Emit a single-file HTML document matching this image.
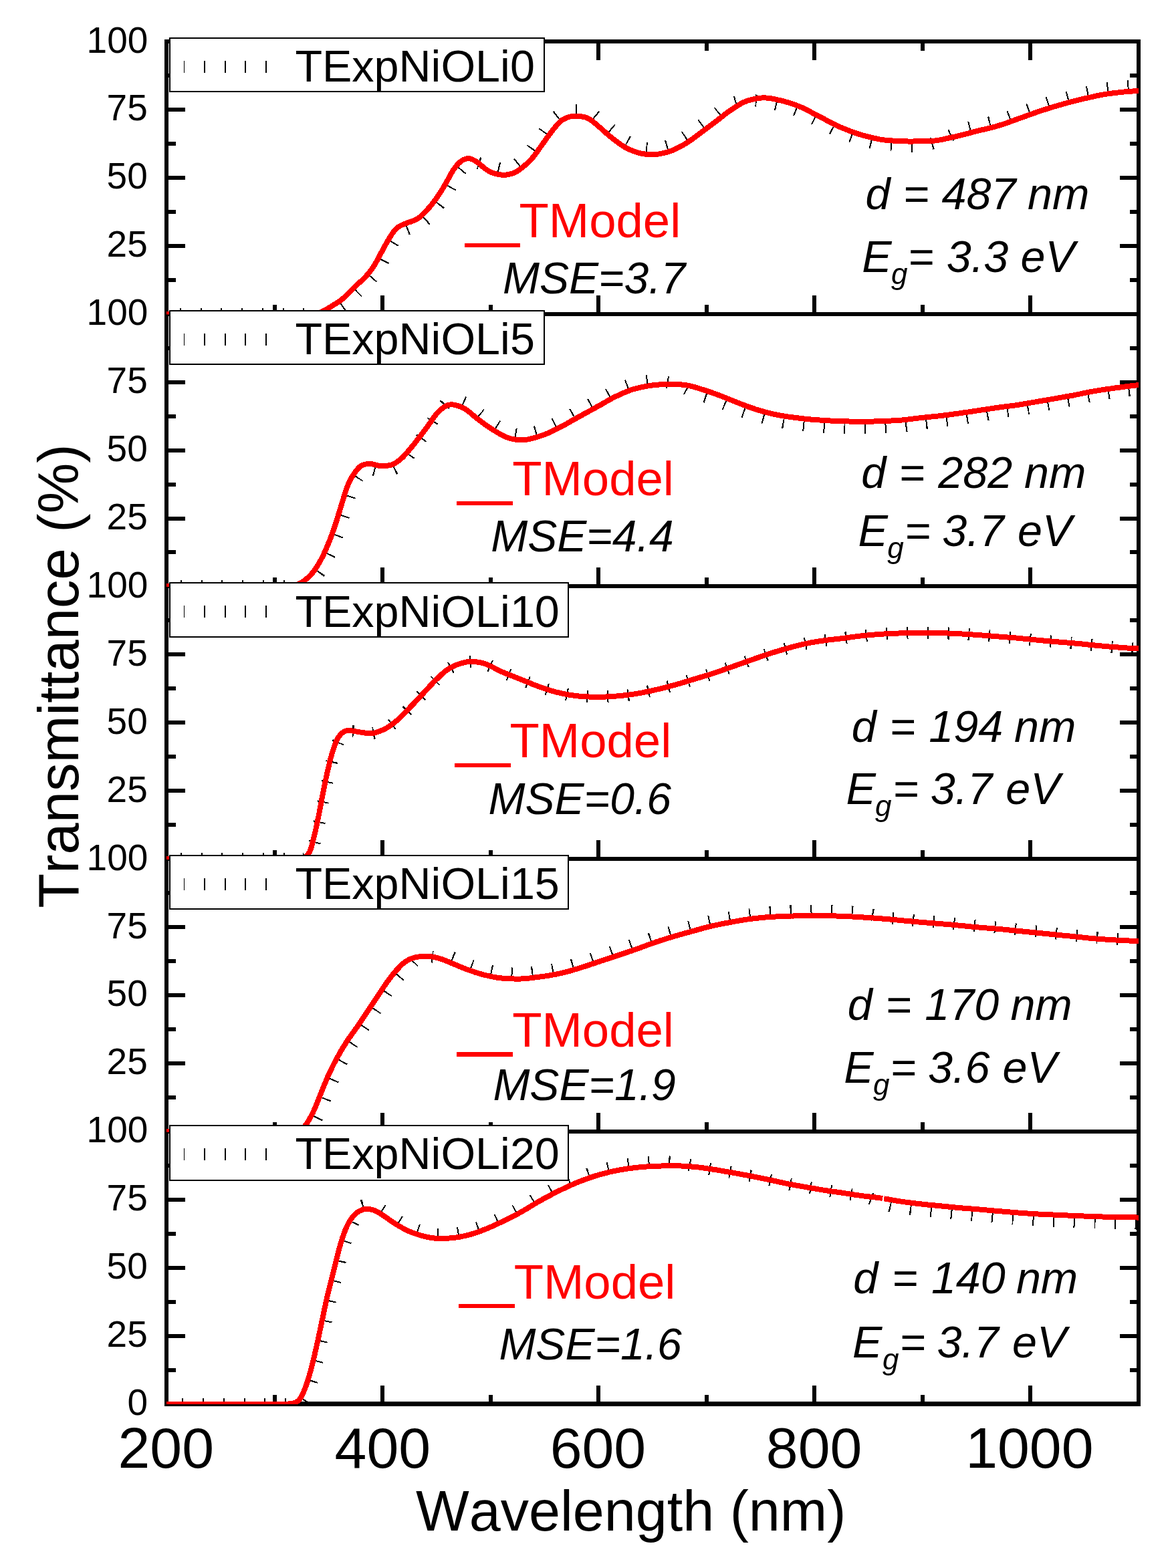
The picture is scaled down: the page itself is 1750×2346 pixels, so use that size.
<!DOCTYPE html><html><head><meta charset="utf-8"><title>Transmittance</title><style>html,body{margin:0;padding:0;background:#fff;}svg{display:block;}text{font-family:'Liberation Sans', Arial, sans-serif;font-kerning:none;}</style></head><body>
<svg width="1750" height="2346" viewBox="0 0 1750 2346" shape-rendering="crispEdges">
<rect width="1750" height="2346" fill="#fff"/>
<defs>
<clipPath id="c0"><rect x="249.0" y="62.0" width="1454.0" height="408.3"/></clipPath>
<clipPath id="c1"><rect x="249.0" y="469.7" width="1454.0" height="408.3"/></clipPath>
<clipPath id="c2"><rect x="249.0" y="877.4" width="1454.0" height="408.3"/></clipPath>
<clipPath id="c3"><rect x="249.0" y="1285.1" width="1454.0" height="408.3"/></clipPath>
<clipPath id="c4"><rect x="249.0" y="1692.8" width="1454.0" height="408.3"/></clipPath>
</defs>
<line x1="246.0" y1="62.0" x2="1706.0" y2="62.0" stroke="#000" stroke-width="6"/>
<line x1="246.0" y1="469.7" x2="1706.0" y2="469.7" stroke="#000" stroke-width="6"/>
<line x1="246.0" y1="877.4" x2="1706.0" y2="877.4" stroke="#000" stroke-width="6"/>
<line x1="246.0" y1="1285.1" x2="1706.0" y2="1285.1" stroke="#000" stroke-width="6"/>
<line x1="246.0" y1="1692.8" x2="1706.0" y2="1692.8" stroke="#000" stroke-width="6"/>
<line x1="246.0" y1="2100.5" x2="1706.0" y2="2100.5" stroke="#000" stroke-width="7"/>
<line x1="249.0" y1="59.0" x2="249.0" y2="2103.5" stroke="#000" stroke-width="6"/>
<line x1="1703.0" y1="59.0" x2="1703.0" y2="2103.5" stroke="#000" stroke-width="6"/>
<line x1="249.0" y1="469.7" x2="277.0" y2="469.7" stroke="#000" stroke-width="6"/>
<line x1="1703.0" y1="469.7" x2="1675.0" y2="469.7" stroke="#000" stroke-width="6"/>
<line x1="249.0" y1="418.7" x2="262.5" y2="418.7" stroke="#000" stroke-width="6"/>
<line x1="1703.0" y1="418.7" x2="1689.5" y2="418.7" stroke="#000" stroke-width="6"/>
<line x1="249.0" y1="367.8" x2="277.0" y2="367.8" stroke="#000" stroke-width="6"/>
<line x1="1703.0" y1="367.8" x2="1675.0" y2="367.8" stroke="#000" stroke-width="6"/>
<line x1="249.0" y1="316.8" x2="262.5" y2="316.8" stroke="#000" stroke-width="6"/>
<line x1="1703.0" y1="316.8" x2="1689.5" y2="316.8" stroke="#000" stroke-width="6"/>
<line x1="249.0" y1="265.9" x2="277.0" y2="265.9" stroke="#000" stroke-width="6"/>
<line x1="1703.0" y1="265.9" x2="1675.0" y2="265.9" stroke="#000" stroke-width="6"/>
<line x1="249.0" y1="214.9" x2="262.5" y2="214.9" stroke="#000" stroke-width="6"/>
<line x1="1703.0" y1="214.9" x2="1689.5" y2="214.9" stroke="#000" stroke-width="6"/>
<line x1="249.0" y1="163.9" x2="277.0" y2="163.9" stroke="#000" stroke-width="6"/>
<line x1="1703.0" y1="163.9" x2="1675.0" y2="163.9" stroke="#000" stroke-width="6"/>
<line x1="249.0" y1="113.0" x2="262.5" y2="113.0" stroke="#000" stroke-width="6"/>
<line x1="1703.0" y1="113.0" x2="1689.5" y2="113.0" stroke="#000" stroke-width="6"/>
<line x1="249.0" y1="62.0" x2="277.0" y2="62.0" stroke="#000" stroke-width="6"/>
<line x1="1703.0" y1="62.0" x2="1675.0" y2="62.0" stroke="#000" stroke-width="6"/>
<line x1="249.0" y1="877.4" x2="277.0" y2="877.4" stroke="#000" stroke-width="6"/>
<line x1="1703.0" y1="877.4" x2="1675.0" y2="877.4" stroke="#000" stroke-width="6"/>
<line x1="249.0" y1="826.4" x2="262.5" y2="826.4" stroke="#000" stroke-width="6"/>
<line x1="1703.0" y1="826.4" x2="1689.5" y2="826.4" stroke="#000" stroke-width="6"/>
<line x1="249.0" y1="775.5" x2="277.0" y2="775.5" stroke="#000" stroke-width="6"/>
<line x1="1703.0" y1="775.5" x2="1675.0" y2="775.5" stroke="#000" stroke-width="6"/>
<line x1="249.0" y1="724.5" x2="262.5" y2="724.5" stroke="#000" stroke-width="6"/>
<line x1="1703.0" y1="724.5" x2="1689.5" y2="724.5" stroke="#000" stroke-width="6"/>
<line x1="249.0" y1="673.5" x2="277.0" y2="673.5" stroke="#000" stroke-width="6"/>
<line x1="1703.0" y1="673.5" x2="1675.0" y2="673.5" stroke="#000" stroke-width="6"/>
<line x1="249.0" y1="622.6" x2="262.5" y2="622.6" stroke="#000" stroke-width="6"/>
<line x1="1703.0" y1="622.6" x2="1689.5" y2="622.6" stroke="#000" stroke-width="6"/>
<line x1="249.0" y1="571.6" x2="277.0" y2="571.6" stroke="#000" stroke-width="6"/>
<line x1="1703.0" y1="571.6" x2="1675.0" y2="571.6" stroke="#000" stroke-width="6"/>
<line x1="249.0" y1="520.7" x2="262.5" y2="520.7" stroke="#000" stroke-width="6"/>
<line x1="1703.0" y1="520.7" x2="1689.5" y2="520.7" stroke="#000" stroke-width="6"/>
<line x1="249.0" y1="469.7" x2="277.0" y2="469.7" stroke="#000" stroke-width="6"/>
<line x1="1703.0" y1="469.7" x2="1675.0" y2="469.7" stroke="#000" stroke-width="6"/>
<line x1="249.0" y1="1285.1" x2="277.0" y2="1285.1" stroke="#000" stroke-width="6"/>
<line x1="1703.0" y1="1285.1" x2="1675.0" y2="1285.1" stroke="#000" stroke-width="6"/>
<line x1="249.0" y1="1234.1" x2="262.5" y2="1234.1" stroke="#000" stroke-width="6"/>
<line x1="1703.0" y1="1234.1" x2="1689.5" y2="1234.1" stroke="#000" stroke-width="6"/>
<line x1="249.0" y1="1183.2" x2="277.0" y2="1183.2" stroke="#000" stroke-width="6"/>
<line x1="1703.0" y1="1183.2" x2="1675.0" y2="1183.2" stroke="#000" stroke-width="6"/>
<line x1="249.0" y1="1132.2" x2="262.5" y2="1132.2" stroke="#000" stroke-width="6"/>
<line x1="1703.0" y1="1132.2" x2="1689.5" y2="1132.2" stroke="#000" stroke-width="6"/>
<line x1="249.0" y1="1081.2" x2="277.0" y2="1081.2" stroke="#000" stroke-width="6"/>
<line x1="1703.0" y1="1081.2" x2="1675.0" y2="1081.2" stroke="#000" stroke-width="6"/>
<line x1="249.0" y1="1030.3" x2="262.5" y2="1030.3" stroke="#000" stroke-width="6"/>
<line x1="1703.0" y1="1030.3" x2="1689.5" y2="1030.3" stroke="#000" stroke-width="6"/>
<line x1="249.0" y1="979.3" x2="277.0" y2="979.3" stroke="#000" stroke-width="6"/>
<line x1="1703.0" y1="979.3" x2="1675.0" y2="979.3" stroke="#000" stroke-width="6"/>
<line x1="249.0" y1="928.4" x2="262.5" y2="928.4" stroke="#000" stroke-width="6"/>
<line x1="1703.0" y1="928.4" x2="1689.5" y2="928.4" stroke="#000" stroke-width="6"/>
<line x1="249.0" y1="877.4" x2="277.0" y2="877.4" stroke="#000" stroke-width="6"/>
<line x1="1703.0" y1="877.4" x2="1675.0" y2="877.4" stroke="#000" stroke-width="6"/>
<line x1="249.0" y1="1692.8" x2="277.0" y2="1692.8" stroke="#000" stroke-width="6"/>
<line x1="1703.0" y1="1692.8" x2="1675.0" y2="1692.8" stroke="#000" stroke-width="6"/>
<line x1="249.0" y1="1641.8" x2="262.5" y2="1641.8" stroke="#000" stroke-width="6"/>
<line x1="1703.0" y1="1641.8" x2="1689.5" y2="1641.8" stroke="#000" stroke-width="6"/>
<line x1="249.0" y1="1590.9" x2="277.0" y2="1590.9" stroke="#000" stroke-width="6"/>
<line x1="1703.0" y1="1590.9" x2="1675.0" y2="1590.9" stroke="#000" stroke-width="6"/>
<line x1="249.0" y1="1539.9" x2="262.5" y2="1539.9" stroke="#000" stroke-width="6"/>
<line x1="1703.0" y1="1539.9" x2="1689.5" y2="1539.9" stroke="#000" stroke-width="6"/>
<line x1="249.0" y1="1488.9" x2="277.0" y2="1488.9" stroke="#000" stroke-width="6"/>
<line x1="1703.0" y1="1488.9" x2="1675.0" y2="1488.9" stroke="#000" stroke-width="6"/>
<line x1="249.0" y1="1438.0" x2="262.5" y2="1438.0" stroke="#000" stroke-width="6"/>
<line x1="1703.0" y1="1438.0" x2="1689.5" y2="1438.0" stroke="#000" stroke-width="6"/>
<line x1="249.0" y1="1387.0" x2="277.0" y2="1387.0" stroke="#000" stroke-width="6"/>
<line x1="1703.0" y1="1387.0" x2="1675.0" y2="1387.0" stroke="#000" stroke-width="6"/>
<line x1="249.0" y1="1336.1" x2="262.5" y2="1336.1" stroke="#000" stroke-width="6"/>
<line x1="1703.0" y1="1336.1" x2="1689.5" y2="1336.1" stroke="#000" stroke-width="6"/>
<line x1="249.0" y1="1285.1" x2="277.0" y2="1285.1" stroke="#000" stroke-width="6"/>
<line x1="1703.0" y1="1285.1" x2="1675.0" y2="1285.1" stroke="#000" stroke-width="6"/>
<line x1="249.0" y1="2100.5" x2="277.0" y2="2100.5" stroke="#000" stroke-width="6"/>
<line x1="1703.0" y1="2100.5" x2="1675.0" y2="2100.5" stroke="#000" stroke-width="6"/>
<line x1="249.0" y1="2049.5" x2="262.5" y2="2049.5" stroke="#000" stroke-width="6"/>
<line x1="1703.0" y1="2049.5" x2="1689.5" y2="2049.5" stroke="#000" stroke-width="6"/>
<line x1="249.0" y1="1998.6" x2="277.0" y2="1998.6" stroke="#000" stroke-width="6"/>
<line x1="1703.0" y1="1998.6" x2="1675.0" y2="1998.6" stroke="#000" stroke-width="6"/>
<line x1="249.0" y1="1947.6" x2="262.5" y2="1947.6" stroke="#000" stroke-width="6"/>
<line x1="1703.0" y1="1947.6" x2="1689.5" y2="1947.6" stroke="#000" stroke-width="6"/>
<line x1="249.0" y1="1896.6" x2="277.0" y2="1896.6" stroke="#000" stroke-width="6"/>
<line x1="1703.0" y1="1896.6" x2="1675.0" y2="1896.6" stroke="#000" stroke-width="6"/>
<line x1="249.0" y1="1845.7" x2="262.5" y2="1845.7" stroke="#000" stroke-width="6"/>
<line x1="1703.0" y1="1845.7" x2="1689.5" y2="1845.7" stroke="#000" stroke-width="6"/>
<line x1="249.0" y1="1794.7" x2="277.0" y2="1794.7" stroke="#000" stroke-width="6"/>
<line x1="1703.0" y1="1794.7" x2="1675.0" y2="1794.7" stroke="#000" stroke-width="6"/>
<line x1="249.0" y1="1743.8" x2="262.5" y2="1743.8" stroke="#000" stroke-width="6"/>
<line x1="1703.0" y1="1743.8" x2="1689.5" y2="1743.8" stroke="#000" stroke-width="6"/>
<line x1="249.0" y1="1692.8" x2="277.0" y2="1692.8" stroke="#000" stroke-width="6"/>
<line x1="1703.0" y1="1692.8" x2="1675.0" y2="1692.8" stroke="#000" stroke-width="6"/>
<line x1="410.6" y1="469.7" x2="410.6" y2="456.2" stroke="#000" stroke-width="6"/>
<line x1="572.1" y1="469.7" x2="572.1" y2="441.7" stroke="#000" stroke-width="6"/>
<line x1="733.7" y1="469.7" x2="733.7" y2="456.2" stroke="#000" stroke-width="6"/>
<line x1="895.2" y1="469.7" x2="895.2" y2="441.7" stroke="#000" stroke-width="6"/>
<line x1="1056.8" y1="469.7" x2="1056.8" y2="456.2" stroke="#000" stroke-width="6"/>
<line x1="1218.3" y1="469.7" x2="1218.3" y2="441.7" stroke="#000" stroke-width="6"/>
<line x1="1379.9" y1="469.7" x2="1379.9" y2="456.2" stroke="#000" stroke-width="6"/>
<line x1="1541.4" y1="469.7" x2="1541.4" y2="441.7" stroke="#000" stroke-width="6"/>
<line x1="410.6" y1="877.4" x2="410.6" y2="863.9" stroke="#000" stroke-width="6"/>
<line x1="572.1" y1="877.4" x2="572.1" y2="849.4" stroke="#000" stroke-width="6"/>
<line x1="733.7" y1="877.4" x2="733.7" y2="863.9" stroke="#000" stroke-width="6"/>
<line x1="895.2" y1="877.4" x2="895.2" y2="849.4" stroke="#000" stroke-width="6"/>
<line x1="1056.8" y1="877.4" x2="1056.8" y2="863.9" stroke="#000" stroke-width="6"/>
<line x1="1218.3" y1="877.4" x2="1218.3" y2="849.4" stroke="#000" stroke-width="6"/>
<line x1="1379.9" y1="877.4" x2="1379.9" y2="863.9" stroke="#000" stroke-width="6"/>
<line x1="1541.4" y1="877.4" x2="1541.4" y2="849.4" stroke="#000" stroke-width="6"/>
<line x1="410.6" y1="1285.1" x2="410.6" y2="1271.6" stroke="#000" stroke-width="6"/>
<line x1="572.1" y1="1285.1" x2="572.1" y2="1257.1" stroke="#000" stroke-width="6"/>
<line x1="733.7" y1="1285.1" x2="733.7" y2="1271.6" stroke="#000" stroke-width="6"/>
<line x1="895.2" y1="1285.1" x2="895.2" y2="1257.1" stroke="#000" stroke-width="6"/>
<line x1="1056.8" y1="1285.1" x2="1056.8" y2="1271.6" stroke="#000" stroke-width="6"/>
<line x1="1218.3" y1="1285.1" x2="1218.3" y2="1257.1" stroke="#000" stroke-width="6"/>
<line x1="1379.9" y1="1285.1" x2="1379.9" y2="1271.6" stroke="#000" stroke-width="6"/>
<line x1="1541.4" y1="1285.1" x2="1541.4" y2="1257.1" stroke="#000" stroke-width="6"/>
<line x1="410.6" y1="1692.8" x2="410.6" y2="1679.3" stroke="#000" stroke-width="6"/>
<line x1="572.1" y1="1692.8" x2="572.1" y2="1664.8" stroke="#000" stroke-width="6"/>
<line x1="733.7" y1="1692.8" x2="733.7" y2="1679.3" stroke="#000" stroke-width="6"/>
<line x1="895.2" y1="1692.8" x2="895.2" y2="1664.8" stroke="#000" stroke-width="6"/>
<line x1="1056.8" y1="1692.8" x2="1056.8" y2="1679.3" stroke="#000" stroke-width="6"/>
<line x1="1218.3" y1="1692.8" x2="1218.3" y2="1664.8" stroke="#000" stroke-width="6"/>
<line x1="1379.9" y1="1692.8" x2="1379.9" y2="1679.3" stroke="#000" stroke-width="6"/>
<line x1="1541.4" y1="1692.8" x2="1541.4" y2="1664.8" stroke="#000" stroke-width="6"/>
<line x1="410.6" y1="2100.5" x2="410.6" y2="2087.0" stroke="#000" stroke-width="6"/>
<line x1="572.1" y1="2100.5" x2="572.1" y2="2072.5" stroke="#000" stroke-width="6"/>
<line x1="733.7" y1="2100.5" x2="733.7" y2="2087.0" stroke="#000" stroke-width="6"/>
<line x1="895.2" y1="2100.5" x2="895.2" y2="2072.5" stroke="#000" stroke-width="6"/>
<line x1="1056.8" y1="2100.5" x2="1056.8" y2="2087.0" stroke="#000" stroke-width="6"/>
<line x1="1218.3" y1="2100.5" x2="1218.3" y2="2072.5" stroke="#000" stroke-width="6"/>
<line x1="1379.9" y1="2100.5" x2="1379.9" y2="2087.0" stroke="#000" stroke-width="6"/>
<line x1="1541.4" y1="2100.5" x2="1541.4" y2="2072.5" stroke="#000" stroke-width="6"/>
<line x1="410.6" y1="62.0" x2="410.6" y2="75.5" stroke="#000" stroke-width="6"/>
<line x1="572.1" y1="62.0" x2="572.1" y2="90.0" stroke="#000" stroke-width="6"/>
<line x1="733.7" y1="62.0" x2="733.7" y2="75.5" stroke="#000" stroke-width="6"/>
<line x1="895.2" y1="62.0" x2="895.2" y2="90.0" stroke="#000" stroke-width="6"/>
<line x1="1056.8" y1="62.0" x2="1056.8" y2="75.5" stroke="#000" stroke-width="6"/>
<line x1="1218.3" y1="62.0" x2="1218.3" y2="90.0" stroke="#000" stroke-width="6"/>
<line x1="1379.9" y1="62.0" x2="1379.9" y2="75.5" stroke="#000" stroke-width="6"/>
<line x1="1541.4" y1="62.0" x2="1541.4" y2="90.0" stroke="#000" stroke-width="6"/>
<defs>
<path id="m0" d="M249.0,469.7 L251.8,469.7 L253.3,469.7 L255.1,469.7 L257.0,469.7 L259.0,469.7 L261.0,469.7 L263.0,469.7 L265.0,469.7 L267.0,469.7 L269.0,469.7 L271.0,469.7 L273.0,469.7 L275.0,469.7 L277.0,469.7 L279.0,469.7 L281.0,469.7 L283.0,469.7 L285.0,469.7 L287.0,469.7 L289.0,469.7 L291.0,469.7 L293.0,469.7 L295.0,469.7 L297.0,469.7 L299.0,469.7 L301.0,469.7 L303.0,469.7 L305.0,469.7 L307.0,469.7 L309.0,469.7 L311.0,469.7 L313.0,469.7 L315.0,469.7 L317.0,469.7 L319.0,469.7 L321.0,469.7 L323.0,469.7 L325.0,469.7 L327.0,469.7 L329.0,469.7 L331.0,469.7 L333.0,469.7 L335.0,469.7 L337.0,469.7 L339.0,469.7 L341.0,469.7 L343.0,469.7 L345.0,469.7 L347.0,469.7 L349.0,469.7 L351.0,469.7 L353.0,469.7 L355.0,469.7 L357.0,469.7 L359.0,469.7 L361.0,469.7 L363.0,469.7 L365.0,469.7 L367.0,469.7 L369.0,469.7 L371.0,469.7 L373.0,469.7 L375.0,469.7 L377.0,469.7 L379.0,469.7 L381.0,469.7 L383.0,469.7 L385.0,469.7 L387.0,469.7 L389.0,469.7 L391.0,469.7 L393.0,469.7 L395.0,469.7 L397.0,469.7 L399.0,469.7 L401.0,469.7 L403.0,469.7 L405.0,469.7 L407.0,469.7 L409.0,469.7 L411.0,469.7 L413.0,469.7 L415.0,469.7 L417.0,469.7 L419.0,469.7 L421.0,469.7 L423.0,469.7 L425.0,469.7 L427.0,469.7 L429.0,469.7 L431.0,469.7 L433.0,469.7 L435.0,469.7 L437.0,469.7 L439.0,469.7 L441.0,469.7 L443.0,469.7 L445.0,469.7 L447.0,469.7 L449.0,469.7 L451.0,469.7 L453.0,469.7 L455.0,469.7 L457.0,469.7 L459.0,469.7 L461.0,469.7 L463.0,469.6 L465.0,469.6 L467.0,469.5 L469.0,469.4 L471.0,469.2 L472.9,468.9 L474.9,468.6 L476.8,468.1 L478.7,467.5 L480.5,466.8 L482.4,465.9 L484.1,465.0 L485.9,464.1 L487.6,463.1 L489.4,462.1 L491.1,461.1 L492.8,460.1 L494.5,459.1 L496.2,458.0 L498.0,457.0 L499.6,455.9 L501.3,454.9 L503.0,453.8 L504.7,452.7 L506.3,451.6 L508.0,450.4 L509.6,449.2 L511.2,448.0 L512.8,446.8 L514.3,445.5 L515.8,444.2 L517.2,442.8 L518.6,441.4 L520.0,440.0 L521.4,438.5 L522.8,437.1 L524.2,435.7 L525.6,434.2 L527.0,432.8 L528.4,431.4 L529.9,430.0 L531.3,428.6 L532.8,427.2 L534.2,425.9 L535.7,424.5 L537.2,423.2 L538.7,421.9 L540.2,420.5 L541.6,419.2 L543.1,417.8 L544.5,416.4 L545.9,415.0 L547.3,413.5 L548.6,412.0 L549.9,410.5 L551.2,409.0 L552.5,407.4 L553.7,405.9 L554.9,404.3 L556.1,402.7 L557.3,401.0 L558.4,399.4 L559.4,397.7 L560.5,396.0 L561.5,394.2 L562.5,392.5 L563.4,390.7 L564.4,389.0 L565.3,387.2 L566.2,385.5 L567.2,383.7 L568.1,381.9 L569.1,380.2 L570.0,378.4 L571.0,376.7 L571.9,374.9 L572.9,373.1 L573.8,371.4 L574.8,369.6 L575.7,367.9 L576.7,366.1 L577.7,364.3 L578.7,362.6 L579.7,360.9 L580.7,359.2 L581.7,357.4 L582.8,355.7 L583.8,354.0 L584.9,352.3 L585.9,350.7 L587.0,349.0 L588.2,347.3 L589.3,345.7 L590.6,344.2 L592.0,342.8 L593.4,341.4 L595.0,340.2 L596.6,339.1 L598.3,338.1 L600.1,337.2 L601.9,336.3 L603.7,335.5 L605.6,334.8 L607.4,334.1 L609.3,333.4 L611.2,332.7 L613.1,332.1 L615.0,331.5 L616.9,330.8 L618.7,330.1 L620.6,329.3 L622.4,328.4 L624.1,327.5 L625.8,326.4 L627.4,325.2 L628.9,324.0 L630.4,322.7 L631.9,321.3 L633.3,319.9 L634.7,318.5 L636.1,317.0 L637.4,315.6 L638.8,314.1 L640.1,312.6 L641.4,311.1 L642.8,309.6 L644.0,308.1 L645.3,306.5 L646.6,305.0 L647.8,303.4 L649.0,301.8 L650.2,300.2 L651.4,298.6 L652.5,296.9 L653.7,295.3 L654.8,293.6 L655.9,292.0 L657.0,290.3 L658.1,288.6 L659.2,287.0 L660.3,285.3 L661.3,283.6 L662.4,281.9 L663.4,280.1 L664.4,278.4 L665.4,276.7 L666.4,275.0 L667.4,273.2 L668.4,271.5 L669.3,269.7 L670.3,268.0 L671.2,266.2 L672.1,264.4 L673.1,262.7 L674.0,260.9 L675.0,259.2 L676.1,257.5 L677.1,255.8 L678.2,254.1 L679.4,252.5 L680.5,250.8 L681.7,249.3 L683.0,247.7 L684.3,246.2 L685.6,244.7 L687.1,243.3 L688.6,242.0 L690.1,240.9 L691.8,239.8 L693.6,238.9 L695.4,238.1 L697.2,237.6 L699.1,237.2 L701.0,237.2 L702.9,237.4 L704.8,237.9 L706.6,238.6 L708.4,239.4 L710.2,240.4 L711.9,241.4 L713.6,242.5 L715.2,243.6 L716.7,244.9 L718.3,246.2 L719.8,247.5 L721.3,248.8 L722.8,250.1 L724.3,251.4 L725.9,252.6 L727.5,253.7 L729.2,254.8 L730.9,255.8 L732.7,256.7 L734.5,257.6 L736.3,258.4 L738.2,259.0 L740.1,259.6 L742.0,260.2 L744.0,260.6 L745.9,261.0 L747.9,261.3 L749.9,261.6 L751.8,261.7 L753.8,261.8 L755.8,261.7 L757.8,261.5 L759.8,261.2 L761.7,260.8 L763.7,260.3 L765.6,259.8 L767.5,259.2 L769.3,258.5 L771.1,257.7 L772.9,256.7 L774.5,255.7 L776.2,254.5 L777.8,253.3 L779.3,252.1 L780.9,250.8 L782.4,249.5 L784.0,248.3 L785.5,247.0 L787.0,245.7 L788.5,244.4 L790.0,243.0 L791.4,241.6 L792.8,240.2 L794.2,238.8 L795.5,237.3 L796.8,235.8 L798.1,234.2 L799.3,232.6 L800.5,231.0 L801.7,229.4 L802.9,227.8 L804.1,226.2 L805.2,224.5 L806.3,222.9 L807.5,221.3 L808.6,219.6 L809.8,218.0 L811.0,216.4 L812.1,214.7 L813.3,213.1 L814.4,211.5 L815.6,209.8 L816.8,208.2 L817.9,206.6 L819.1,204.9 L820.2,203.3 L821.4,201.7 L822.6,200.1 L823.8,198.5 L825.0,196.9 L826.2,195.3 L827.5,193.8 L828.7,192.2 L830.0,190.7 L831.3,189.2 L832.6,187.6 L833.9,186.1 L835.3,184.7 L836.7,183.2 L838.1,181.9 L839.6,180.6 L841.2,179.4 L842.9,178.4 L844.7,177.5 L846.5,176.7 L848.3,175.9 L850.2,175.3 L852.1,174.7 L854.1,174.3 L856.0,173.9 L858.0,173.7 L860.0,173.5 L861.9,173.5 L863.9,173.6 L865.9,173.8 L867.9,174.0 L869.9,174.3 L871.8,174.7 L873.8,175.1 L875.7,175.6 L877.6,176.3 L879.4,177.0 L881.2,177.9 L882.8,179.0 L884.5,180.1 L886.1,181.3 L887.6,182.6 L889.1,183.9 L890.7,185.1 L892.2,186.4 L893.7,187.7 L895.2,189.0 L896.8,190.3 L898.3,191.6 L899.8,192.9 L901.3,194.3 L902.8,195.6 L904.3,196.9 L905.7,198.3 L907.2,199.6 L908.7,200.9 L910.3,202.2 L911.8,203.5 L913.3,204.8 L914.9,206.0 L916.5,207.3 L918.0,208.5 L919.6,209.7 L921.2,211.0 L922.8,212.2 L924.4,213.4 L926.0,214.6 L927.6,215.7 L929.3,216.9 L930.9,217.9 L932.6,219.0 L934.4,220.0 L936.1,220.9 L937.9,221.8 L939.7,222.7 L941.5,223.6 L943.3,224.4 L945.2,225.2 L947.0,225.9 L948.9,226.7 L950.8,227.3 L952.7,228.0 L954.6,228.5 L956.5,229.1 L958.4,229.5 L960.4,229.9 L962.4,230.2 L964.3,230.5 L966.3,230.7 L968.3,230.9 L970.3,231.1 L972.3,231.2 L974.3,231.3 L976.3,231.3 L978.3,231.2 L980.3,231.1 L982.3,230.9 L984.2,230.6 L986.2,230.3 L988.2,229.9 L990.1,229.5 L992.1,229.1 L994.0,228.6 L996.0,228.1 L997.9,227.6 L999.8,227.1 L1001.7,226.5 L1003.6,225.8 L1005.5,225.1 L1007.3,224.3 L1009.2,223.5 L1011.0,222.7 L1012.8,221.8 L1014.5,220.9 L1016.3,220.0 L1018.1,219.0 L1019.8,218.1 L1021.6,217.1 L1023.3,216.1 L1025.0,215.1 L1026.7,214.0 L1028.4,212.9 L1030.1,211.8 L1031.7,210.7 L1033.3,209.5 L1035.0,208.4 L1036.6,207.2 L1038.2,206.0 L1039.8,204.8 L1041.4,203.6 L1043.0,202.4 L1044.6,201.2 L1046.2,200.0 L1047.8,198.8 L1049.4,197.6 L1051.0,196.4 L1052.6,195.2 L1054.2,194.0 L1055.8,192.8 L1057.4,191.6 L1059.0,190.4 L1060.6,189.2 L1062.2,188.0 L1063.8,186.8 L1065.4,185.6 L1067.0,184.4 L1068.6,183.2 L1070.2,182.0 L1071.8,180.8 L1073.4,179.6 L1075.0,178.4 L1076.5,177.1 L1078.1,175.9 L1079.7,174.7 L1081.3,173.4 L1082.8,172.2 L1084.4,171.0 L1086.0,169.8 L1087.6,168.6 L1089.3,167.4 L1090.9,166.3 L1092.5,165.1 L1094.2,164.0 L1095.9,162.9 L1097.5,161.8 L1099.2,160.7 L1100.9,159.6 L1102.6,158.6 L1104.3,157.5 L1106.0,156.5 L1107.7,155.4 L1109.4,154.5 L1111.2,153.6 L1113.0,152.7 L1114.8,151.9 L1116.7,151.2 L1118.6,150.6 L1120.5,150.0 L1122.4,149.5 L1124.4,149.0 L1126.3,148.5 L1128.3,148.1 L1130.2,147.7 L1132.2,147.4 L1134.2,147.0 L1136.1,146.8 L1138.1,146.6 L1140.1,146.4 L1142.1,146.4 L1144.1,146.4 L1146.1,146.5 L1148.1,146.6 L1150.1,146.8 L1152.1,147.1 L1154.0,147.4 L1156.0,147.8 L1157.9,148.2 L1159.9,148.6 L1161.9,149.0 L1163.8,149.5 L1165.8,149.9 L1167.7,150.4 L1169.6,150.9 L1171.6,151.3 L1173.5,151.8 L1175.5,152.4 L1177.4,152.9 L1179.3,153.5 L1181.2,154.1 L1183.1,154.7 L1185.0,155.3 L1186.9,156.0 L1188.8,156.7 L1190.6,157.4 L1192.5,158.1 L1194.4,158.8 L1196.2,159.5 L1198.1,160.3 L1199.9,161.1 L1201.7,162.0 L1203.5,162.8 L1205.3,163.7 L1207.1,164.6 L1208.9,165.6 L1210.6,166.5 L1212.4,167.4 L1214.2,168.4 L1215.9,169.3 L1217.7,170.2 L1219.5,171.2 L1221.2,172.1 L1223.0,173.0 L1224.8,174.0 L1226.6,174.9 L1228.3,175.8 L1230.1,176.7 L1231.9,177.6 L1233.7,178.5 L1235.4,179.5 L1237.2,180.4 L1239.0,181.3 L1240.8,182.2 L1242.5,183.2 L1244.3,184.1 L1246.1,185.0 L1247.9,185.9 L1249.7,186.8 L1251.5,187.7 L1253.3,188.5 L1255.1,189.4 L1256.9,190.2 L1258.7,191.0 L1260.6,191.8 L1262.4,192.5 L1264.3,193.3 L1266.1,194.0 L1268.0,194.7 L1269.9,195.5 L1271.7,196.2 L1273.6,196.9 L1275.5,197.6 L1277.4,198.3 L1279.3,198.9 L1281.1,199.6 L1283.0,200.2 L1285.0,200.8 L1286.9,201.4 L1288.8,201.9 L1290.7,202.5 L1292.6,203.0 L1294.6,203.5 L1296.5,204.0 L1298.4,204.5 L1300.4,205.0 L1302.3,205.5 L1304.3,206.0 L1306.2,206.4 L1308.2,206.9 L1310.1,207.3 L1312.1,207.7 L1314.0,208.1 L1316.0,208.5 L1318.0,208.8 L1319.9,209.1 L1321.9,209.4 L1323.9,209.6 L1325.9,209.8 L1327.9,210.0 L1329.9,210.1 L1331.9,210.3 L1333.9,210.4 L1335.9,210.6 L1337.9,210.7 L1339.9,210.8 L1341.9,210.9 L1343.9,211.0 L1345.9,211.1 L1347.8,211.2 L1349.8,211.3 L1351.8,211.4 L1353.8,211.4 L1355.8,211.4 L1357.8,211.5 L1359.8,211.5 L1361.8,211.5 L1363.8,211.5 L1365.8,211.5 L1367.8,211.4 L1369.8,211.4 L1371.8,211.4 L1373.8,211.4 L1375.8,211.3 L1377.8,211.3 L1379.8,211.3 L1381.8,211.2 L1383.8,211.2 L1385.8,211.1 L1387.8,211.0 L1389.8,211.0 L1391.8,210.9 L1393.8,210.8 L1395.8,210.7 L1397.8,210.5 L1399.8,210.3 L1401.8,210.0 L1403.8,209.7 L1405.7,209.4 L1407.7,209.0 L1409.7,208.6 L1411.6,208.2 L1413.6,207.8 L1415.5,207.3 L1417.5,206.9 L1419.4,206.4 L1421.4,206.0 L1423.3,205.6 L1425.3,205.1 L1427.2,204.7 L1429.2,204.3 L1431.1,203.8 L1433.1,203.3 L1435.0,202.9 L1437.0,202.4 L1438.9,201.9 L1440.8,201.4 L1442.8,200.9 L1444.7,200.4 L1446.6,199.9 L1448.6,199.4 L1450.5,198.9 L1452.4,198.4 L1454.4,197.9 L1456.3,197.4 L1458.2,196.9 L1460.2,196.4 L1462.1,195.9 L1464.1,195.4 L1466.0,194.9 L1468.0,194.5 L1469.9,194.0 L1471.9,193.6 L1473.8,193.1 L1475.7,192.6 L1477.7,192.2 L1479.6,191.7 L1481.6,191.2 L1483.5,190.7 L1485.4,190.2 L1487.4,189.7 L1489.3,189.2 L1491.2,188.6 L1493.2,188.1 L1495.1,187.5 L1497.0,186.9 L1498.9,186.3 L1500.8,185.7 L1502.7,185.0 L1504.6,184.4 L1506.5,183.7 L1508.3,183.1 L1510.2,182.4 L1512.1,181.7 L1514.0,181.0 L1515.9,180.3 L1517.7,179.7 L1519.6,179.0 L1521.5,178.3 L1523.4,177.6 L1525.3,176.9 L1527.2,176.3 L1529.0,175.6 L1530.9,174.9 L1532.8,174.3 L1534.7,173.6 L1536.6,172.9 L1538.5,172.2 L1540.3,171.5 L1542.2,170.9 L1544.1,170.2 L1546.0,169.5 L1547.9,168.9 L1549.8,168.2 L1551.6,167.5 L1553.5,166.9 L1555.4,166.3 L1557.3,165.6 L1559.2,165.0 L1561.1,164.4 L1563.0,163.8 L1564.9,163.2 L1566.9,162.6 L1568.8,162.0 L1570.7,161.4 L1572.6,160.8 L1574.5,160.2 L1576.4,159.6 L1578.3,159.0 L1580.2,158.5 L1582.2,157.9 L1584.1,157.4 L1586.0,156.8 L1587.9,156.3 L1589.9,155.7 L1591.8,155.2 L1593.7,154.7 L1595.6,154.1 L1597.6,153.6 L1599.5,153.1 L1601.4,152.6 L1603.4,152.1 L1605.3,151.6 L1607.2,151.1 L1609.2,150.6 L1611.1,150.1 L1613.1,149.6 L1615.0,149.2 L1617.0,148.7 L1618.9,148.2 L1620.8,147.8 L1622.8,147.3 L1624.7,146.9 L1626.7,146.4 L1628.7,146.0 L1630.6,145.6 L1632.6,145.1 L1634.5,144.7 L1636.5,144.3 L1638.4,143.8 L1640.4,143.4 L1642.3,143.0 L1644.3,142.6 L1646.2,142.2 L1648.2,141.8 L1650.2,141.5 L1652.1,141.1 L1654.1,140.8 L1656.1,140.5 L1658.1,140.2 L1660.1,139.9 L1662.0,139.7 L1664.0,139.4 L1666.0,139.2 L1668.0,138.9 L1670.0,138.7 L1672.0,138.5 L1673.9,138.2 L1675.9,138.0 L1677.9,137.8 L1679.9,137.6 L1681.9,137.4 L1683.9,137.2 L1685.9,137.1 L1687.9,136.9 L1689.9,136.7 L1691.9,136.6 L1693.9,136.5 L1695.8,136.3 L1697.7,136.2 L1699.3,136.2 L1700.7,136.1 L1703.0,136.1"/>
<path id="m1" d="M249.0,877.4 L251.8,877.4 L253.3,877.4 L255.1,877.4 L257.0,877.4 L259.0,877.4 L261.0,877.4 L263.0,877.4 L265.0,877.4 L267.0,877.4 L269.0,877.4 L271.0,877.4 L273.0,877.4 L275.0,877.4 L277.0,877.4 L279.0,877.4 L281.0,877.4 L283.0,877.4 L285.0,877.4 L287.0,877.4 L289.0,877.4 L291.0,877.4 L293.0,877.4 L295.0,877.4 L297.0,877.4 L299.0,877.4 L301.0,877.4 L303.0,877.4 L305.0,877.4 L307.0,877.4 L309.0,877.4 L311.0,877.4 L313.0,877.4 L315.0,877.4 L317.0,877.4 L319.0,877.4 L321.0,877.4 L323.0,877.4 L325.0,877.4 L327.0,877.4 L329.0,877.4 L331.0,877.4 L333.0,877.4 L335.0,877.4 L337.0,877.4 L339.0,877.4 L341.0,877.4 L343.0,877.4 L345.0,877.4 L347.0,877.4 L349.0,877.4 L351.0,877.4 L353.0,877.4 L355.0,877.4 L357.0,877.4 L359.0,877.4 L361.0,877.4 L363.0,877.4 L365.0,877.4 L367.0,877.4 L369.0,877.4 L371.0,877.4 L373.0,877.4 L375.0,877.4 L377.0,877.4 L379.0,877.4 L381.0,877.4 L383.0,877.4 L385.0,877.4 L387.0,877.4 L389.0,877.4 L391.0,877.4 L393.0,877.4 L395.0,877.4 L397.0,877.4 L399.0,877.4 L401.0,877.4 L403.0,877.4 L405.0,877.4 L407.0,877.4 L409.0,877.4 L411.0,877.4 L413.0,877.4 L415.0,877.4 L417.0,877.4 L419.0,877.4 L421.0,877.4 L423.0,877.4 L425.0,877.4 L427.0,877.4 L429.0,877.3 L431.0,877.3 L433.0,877.2 L435.0,877.0 L437.0,876.8 L438.9,876.4 L440.9,876.0 L442.8,875.5 L444.6,874.8 L446.4,874.0 L448.2,873.1 L449.9,872.1 L451.7,871.1 L453.3,870.0 L455.0,868.9 L456.6,867.7 L458.1,866.4 L459.6,865.1 L461.1,863.8 L462.6,862.4 L464.0,861.0 L465.3,859.5 L466.6,858.0 L467.9,856.5 L469.1,854.9 L470.3,853.3 L471.5,851.6 L472.6,850.0 L473.7,848.3 L474.7,846.6 L475.8,844.9 L476.8,843.2 L477.8,841.5 L478.8,839.7 L479.7,838.0 L480.7,836.2 L481.6,834.4 L482.5,832.7 L483.4,830.9 L484.3,829.1 L485.1,827.2 L485.9,825.4 L486.8,823.6 L487.6,821.8 L488.4,819.9 L489.1,818.1 L489.9,816.2 L490.7,814.4 L491.4,812.5 L492.2,810.7 L492.9,808.8 L493.7,807.0 L494.4,805.1 L495.1,803.2 L495.8,801.4 L496.5,799.5 L497.2,797.6 L497.8,795.7 L498.5,793.8 L499.2,792.0 L499.8,790.1 L500.5,788.2 L501.1,786.3 L501.7,784.4 L502.4,782.5 L503.0,780.6 L503.6,778.7 L504.2,776.8 L504.8,774.9 L505.4,772.9 L505.9,771.0 L506.5,769.1 L507.1,767.2 L507.7,765.3 L508.2,763.4 L508.8,761.5 L509.4,759.5 L510.0,757.6 L510.6,755.7 L511.2,753.8 L511.8,751.9 L512.4,750.0 L513.0,748.1 L513.6,746.2 L514.1,744.3 L514.7,742.3 L515.3,740.4 L515.9,738.5 L516.5,736.6 L517.2,734.7 L517.8,732.8 L518.5,730.9 L519.1,729.1 L519.9,727.2 L520.6,725.4 L521.4,723.5 L522.2,721.7 L523.1,719.9 L524.0,718.1 L524.9,716.4 L525.9,714.6 L526.9,712.9 L528.0,711.2 L529.1,709.5 L530.2,707.9 L531.4,706.3 L532.6,704.7 L533.9,703.1 L535.1,701.6 L536.5,700.1 L537.9,698.7 L539.4,697.5 L541.0,696.5 L542.8,695.7 L544.6,695.1 L546.5,694.6 L548.5,694.3 L550.5,694.1 L552.4,694.1 L554.4,694.1 L556.4,694.3 L558.3,694.6 L560.3,695.1 L562.2,695.6 L564.1,696.1 L566.0,696.6 L568.0,696.9 L569.9,697.1 L571.9,697.2 L573.9,697.1 L575.9,697.0 L577.9,696.9 L579.9,696.6 L581.8,696.3 L583.8,695.9 L585.7,695.4 L587.5,694.7 L589.3,693.9 L591.1,692.9 L592.7,691.9 L594.4,690.7 L596.0,689.6 L597.6,688.3 L599.1,687.1 L600.6,685.7 L602.1,684.4 L603.5,683.0 L604.8,681.5 L606.2,680.0 L607.5,678.5 L608.8,677.0 L610.1,675.5 L611.4,674.0 L612.7,672.5 L614.0,670.9 L615.3,669.4 L616.5,667.9 L617.8,666.3 L619.1,664.7 L620.3,663.2 L621.5,661.6 L622.8,660.0 L624.0,658.5 L625.2,656.9 L626.4,655.3 L627.7,653.7 L628.9,652.1 L630.1,650.5 L631.3,648.9 L632.5,647.3 L633.7,645.7 L634.9,644.1 L636.1,642.5 L637.3,640.9 L638.5,639.3 L639.6,637.7 L640.8,636.1 L642.0,634.5 L643.2,632.8 L644.3,631.2 L645.5,629.6 L646.6,627.9 L647.8,626.3 L648.9,624.6 L650.1,623.0 L651.3,621.4 L652.5,619.8 L653.8,618.3 L655.1,616.9 L656.6,615.5 L658.0,614.1 L659.5,612.8 L661.1,611.5 L662.6,610.3 L664.2,609.1 L665.9,608.1 L667.6,607.1 L669.4,606.3 L671.3,605.8 L673.2,605.5 L675.1,605.4 L677.1,605.4 L679.1,605.7 L681.0,606.1 L682.9,606.6 L684.8,607.1 L686.7,607.7 L688.6,608.4 L690.5,609.2 L692.3,610.0 L694.1,610.9 L695.8,611.9 L697.4,613.0 L699.1,614.1 L700.6,615.4 L702.2,616.6 L703.7,617.9 L705.2,619.2 L706.7,620.5 L708.3,621.8 L709.8,623.1 L711.3,624.4 L712.9,625.6 L714.5,626.9 L716.1,628.1 L717.7,629.3 L719.3,630.5 L720.9,631.7 L722.5,632.8 L724.1,634.0 L725.7,635.2 L727.3,636.4 L729.0,637.5 L730.6,638.7 L732.3,639.8 L733.9,640.9 L735.6,642.0 L737.3,643.0 L739.0,644.1 L740.7,645.1 L742.4,646.2 L744.1,647.2 L745.9,648.2 L747.6,649.2 L749.3,650.2 L751.1,651.2 L752.8,652.1 L754.6,653.0 L756.5,653.8 L758.3,654.5 L760.2,655.2 L762.1,655.8 L764.0,656.3 L766.0,656.7 L767.9,657.1 L769.9,657.4 L771.9,657.7 L773.9,658.0 L775.8,658.2 L777.8,658.3 L779.8,658.3 L781.8,658.3 L783.8,658.2 L785.8,658.0 L787.8,657.7 L789.7,657.4 L791.7,657.0 L793.6,656.5 L795.6,656.1 L797.5,655.6 L799.5,655.0 L801.4,654.5 L803.3,653.9 L805.2,653.3 L807.1,652.7 L809.0,652.1 L810.9,651.5 L812.8,650.8 L814.7,650.1 L816.5,649.4 L818.4,648.6 L820.2,647.8 L822.0,647.0 L823.8,646.1 L825.6,645.3 L827.4,644.4 L829.2,643.5 L831.0,642.6 L832.8,641.7 L834.6,640.8 L836.3,639.9 L838.1,639.0 L839.9,638.0 L841.7,637.1 L843.4,636.2 L845.2,635.2 L847.0,634.3 L848.7,633.3 L850.4,632.3 L852.2,631.3 L853.9,630.3 L855.7,629.3 L857.4,628.4 L859.1,627.4 L860.9,626.4 L862.6,625.4 L864.4,624.4 L866.1,623.5 L867.9,622.5 L869.6,621.5 L871.4,620.6 L873.1,619.6 L874.9,618.6 L876.6,617.7 L878.4,616.7 L880.2,615.8 L881.9,614.8 L883.7,613.9 L885.4,612.9 L887.2,611.9 L888.9,611.0 L890.7,610.0 L892.4,609.0 L894.2,608.1 L895.9,607.1 L897.7,606.1 L899.4,605.1 L901.1,604.1 L902.9,603.1 L904.6,602.1 L906.3,601.1 L908.1,600.1 L909.8,599.1 L911.5,598.2 L913.3,597.2 L915.1,596.2 L916.8,595.3 L918.6,594.4 L920.4,593.5 L922.2,592.6 L924.0,591.8 L925.8,590.9 L927.6,590.1 L929.5,589.3 L931.3,588.5 L933.1,587.7 L935.0,586.9 L936.8,586.1 L938.7,585.4 L940.5,584.6 L942.4,583.9 L944.3,583.3 L946.2,582.7 L948.1,582.1 L950.0,581.6 L952.0,581.0 L953.9,580.6 L955.8,580.1 L957.8,579.7 L959.7,579.2 L961.7,578.8 L963.7,578.4 L965.6,578.1 L967.6,577.7 L969.6,577.4 L971.5,577.1 L973.5,576.8 L975.5,576.5 L977.5,576.3 L979.5,576.1 L981.5,575.9 L983.5,575.7 L985.4,575.5 L987.4,575.3 L989.4,575.2 L991.4,575.0 L993.4,574.9 L995.4,574.8 L997.4,574.8 L999.4,574.8 L1001.4,574.8 L1003.4,574.8 L1005.4,574.8 L1007.4,574.9 L1009.4,574.9 L1011.4,575.0 L1013.4,575.1 L1015.4,575.2 L1017.4,575.3 L1019.4,575.5 L1021.4,575.6 L1023.4,575.9 L1025.4,576.1 L1027.3,576.4 L1029.3,576.8 L1031.2,577.2 L1033.2,577.7 L1035.1,578.2 L1037.1,578.7 L1039.0,579.2 L1040.9,579.8 L1042.8,580.4 L1044.7,581.0 L1046.6,581.6 L1048.5,582.2 L1050.4,582.7 L1052.4,583.3 L1054.3,583.9 L1056.2,584.5 L1058.1,585.2 L1060.0,585.8 L1061.9,586.5 L1063.7,587.1 L1065.6,587.8 L1067.5,588.5 L1069.4,589.1 L1071.3,589.8 L1073.1,590.5 L1075.0,591.2 L1076.9,591.9 L1078.8,592.6 L1080.6,593.4 L1082.5,594.1 L1084.4,594.8 L1086.2,595.5 L1088.1,596.3 L1089.9,597.1 L1091.8,597.8 L1093.6,598.6 L1095.5,599.3 L1097.3,600.1 L1099.2,600.8 L1101.0,601.6 L1102.9,602.3 L1104.8,603.0 L1106.6,603.8 L1108.5,604.5 L1110.4,605.2 L1112.2,605.9 L1114.1,606.6 L1116.0,607.3 L1117.9,608.0 L1119.7,608.7 L1121.6,609.4 L1123.5,610.0 L1125.4,610.7 L1127.3,611.3 L1129.2,612.0 L1131.1,612.6 L1133.0,613.2 L1134.9,613.8 L1136.8,614.3 L1138.7,614.9 L1140.7,615.4 L1142.6,616.0 L1144.5,616.5 L1146.4,617.0 L1148.4,617.5 L1150.3,618.0 L1152.3,618.5 L1154.2,619.0 L1156.2,619.4 L1158.1,619.8 L1160.1,620.3 L1162.0,620.7 L1164.0,621.0 L1166.0,621.4 L1167.9,621.8 L1169.9,622.1 L1171.9,622.4 L1173.8,622.7 L1175.8,623.0 L1177.8,623.3 L1179.8,623.6 L1181.8,623.9 L1183.7,624.2 L1185.7,624.4 L1187.7,624.7 L1189.7,624.9 L1191.7,625.2 L1193.7,625.4 L1195.6,625.7 L1197.6,625.9 L1199.6,626.1 L1201.6,626.4 L1203.6,626.6 L1205.6,626.8 L1207.6,627.0 L1209.6,627.2 L1211.5,627.4 L1213.5,627.6 L1215.5,627.8 L1217.5,627.9 L1219.5,628.1 L1221.5,628.2 L1223.5,628.4 L1225.5,628.5 L1227.5,628.6 L1229.5,628.8 L1231.5,628.9 L1233.5,629.0 L1235.5,629.1 L1237.5,629.2 L1239.5,629.4 L1241.5,629.5 L1243.5,629.6 L1245.5,629.7 L1247.5,629.8 L1249.5,629.8 L1251.5,629.9 L1253.5,630.0 L1255.5,630.1 L1257.5,630.1 L1259.5,630.2 L1261.5,630.3 L1263.5,630.3 L1265.5,630.4 L1267.5,630.4 L1269.5,630.5 L1271.5,630.5 L1273.5,630.6 L1275.5,630.6 L1277.5,630.7 L1279.5,630.7 L1281.5,630.7 L1283.5,630.8 L1285.5,630.8 L1287.5,630.8 L1289.5,630.8 L1291.4,630.8 L1293.4,630.8 L1295.4,630.7 L1297.4,630.7 L1299.4,630.7 L1301.4,630.6 L1303.4,630.6 L1305.4,630.5 L1307.4,630.5 L1309.4,630.4 L1311.4,630.4 L1313.4,630.3 L1315.4,630.2 L1317.4,630.2 L1319.4,630.1 L1321.4,630.1 L1323.4,630.0 L1325.4,629.9 L1327.4,629.8 L1329.4,629.7 L1331.4,629.6 L1333.4,629.5 L1335.4,629.4 L1337.4,629.3 L1339.4,629.2 L1341.4,629.1 L1343.4,629.0 L1345.4,628.8 L1347.4,628.7 L1349.4,628.5 L1351.4,628.3 L1353.4,628.1 L1355.4,627.9 L1357.3,627.6 L1359.3,627.4 L1361.3,627.1 L1363.3,626.8 L1365.3,626.6 L1367.3,626.3 L1369.2,626.1 L1371.2,625.8 L1373.2,625.6 L1375.2,625.3 L1377.2,625.1 L1379.2,624.9 L1381.2,624.7 L1383.2,624.5 L1385.1,624.3 L1387.1,624.1 L1389.1,623.9 L1391.1,623.7 L1393.1,623.5 L1395.1,623.4 L1397.1,623.2 L1399.1,622.9 L1401.1,622.7 L1403.1,622.5 L1405.0,622.3 L1407.0,622.1 L1409.0,621.8 L1411.0,621.6 L1413.0,621.3 L1415.0,621.1 L1417.0,620.8 L1418.9,620.6 L1420.9,620.3 L1422.9,620.0 L1424.9,619.8 L1426.9,619.5 L1428.8,619.2 L1430.8,619.0 L1432.8,618.7 L1434.8,618.4 L1436.8,618.1 L1438.7,617.8 L1440.7,617.5 L1442.7,617.3 L1444.7,617.0 L1446.7,616.7 L1448.6,616.4 L1450.6,616.1 L1452.6,615.8 L1454.6,615.5 L1456.5,615.2 L1458.5,614.9 L1460.5,614.6 L1462.5,614.3 L1464.5,614.0 L1466.4,613.7 L1468.4,613.4 L1470.4,613.1 L1472.4,612.8 L1474.3,612.5 L1476.3,612.2 L1478.3,611.9 L1480.3,611.6 L1482.3,611.3 L1484.2,611.0 L1486.2,610.7 L1488.2,610.4 L1490.2,610.1 L1492.1,609.8 L1494.1,609.6 L1496.1,609.3 L1498.1,609.0 L1500.1,608.8 L1502.1,608.5 L1504.0,608.3 L1506.0,608.0 L1508.0,607.8 L1510.0,607.5 L1512.0,607.3 L1514.0,607.0 L1515.9,606.7 L1517.9,606.5 L1519.9,606.2 L1521.9,605.9 L1523.9,605.6 L1525.8,605.3 L1527.8,604.9 L1529.8,604.6 L1531.8,604.3 L1533.7,604.0 L1535.7,603.6 L1537.7,603.3 L1539.6,602.9 L1541.6,602.6 L1543.6,602.2 L1545.6,601.9 L1547.5,601.6 L1549.5,601.2 L1551.5,600.9 L1553.4,600.5 L1555.4,600.2 L1557.4,599.9 L1559.4,599.5 L1561.3,599.2 L1563.3,598.9 L1565.3,598.5 L1567.2,598.2 L1569.2,597.8 L1571.2,597.5 L1573.1,597.2 L1575.1,596.8 L1577.1,596.5 L1579.1,596.1 L1581.0,595.8 L1583.0,595.4 L1585.0,595.1 L1586.9,594.7 L1588.9,594.4 L1590.9,594.0 L1592.8,593.7 L1594.8,593.3 L1596.8,593.0 L1598.8,592.6 L1600.7,592.3 L1602.7,591.9 L1604.7,591.6 L1606.6,591.2 L1608.6,590.8 L1610.5,590.4 L1612.5,590.0 L1614.5,589.6 L1616.4,589.2 L1618.4,588.8 L1620.3,588.4 L1622.3,588.0 L1624.3,587.6 L1626.2,587.2 L1628.2,586.8 L1630.1,586.4 L1632.1,586.1 L1634.1,585.7 L1636.0,585.3 L1638.0,585.0 L1640.0,584.7 L1642.0,584.3 L1643.9,584.0 L1645.9,583.7 L1647.9,583.4 L1649.9,583.1 L1651.8,582.8 L1653.8,582.5 L1655.8,582.2 L1657.8,581.9 L1659.8,581.7 L1661.7,581.4 L1663.7,581.1 L1665.7,580.8 L1667.7,580.5 L1669.7,580.3 L1671.6,580.0 L1673.6,579.7 L1675.6,579.5 L1677.6,579.2 L1679.6,578.9 L1681.6,578.7 L1683.5,578.4 L1685.5,578.2 L1687.5,577.9 L1689.5,577.6 L1691.5,577.4 L1693.4,577.2 L1695.4,576.9 L1697.2,576.7 L1698.9,576.5 L1700.3,576.3 L1703.0,576.3"/>
<path id="m2" d="M249.0,1285.1 L251.8,1285.1 L253.3,1285.1 L255.1,1285.1 L257.0,1285.1 L259.0,1285.1 L261.0,1285.1 L263.0,1285.1 L265.0,1285.1 L267.0,1285.1 L269.0,1285.1 L271.0,1285.1 L273.0,1285.1 L275.0,1285.1 L277.0,1285.1 L279.0,1285.1 L281.0,1285.1 L283.0,1285.1 L285.0,1285.1 L287.0,1285.1 L289.0,1285.1 L291.0,1285.1 L293.0,1285.1 L295.0,1285.1 L297.0,1285.1 L299.0,1285.1 L301.0,1285.1 L303.0,1285.1 L305.0,1285.1 L307.0,1285.1 L309.0,1285.1 L311.0,1285.1 L313.0,1285.1 L315.0,1285.1 L317.0,1285.1 L319.0,1285.1 L321.0,1285.1 L323.0,1285.1 L325.0,1285.1 L327.0,1285.1 L329.0,1285.1 L331.0,1285.1 L333.0,1285.1 L335.0,1285.1 L337.0,1285.1 L339.0,1285.1 L341.0,1285.1 L343.0,1285.1 L345.0,1285.1 L347.0,1285.1 L349.0,1285.1 L351.0,1285.1 L353.0,1285.1 L355.0,1285.1 L357.0,1285.1 L359.0,1285.1 L361.0,1285.1 L363.0,1285.1 L365.0,1285.1 L367.0,1285.1 L369.0,1285.1 L371.0,1285.1 L373.0,1285.1 L375.0,1285.1 L377.0,1285.1 L379.0,1285.1 L381.0,1285.1 L383.0,1285.1 L385.0,1285.1 L387.0,1285.1 L389.0,1285.1 L391.0,1285.1 L393.0,1285.1 L395.0,1285.1 L397.0,1285.1 L399.0,1285.1 L401.0,1285.1 L403.0,1285.1 L405.0,1285.1 L407.0,1285.1 L409.0,1285.1 L411.0,1285.1 L413.0,1285.1 L415.0,1285.1 L417.0,1285.1 L419.0,1285.1 L421.0,1285.1 L423.0,1285.1 L425.0,1285.1 L427.0,1285.1 L429.0,1285.1 L431.0,1285.1 L433.0,1285.1 L435.0,1285.1 L437.0,1285.1 L439.0,1285.1 L441.0,1285.1 L443.0,1285.1 L445.0,1285.0 L447.0,1284.9 L448.9,1284.7 L450.9,1284.4 L452.8,1283.9 L454.6,1283.2 L456.3,1282.3 L457.9,1281.2 L459.4,1279.9 L460.7,1278.4 L461.8,1276.8 L462.8,1275.1 L463.6,1273.3 L464.3,1271.5 L465.0,1269.6 L465.6,1267.7 L466.1,1265.8 L466.6,1263.8 L467.2,1261.9 L467.7,1260.0 L468.1,1258.0 L468.6,1256.1 L469.1,1254.2 L469.6,1252.2 L470.1,1250.3 L470.6,1248.3 L471.0,1246.4 L471.5,1244.4 L472.0,1242.5 L472.4,1240.5 L472.8,1238.6 L473.3,1236.6 L473.7,1234.7 L474.1,1232.7 L474.5,1230.8 L474.9,1228.8 L475.3,1226.9 L475.7,1224.9 L476.1,1222.9 L476.5,1221.0 L476.9,1219.0 L477.3,1217.0 L477.7,1215.1 L478.1,1213.1 L478.4,1211.2 L478.8,1209.2 L479.2,1207.2 L479.6,1205.3 L479.9,1203.3 L480.3,1201.3 L480.7,1199.4 L481.0,1197.4 L481.4,1195.4 L481.8,1193.5 L482.2,1191.5 L482.5,1189.5 L482.9,1187.6 L483.3,1185.6 L483.7,1183.7 L484.1,1181.7 L484.5,1179.7 L484.9,1177.8 L485.3,1175.8 L485.7,1173.9 L486.1,1171.9 L486.5,1169.9 L486.9,1168.0 L487.3,1166.0 L487.7,1164.1 L488.1,1162.1 L488.6,1160.2 L489.0,1158.2 L489.4,1156.3 L489.9,1154.3 L490.3,1152.4 L490.8,1150.4 L491.2,1148.5 L491.7,1146.5 L492.1,1144.6 L492.6,1142.6 L493.1,1140.7 L493.5,1138.7 L494.0,1136.8 L494.5,1134.9 L495.0,1132.9 L495.6,1131.0 L496.1,1129.1 L496.7,1127.2 L497.3,1125.2 L497.9,1123.3 L498.5,1121.4 L499.1,1119.5 L499.8,1117.6 L500.4,1115.8 L501.1,1113.9 L501.8,1112.0 L502.5,1110.1 L503.3,1108.3 L504.2,1106.5 L505.2,1104.8 L506.2,1103.1 L507.3,1101.5 L508.6,1099.9 L509.9,1098.4 L511.3,1097.0 L512.8,1095.8 L514.4,1094.7 L516.1,1093.9 L517.9,1093.3 L519.8,1093.0 L521.8,1093.0 L523.7,1093.1 L525.7,1093.3 L527.7,1093.6 L529.6,1094.0 L531.6,1094.3 L533.6,1094.6 L535.5,1095.0 L537.5,1095.3 L539.5,1095.6 L541.5,1095.9 L543.4,1096.2 L545.4,1096.5 L547.4,1096.7 L549.4,1097.0 L551.4,1097.1 L553.4,1097.2 L555.4,1097.1 L557.3,1097.0 L559.3,1096.7 L561.2,1096.2 L563.1,1095.7 L565.0,1095.1 L566.9,1094.4 L568.8,1093.7 L570.6,1092.9 L572.4,1092.1 L574.2,1091.2 L576.0,1090.3 L577.8,1089.4 L579.5,1088.4 L581.2,1087.3 L582.9,1086.2 L584.5,1085.1 L586.1,1083.9 L587.7,1082.7 L589.3,1081.5 L590.9,1080.3 L592.4,1079.0 L594.0,1077.7 L595.5,1076.4 L597.0,1075.1 L598.4,1073.7 L599.9,1072.3 L601.3,1070.9 L602.7,1069.5 L604.1,1068.1 L605.5,1066.6 L606.9,1065.2 L608.2,1063.7 L609.6,1062.3 L611.0,1060.8 L612.4,1059.4 L613.7,1057.9 L615.1,1056.5 L616.5,1055.0 L617.9,1053.6 L619.3,1052.1 L620.6,1050.7 L622.0,1049.2 L623.4,1047.8 L624.7,1046.3 L626.1,1044.8 L627.5,1043.4 L628.8,1041.9 L630.2,1040.5 L631.6,1039.0 L632.9,1037.5 L634.3,1036.1 L635.6,1034.6 L637.0,1033.1 L638.3,1031.7 L639.7,1030.2 L641.1,1028.7 L642.4,1027.2 L643.8,1025.8 L645.1,1024.3 L646.5,1022.9 L647.9,1021.4 L649.3,1020.0 L650.7,1018.6 L652.1,1017.2 L653.6,1015.8 L655.0,1014.4 L656.4,1013.0 L657.9,1011.6 L659.3,1010.2 L660.8,1008.8 L662.2,1007.5 L663.7,1006.2 L665.3,1004.9 L666.8,1003.7 L668.5,1002.5 L670.1,1001.4 L671.8,1000.3 L673.5,999.3 L675.3,998.3 L677.0,997.4 L678.8,996.5 L680.7,995.7 L682.5,994.9 L684.4,994.2 L686.2,993.5 L688.1,992.9 L690.0,992.3 L692.0,991.8 L693.9,991.4 L695.9,990.9 L697.8,990.5 L699.8,990.2 L701.8,990.0 L703.8,989.9 L705.7,989.8 L707.7,989.9 L709.7,990.0 L711.7,990.2 L713.7,990.5 L715.7,990.9 L717.6,991.2 L719.6,991.6 L721.5,992.1 L723.4,992.6 L725.4,993.2 L727.2,993.8 L729.1,994.6 L730.9,995.3 L732.8,996.2 L734.6,997.0 L736.3,997.9 L738.1,998.8 L739.9,999.8 L741.7,1000.7 L743.4,1001.6 L745.2,1002.5 L747.0,1003.4 L748.8,1004.3 L750.6,1005.1 L752.5,1005.9 L754.3,1006.7 L756.1,1007.5 L758.0,1008.2 L759.9,1009.0 L761.7,1009.7 L763.6,1010.4 L765.4,1011.1 L767.3,1011.9 L769.2,1012.6 L771.0,1013.3 L772.9,1014.0 L774.8,1014.8 L776.6,1015.5 L778.5,1016.2 L780.3,1017.0 L782.2,1017.7 L784.1,1018.5 L785.9,1019.2 L787.7,1020.0 L789.6,1020.8 L791.4,1021.5 L793.3,1022.3 L795.1,1023.1 L797.0,1023.8 L798.8,1024.6 L800.7,1025.3 L802.6,1026.0 L804.4,1026.7 L806.3,1027.4 L808.2,1028.1 L810.1,1028.8 L812.0,1029.4 L813.9,1030.0 L815.8,1030.7 L817.7,1031.3 L819.6,1031.9 L821.5,1032.5 L823.4,1033.1 L825.3,1033.7 L827.2,1034.2 L829.2,1034.8 L831.1,1035.3 L833.0,1035.8 L835.0,1036.2 L836.9,1036.7 L838.9,1037.1 L840.8,1037.5 L842.8,1037.9 L844.7,1038.3 L846.7,1038.7 L848.7,1039.1 L850.6,1039.5 L852.6,1039.8 L854.6,1040.1 L856.6,1040.4 L858.5,1040.7 L860.5,1041.0 L862.5,1041.2 L864.5,1041.4 L866.5,1041.6 L868.5,1041.7 L870.5,1041.9 L872.5,1042.0 L874.5,1042.1 L876.5,1042.3 L878.5,1042.4 L880.5,1042.5 L882.5,1042.6 L884.5,1042.7 L886.4,1042.7 L888.4,1042.8 L890.4,1042.8 L892.4,1042.9 L894.4,1042.9 L896.4,1042.8 L898.4,1042.8 L900.4,1042.8 L902.4,1042.7 L904.4,1042.6 L906.4,1042.5 L908.4,1042.4 L910.4,1042.3 L912.4,1042.2 L914.4,1042.0 L916.4,1041.9 L918.4,1041.8 L920.4,1041.6 L922.4,1041.5 L924.4,1041.3 L926.4,1041.1 L928.4,1041.0 L930.4,1040.8 L932.4,1040.5 L934.3,1040.3 L936.3,1040.1 L938.3,1039.8 L940.3,1039.6 L942.3,1039.3 L944.3,1039.0 L946.2,1038.7 L948.2,1038.5 L950.2,1038.2 L952.2,1037.8 L954.1,1037.5 L956.1,1037.2 L958.1,1036.8 L960.1,1036.5 L962.0,1036.1 L964.0,1035.7 L965.9,1035.3 L967.9,1034.9 L969.8,1034.4 L971.8,1034.0 L973.8,1033.6 L975.7,1033.2 L977.7,1032.7 L979.6,1032.3 L981.6,1031.8 L983.5,1031.4 L985.5,1030.9 L987.4,1030.5 L989.3,1030.0 L991.3,1029.5 L993.2,1029.0 L995.2,1028.6 L997.1,1028.1 L999.0,1027.6 L1001.0,1027.1 L1002.9,1026.5 L1004.8,1026.0 L1006.8,1025.5 L1008.7,1025.0 L1010.6,1024.4 L1012.6,1023.9 L1014.5,1023.3 L1016.4,1022.8 L1018.3,1022.2 L1020.2,1021.6 L1022.1,1021.0 L1024.1,1020.5 L1026.0,1019.9 L1027.9,1019.3 L1029.8,1018.7 L1031.7,1018.1 L1033.6,1017.5 L1035.5,1017.0 L1037.4,1016.4 L1039.4,1015.8 L1041.3,1015.2 L1043.2,1014.7 L1045.1,1014.1 L1047.0,1013.5 L1048.9,1013.0 L1050.9,1012.4 L1052.8,1011.8 L1054.7,1011.2 L1056.6,1010.7 L1058.5,1010.1 L1060.4,1009.5 L1062.3,1008.9 L1064.2,1008.3 L1066.1,1007.6 L1068.0,1007.0 L1069.9,1006.4 L1071.8,1005.7 L1073.7,1005.1 L1075.6,1004.4 L1077.5,1003.8 L1079.4,1003.1 L1081.3,1002.4 L1083.2,1001.8 L1085.0,1001.1 L1086.9,1000.4 L1088.8,999.7 L1090.7,999.1 L1092.6,998.4 L1094.5,997.8 L1096.4,997.1 L1098.2,996.4 L1100.1,995.8 L1102.0,995.1 L1103.9,994.4 L1105.8,993.8 L1107.7,993.1 L1109.6,992.5 L1111.4,991.8 L1113.3,991.1 L1115.2,990.5 L1117.1,989.8 L1119.0,989.1 L1120.9,988.5 L1122.8,987.8 L1124.7,987.1 L1126.5,986.5 L1128.4,985.8 L1130.3,985.1 L1132.2,984.5 L1134.1,983.8 L1136.0,983.1 L1137.9,982.5 L1139.7,981.8 L1141.6,981.2 L1143.5,980.5 L1145.4,979.9 L1147.3,979.2 L1149.2,978.6 L1151.1,978.0 L1153.0,977.4 L1154.9,976.8 L1156.8,976.2 L1158.7,975.6 L1160.6,975.0 L1162.6,974.4 L1164.5,973.8 L1166.4,973.2 L1168.3,972.7 L1170.2,972.1 L1172.1,971.5 L1174.1,971.0 L1176.0,970.5 L1177.9,969.9 L1179.8,969.4 L1181.8,968.9 L1183.7,968.3 L1185.6,967.8 L1187.6,967.3 L1189.5,966.8 L1191.4,966.3 L1193.4,965.8 L1195.3,965.3 L1197.3,964.8 L1199.2,964.4 L1201.2,963.9 L1203.1,963.5 L1205.1,963.1 L1207.0,962.7 L1209.0,962.3 L1210.9,961.9 L1212.9,961.5 L1214.9,961.1 L1216.8,960.8 L1218.8,960.4 L1220.8,960.1 L1222.8,959.8 L1224.7,959.5 L1226.7,959.1 L1228.7,958.8 L1230.7,958.6 L1232.6,958.3 L1234.6,958.0 L1236.6,957.7 L1238.6,957.5 L1240.6,957.2 L1242.6,957.0 L1244.6,956.8 L1246.5,956.6 L1248.5,956.4 L1250.5,956.1 L1252.5,955.9 L1254.5,955.7 L1256.5,955.5 L1258.5,955.2 L1260.5,955.0 L1262.4,954.8 L1264.4,954.5 L1266.4,954.2 L1268.4,954.0 L1270.4,953.7 L1272.3,953.4 L1274.3,953.1 L1276.3,952.9 L1278.3,952.6 L1280.3,952.4 L1282.3,952.1 L1284.2,951.9 L1286.2,951.6 L1288.2,951.4 L1290.2,951.2 L1292.2,951.0 L1294.2,950.8 L1296.2,950.6 L1298.2,950.4 L1300.2,950.2 L1302.1,950.0 L1304.1,949.8 L1306.1,949.6 L1308.1,949.5 L1310.1,949.3 L1312.1,949.2 L1314.1,949.0 L1316.1,948.9 L1318.1,948.8 L1320.1,948.6 L1322.1,948.5 L1324.1,948.4 L1326.1,948.3 L1328.1,948.1 L1330.1,948.0 L1332.1,947.9 L1334.1,947.8 L1336.1,947.7 L1338.1,947.7 L1340.1,947.6 L1342.1,947.5 L1344.1,947.5 L1346.1,947.4 L1348.1,947.4 L1350.1,947.3 L1352.1,947.3 L1354.1,947.3 L1356.1,947.3 L1358.1,947.2 L1360.1,947.2 L1362.1,947.2 L1364.1,947.2 L1366.1,947.1 L1368.1,947.1 L1370.1,947.1 L1372.1,947.1 L1374.1,947.1 L1376.1,947.1 L1378.1,947.1 L1380.1,947.1 L1382.1,947.1 L1384.1,947.1 L1386.1,947.1 L1388.1,947.1 L1390.1,947.1 L1392.1,947.1 L1394.1,947.1 L1396.1,947.1 L1398.1,947.1 L1400.1,947.1 L1402.1,947.1 L1404.1,947.1 L1406.1,947.1 L1408.1,947.2 L1410.1,947.2 L1412.1,947.2 L1414.1,947.3 L1416.1,947.4 L1418.1,947.5 L1420.1,947.5 L1422.0,947.6 L1424.0,947.7 L1426.0,947.8 L1428.0,947.9 L1430.0,948.0 L1432.0,948.1 L1434.0,948.2 L1436.0,948.3 L1438.0,948.4 L1440.0,948.6 L1442.0,948.7 L1444.0,948.8 L1446.0,948.9 L1448.0,949.0 L1450.0,949.2 L1452.0,949.3 L1454.0,949.4 L1456.0,949.6 L1458.0,949.7 L1460.0,949.8 L1462.0,950.0 L1464.0,950.1 L1466.0,950.3 L1468.0,950.4 L1470.0,950.6 L1472.0,950.7 L1473.9,950.9 L1475.9,951.0 L1477.9,951.2 L1479.9,951.4 L1481.9,951.5 L1483.9,951.7 L1485.9,951.8 L1487.9,952.0 L1489.9,952.2 L1491.9,952.3 L1493.9,952.5 L1495.9,952.6 L1497.9,952.8 L1499.9,952.9 L1501.9,953.1 L1503.9,953.3 L1505.8,953.4 L1507.8,953.6 L1509.8,953.7 L1511.8,953.9 L1513.8,954.0 L1515.8,954.2 L1517.8,954.4 L1519.8,954.5 L1521.8,954.7 L1523.8,954.9 L1525.8,955.1 L1527.8,955.3 L1529.8,955.5 L1531.7,955.7 L1533.7,955.9 L1535.7,956.1 L1537.7,956.3 L1539.7,956.5 L1541.7,956.7 L1543.7,956.9 L1545.7,957.1 L1547.7,957.3 L1549.7,957.5 L1551.6,957.7 L1553.6,957.9 L1555.6,958.1 L1557.6,958.2 L1559.6,958.4 L1561.6,958.6 L1563.6,958.8 L1565.6,959.0 L1567.6,959.1 L1569.6,959.3 L1571.6,959.5 L1573.6,959.7 L1575.5,959.8 L1577.5,960.0 L1579.5,960.2 L1581.5,960.3 L1583.5,960.5 L1585.5,960.7 L1587.5,960.8 L1589.5,961.0 L1591.5,961.2 L1593.5,961.3 L1595.5,961.5 L1597.5,961.6 L1599.5,961.8 L1601.5,962.0 L1603.5,962.1 L1605.4,962.3 L1607.4,962.5 L1609.4,962.7 L1611.4,962.9 L1613.4,963.0 L1615.4,963.2 L1617.4,963.4 L1619.4,963.6 L1621.4,963.9 L1623.4,964.1 L1625.3,964.3 L1627.3,964.5 L1629.3,964.7 L1631.3,964.9 L1633.3,965.1 L1635.3,965.3 L1637.3,965.5 L1639.3,965.6 L1641.3,965.8 L1643.3,966.0 L1645.3,966.2 L1647.2,966.4 L1649.2,966.6 L1651.2,966.8 L1653.2,966.9 L1655.2,967.1 L1657.2,967.3 L1659.2,967.5 L1661.2,967.6 L1663.2,967.8 L1665.2,967.9 L1667.2,968.1 L1669.2,968.3 L1671.2,968.4 L1673.2,968.6 L1675.1,968.7 L1677.1,968.9 L1679.1,969.0 L1681.1,969.2 L1683.1,969.3 L1685.1,969.4 L1687.1,969.6 L1689.1,969.7 L1691.1,969.8 L1693.1,970.0 L1695.0,970.1 L1696.9,970.2 L1698.6,970.3 L1700.0,970.4 L1703.0,970.4"/>
<path id="m3" d="M249.0,1692.8 L251.8,1692.8 L253.3,1692.8 L255.1,1692.8 L257.0,1692.8 L259.0,1692.8 L261.0,1692.8 L263.0,1692.8 L265.0,1692.8 L267.0,1692.8 L269.0,1692.8 L271.0,1692.8 L273.0,1692.8 L275.0,1692.8 L277.0,1692.8 L279.0,1692.8 L281.0,1692.8 L283.0,1692.8 L285.0,1692.8 L287.0,1692.8 L289.0,1692.8 L291.0,1692.8 L293.0,1692.8 L295.0,1692.8 L297.0,1692.8 L299.0,1692.8 L301.0,1692.8 L303.0,1692.8 L305.0,1692.8 L307.0,1692.8 L309.0,1692.8 L311.0,1692.8 L313.0,1692.8 L315.0,1692.8 L317.0,1692.8 L319.0,1692.8 L321.0,1692.8 L323.0,1692.8 L325.0,1692.8 L327.0,1692.8 L329.0,1692.8 L331.0,1692.8 L333.0,1692.8 L335.0,1692.8 L337.0,1692.8 L339.0,1692.8 L341.0,1692.8 L343.0,1692.8 L345.0,1692.8 L347.0,1692.8 L349.0,1692.8 L351.0,1692.8 L353.0,1692.8 L355.0,1692.8 L357.0,1692.8 L359.0,1692.8 L361.0,1692.8 L363.0,1692.8 L365.0,1692.8 L367.0,1692.8 L369.0,1692.8 L371.0,1692.8 L373.0,1692.8 L375.0,1692.8 L377.0,1692.8 L379.0,1692.8 L381.0,1692.8 L383.0,1692.8 L385.0,1692.8 L387.0,1692.8 L389.0,1692.8 L391.0,1692.8 L393.0,1692.8 L395.0,1692.8 L397.0,1692.8 L399.0,1692.8 L401.0,1692.8 L403.0,1692.8 L405.0,1692.8 L407.0,1692.8 L409.0,1692.8 L411.0,1692.8 L413.0,1692.8 L415.0,1692.8 L417.0,1692.8 L419.0,1692.8 L421.0,1692.8 L423.0,1692.8 L425.0,1692.8 L427.0,1692.8 L429.0,1692.8 L431.0,1692.8 L433.0,1692.8 L435.0,1692.8 L437.0,1692.8 L439.0,1692.7 L441.0,1692.6 L443.0,1692.4 L444.9,1692.0 L446.8,1691.6 L448.6,1690.9 L450.4,1690.1 L452.0,1689.0 L453.4,1687.7 L454.8,1686.3 L456.0,1684.7 L457.2,1683.2 L458.4,1681.5 L459.5,1679.9 L460.6,1678.2 L461.6,1676.5 L462.6,1674.8 L463.6,1673.0 L464.6,1671.3 L465.5,1669.5 L466.4,1667.7 L467.3,1665.9 L468.2,1664.2 L469.1,1662.3 L469.9,1660.5 L470.7,1658.7 L471.5,1656.9 L472.3,1655.0 L473.0,1653.2 L473.8,1651.3 L474.5,1649.5 L475.3,1647.6 L476.0,1645.7 L476.7,1643.9 L477.5,1642.0 L478.2,1640.2 L479.0,1638.3 L479.7,1636.5 L480.5,1634.6 L481.2,1632.8 L482.0,1630.9 L482.7,1629.1 L483.5,1627.2 L484.3,1625.3 L485.0,1623.5 L485.8,1621.6 L486.5,1619.8 L487.3,1617.9 L488.1,1616.1 L488.8,1614.3 L489.6,1612.4 L490.4,1610.6 L491.2,1608.8 L492.1,1606.9 L492.9,1605.1 L493.7,1603.3 L494.6,1601.5 L495.5,1599.7 L496.3,1597.9 L497.2,1596.1 L498.1,1594.3 L499.0,1592.5 L499.9,1590.7 L500.8,1589.0 L501.8,1587.2 L502.7,1585.4 L503.7,1583.7 L504.6,1581.9 L505.6,1580.2 L506.6,1578.4 L507.5,1576.7 L508.5,1574.9 L509.5,1573.2 L510.6,1571.5 L511.6,1569.8 L512.6,1568.1 L513.7,1566.4 L514.7,1564.7 L515.8,1563.0 L516.8,1561.3 L517.9,1559.6 L519.0,1557.9 L520.1,1556.3 L521.2,1554.6 L522.4,1552.9 L523.5,1551.3 L524.7,1549.7 L525.8,1548.0 L527.0,1546.4 L528.2,1544.8 L529.3,1543.2 L530.5,1541.5 L531.6,1539.9 L532.8,1538.3 L534.0,1536.6 L535.1,1535.0 L536.2,1533.3 L537.4,1531.7 L538.5,1530.0 L539.6,1528.4 L540.7,1526.7 L541.8,1525.0 L542.9,1523.4 L544.0,1521.7 L545.1,1520.0 L546.2,1518.4 L547.3,1516.7 L548.4,1515.0 L549.5,1513.4 L550.6,1511.7 L551.7,1510.0 L552.9,1508.4 L554.0,1506.7 L555.1,1505.1 L556.2,1503.4 L557.3,1501.7 L558.4,1500.1 L559.5,1498.4 L560.6,1496.7 L561.7,1495.1 L562.9,1493.4 L564.0,1491.7 L565.1,1490.1 L566.2,1488.4 L567.3,1486.7 L568.4,1485.1 L569.5,1483.4 L570.6,1481.7 L571.7,1480.1 L572.8,1478.4 L573.9,1476.7 L575.0,1475.1 L576.1,1473.4 L577.3,1471.8 L578.4,1470.1 L579.6,1468.5 L580.8,1466.9 L582.0,1465.3 L583.2,1463.7 L584.4,1462.1 L585.6,1460.5 L586.8,1458.9 L588.1,1457.4 L589.3,1455.8 L590.6,1454.3 L591.9,1452.8 L593.3,1451.3 L594.6,1449.8 L596.0,1448.4 L597.4,1446.9 L598.8,1445.5 L600.2,1444.1 L601.6,1442.7 L603.1,1441.4 L604.7,1440.1 L606.3,1439.0 L607.9,1437.9 L609.7,1436.9 L611.4,1436.0 L613.2,1435.1 L615.1,1434.3 L616.9,1433.6 L618.8,1433.0 L620.7,1432.4 L622.7,1432.0 L624.6,1431.7 L626.6,1431.4 L628.6,1431.2 L630.6,1431.1 L632.6,1430.9 L634.6,1430.9 L636.6,1430.8 L638.6,1430.8 L640.6,1430.9 L642.5,1431.0 L644.5,1431.2 L646.5,1431.5 L648.5,1431.9 L650.4,1432.3 L652.4,1432.8 L654.3,1433.2 L656.2,1433.7 L658.2,1434.3 L660.1,1434.9 L662.0,1435.5 L663.8,1436.2 L665.7,1436.9 L667.6,1437.7 L669.4,1438.4 L671.2,1439.2 L673.1,1440.0 L674.9,1440.8 L676.8,1441.6 L678.6,1442.3 L680.5,1443.1 L682.3,1443.9 L684.2,1444.6 L686.0,1445.4 L687.9,1446.2 L689.7,1446.9 L691.6,1447.7 L693.4,1448.4 L695.3,1449.2 L697.1,1449.9 L699.0,1450.6 L700.9,1451.3 L702.8,1452.0 L704.6,1452.6 L706.5,1453.3 L708.4,1453.9 L710.3,1454.6 L712.2,1455.2 L714.1,1455.8 L716.0,1456.4 L718.0,1456.9 L719.9,1457.5 L721.8,1458.0 L723.8,1458.5 L725.7,1459.0 L727.6,1459.4 L729.6,1459.9 L731.5,1460.3 L733.5,1460.8 L735.4,1461.2 L737.4,1461.6 L739.4,1461.9 L741.3,1462.3 L743.3,1462.6 L745.3,1462.9 L747.3,1463.2 L749.3,1463.4 L751.3,1463.6 L753.2,1463.7 L755.2,1463.8 L757.2,1464.0 L759.2,1464.1 L761.2,1464.2 L763.2,1464.3 L765.2,1464.4 L767.2,1464.4 L769.2,1464.5 L771.2,1464.5 L773.2,1464.5 L775.2,1464.5 L777.2,1464.5 L779.2,1464.5 L781.2,1464.4 L783.2,1464.3 L785.2,1464.1 L787.2,1464.0 L789.2,1463.8 L791.2,1463.6 L793.2,1463.3 L795.2,1463.1 L797.1,1462.9 L799.1,1462.6 L801.1,1462.3 L803.1,1462.1 L805.1,1461.8 L807.1,1461.6 L809.0,1461.3 L811.0,1461.0 L813.0,1460.8 L815.0,1460.5 L817.0,1460.2 L818.9,1459.9 L820.9,1459.6 L822.9,1459.2 L824.9,1458.9 L826.8,1458.5 L828.8,1458.2 L830.8,1457.8 L832.7,1457.4 L834.7,1457.0 L836.6,1456.6 L838.6,1456.2 L840.5,1455.8 L842.5,1455.3 L844.4,1454.8 L846.4,1454.3 L848.3,1453.8 L850.2,1453.3 L852.2,1452.8 L854.1,1452.2 L856.0,1451.7 L857.9,1451.1 L859.8,1450.5 L861.8,1450.0 L863.7,1449.4 L865.6,1448.8 L867.5,1448.2 L869.4,1447.6 L871.3,1447.0 L873.2,1446.4 L875.1,1445.8 L877.0,1445.2 L878.9,1444.5 L880.8,1443.9 L882.7,1443.2 L884.6,1442.6 L886.5,1442.0 L888.4,1441.3 L890.3,1440.7 L892.2,1440.0 L894.1,1439.4 L896.0,1438.8 L897.9,1438.2 L899.8,1437.5 L901.7,1436.9 L903.6,1436.3 L905.5,1435.6 L907.4,1435.0 L909.3,1434.4 L911.2,1433.8 L913.1,1433.1 L915.0,1432.5 L916.9,1431.9 L918.8,1431.2 L920.7,1430.6 L922.6,1430.0 L924.4,1429.4 L926.3,1428.7 L928.2,1428.1 L930.1,1427.5 L932.0,1426.8 L933.9,1426.2 L935.8,1425.6 L937.7,1424.9 L939.6,1424.3 L941.5,1423.6 L943.4,1423.0 L945.3,1422.4 L947.2,1421.7 L949.1,1421.0 L951.0,1420.4 L952.9,1419.7 L954.7,1419.0 L956.6,1418.4 L958.5,1417.7 L960.4,1417.0 L962.3,1416.3 L964.1,1415.6 L966.0,1414.9 L967.9,1414.2 L969.8,1413.5 L971.6,1412.8 L973.5,1412.2 L975.4,1411.5 L977.3,1410.8 L979.2,1410.2 L981.1,1409.5 L983.0,1408.9 L984.9,1408.3 L986.8,1407.6 L988.7,1407.0 L990.6,1406.4 L992.5,1405.8 L994.4,1405.2 L996.3,1404.6 L998.2,1404.0 L1000.1,1403.4 L1002.0,1402.8 L1003.9,1402.2 L1005.8,1401.6 L1007.8,1401.1 L1009.7,1400.5 L1011.6,1399.9 L1013.5,1399.4 L1015.4,1398.8 L1017.4,1398.3 L1019.3,1397.8 L1021.2,1397.2 L1023.2,1396.7 L1025.1,1396.2 L1027.0,1395.6 L1028.9,1395.1 L1030.9,1394.6 L1032.8,1394.1 L1034.7,1393.5 L1036.7,1393.0 L1038.6,1392.5 L1040.5,1391.9 L1042.4,1391.4 L1044.4,1390.9 L1046.3,1390.3 L1048.2,1389.8 L1050.1,1389.2 L1052.1,1388.7 L1054.0,1388.2 L1055.9,1387.7 L1057.9,1387.2 L1059.8,1386.7 L1061.7,1386.2 L1063.7,1385.7 L1065.6,1385.3 L1067.6,1384.8 L1069.5,1384.4 L1071.5,1384.0 L1073.5,1383.6 L1075.4,1383.2 L1077.4,1382.8 L1079.3,1382.4 L1081.3,1382.0 L1083.3,1381.6 L1085.2,1381.2 L1087.2,1380.9 L1089.2,1380.5 L1091.1,1380.1 L1093.1,1379.8 L1095.1,1379.4 L1097.0,1379.0 L1099.0,1378.7 L1101.0,1378.3 L1102.9,1378.0 L1104.9,1377.6 L1106.9,1377.3 L1108.8,1376.9 L1110.8,1376.6 L1112.8,1376.3 L1114.8,1376.0 L1116.7,1375.7 L1118.7,1375.4 L1120.7,1375.1 L1122.7,1374.9 L1124.7,1374.6 L1126.6,1374.4 L1128.6,1374.1 L1130.6,1373.9 L1132.6,1373.7 L1134.6,1373.5 L1136.6,1373.2 L1138.6,1373.1 L1140.6,1372.9 L1142.6,1372.7 L1144.6,1372.5 L1146.5,1372.4 L1148.5,1372.2 L1150.5,1372.1 L1152.5,1371.9 L1154.5,1371.8 L1156.5,1371.7 L1158.5,1371.6 L1160.5,1371.5 L1162.5,1371.4 L1164.5,1371.3 L1166.5,1371.2 L1168.5,1371.1 L1170.5,1371.0 L1172.5,1370.9 L1174.5,1370.8 L1176.5,1370.8 L1178.5,1370.7 L1180.5,1370.6 L1182.5,1370.6 L1184.5,1370.5 L1186.5,1370.5 L1188.5,1370.4 L1190.5,1370.4 L1192.5,1370.3 L1194.5,1370.3 L1196.5,1370.2 L1198.5,1370.2 L1200.5,1370.2 L1202.5,1370.2 L1204.5,1370.1 L1206.5,1370.1 L1208.5,1370.1 L1210.5,1370.1 L1212.5,1370.1 L1214.5,1370.1 L1216.5,1370.0 L1218.5,1370.0 L1220.5,1370.0 L1222.5,1370.0 L1224.5,1370.0 L1226.5,1370.0 L1228.5,1370.0 L1230.5,1370.0 L1232.5,1370.0 L1234.5,1370.1 L1236.5,1370.1 L1238.5,1370.1 L1240.5,1370.2 L1242.5,1370.2 L1244.5,1370.3 L1246.5,1370.3 L1248.5,1370.4 L1250.5,1370.5 L1252.5,1370.6 L1254.5,1370.6 L1256.5,1370.7 L1258.5,1370.8 L1260.5,1370.9 L1262.5,1370.9 L1264.5,1371.0 L1266.5,1371.1 L1268.5,1371.2 L1270.5,1371.3 L1272.5,1371.4 L1274.5,1371.5 L1276.5,1371.6 L1278.5,1371.7 L1280.5,1371.9 L1282.5,1372.0 L1284.4,1372.1 L1286.4,1372.2 L1288.4,1372.3 L1290.4,1372.4 L1292.4,1372.6 L1294.4,1372.7 L1296.4,1372.8 L1298.4,1373.0 L1300.4,1373.1 L1302.4,1373.2 L1304.4,1373.4 L1306.4,1373.5 L1308.4,1373.6 L1310.4,1373.8 L1312.4,1373.9 L1314.4,1374.1 L1316.4,1374.2 L1318.4,1374.4 L1320.4,1374.6 L1322.4,1374.7 L1324.3,1374.9 L1326.3,1375.1 L1328.3,1375.2 L1330.3,1375.4 L1332.3,1375.6 L1334.3,1375.8 L1336.3,1376.0 L1338.3,1376.2 L1340.3,1376.4 L1342.3,1376.5 L1344.3,1376.7 L1346.3,1376.9 L1348.2,1377.1 L1350.2,1377.3 L1352.2,1377.5 L1354.2,1377.7 L1356.2,1377.8 L1358.2,1378.0 L1360.2,1378.2 L1362.2,1378.4 L1364.2,1378.6 L1366.2,1378.8 L1368.2,1379.0 L1370.2,1379.1 L1372.1,1379.3 L1374.1,1379.5 L1376.1,1379.7 L1378.1,1379.8 L1380.1,1380.0 L1382.1,1380.2 L1384.1,1380.3 L1386.1,1380.5 L1388.1,1380.6 L1390.1,1380.8 L1392.1,1380.9 L1394.1,1381.1 L1396.1,1381.2 L1398.1,1381.4 L1400.1,1381.6 L1402.0,1381.7 L1404.0,1381.9 L1406.0,1382.1 L1408.0,1382.2 L1410.0,1382.4 L1412.0,1382.6 L1414.0,1382.7 L1416.0,1382.9 L1418.0,1383.1 L1420.0,1383.3 L1422.0,1383.4 L1424.0,1383.6 L1426.0,1383.8 L1427.9,1384.0 L1429.9,1384.2 L1431.9,1384.4 L1433.9,1384.6 L1435.9,1384.7 L1437.9,1384.9 L1439.9,1385.1 L1441.9,1385.3 L1443.9,1385.6 L1445.9,1385.8 L1447.8,1386.0 L1449.8,1386.2 L1451.8,1386.4 L1453.8,1386.6 L1455.8,1386.8 L1457.8,1387.0 L1459.8,1387.2 L1461.8,1387.3 L1463.8,1387.5 L1465.8,1387.7 L1467.8,1387.8 L1469.8,1388.0 L1471.7,1388.2 L1473.7,1388.3 L1475.7,1388.5 L1477.7,1388.6 L1479.7,1388.8 L1481.7,1388.9 L1483.7,1389.1 L1485.7,1389.2 L1487.7,1389.4 L1489.7,1389.6 L1491.7,1389.7 L1493.7,1389.9 L1495.7,1390.1 L1497.7,1390.3 L1499.7,1390.5 L1501.6,1390.7 L1503.6,1390.9 L1505.6,1391.1 L1507.6,1391.3 L1509.6,1391.5 L1511.6,1391.7 L1513.6,1391.9 L1515.6,1392.1 L1517.6,1392.3 L1519.5,1392.5 L1521.5,1392.7 L1523.5,1392.9 L1525.5,1393.1 L1527.5,1393.3 L1529.5,1393.5 L1531.5,1393.7 L1533.5,1393.9 L1535.5,1394.1 L1537.5,1394.3 L1539.4,1394.5 L1541.4,1394.7 L1543.4,1394.9 L1545.4,1395.1 L1547.4,1395.3 L1549.4,1395.5 L1551.4,1395.7 L1553.4,1395.9 L1555.4,1396.1 L1557.4,1396.3 L1559.3,1396.5 L1561.3,1396.7 L1563.3,1396.9 L1565.3,1397.1 L1567.3,1397.3 L1569.3,1397.5 L1571.3,1397.7 L1573.3,1397.9 L1575.3,1398.1 L1577.3,1398.3 L1579.3,1398.5 L1581.2,1398.7 L1583.2,1398.9 L1585.2,1399.1 L1587.2,1399.3 L1589.2,1399.5 L1591.2,1399.7 L1593.2,1399.8 L1595.2,1400.0 L1597.2,1400.2 L1599.2,1400.4 L1601.1,1400.6 L1603.1,1400.8 L1605.1,1401.0 L1607.1,1401.2 L1609.1,1401.5 L1611.1,1401.7 L1613.1,1401.9 L1615.1,1402.1 L1617.1,1402.3 L1619.0,1402.5 L1621.0,1402.7 L1623.0,1403.0 L1625.0,1403.2 L1627.0,1403.4 L1629.0,1403.6 L1631.0,1403.8 L1633.0,1404.0 L1635.0,1404.1 L1637.0,1404.3 L1638.9,1404.5 L1640.9,1404.6 L1642.9,1404.8 L1644.9,1404.9 L1646.9,1405.1 L1648.9,1405.2 L1650.9,1405.4 L1652.9,1405.5 L1654.9,1405.6 L1656.9,1405.8 L1658.9,1405.9 L1660.9,1406.0 L1662.9,1406.1 L1664.9,1406.2 L1666.9,1406.4 L1668.9,1406.5 L1670.9,1406.6 L1672.9,1406.7 L1674.9,1406.8 L1676.9,1406.9 L1678.9,1407.0 L1680.9,1407.1 L1682.9,1407.2 L1684.9,1407.3 L1686.9,1407.4 L1688.9,1407.5 L1690.9,1407.5 L1692.8,1407.6 L1694.8,1407.7 L1696.7,1407.8 L1698.5,1407.8 L1700.1,1407.9 L1703.0,1407.9"/>
<path id="m4" d="M249.0,2100.5 L251.8,2100.5 L253.3,2100.5 L255.1,2100.5 L257.0,2100.5 L259.0,2100.5 L261.0,2100.5 L263.0,2100.5 L265.0,2100.5 L267.0,2100.5 L269.0,2100.5 L271.0,2100.5 L273.0,2100.5 L275.0,2100.5 L277.0,2100.5 L279.0,2100.5 L281.0,2100.5 L283.0,2100.5 L285.0,2100.5 L287.0,2100.5 L289.0,2100.5 L291.0,2100.5 L293.0,2100.5 L295.0,2100.5 L297.0,2100.5 L299.0,2100.5 L301.0,2100.5 L303.0,2100.5 L305.0,2100.5 L307.0,2100.5 L309.0,2100.5 L311.0,2100.5 L313.0,2100.5 L315.0,2100.5 L317.0,2100.5 L319.0,2100.5 L321.0,2100.5 L323.0,2100.5 L325.0,2100.5 L327.0,2100.5 L329.0,2100.5 L331.0,2100.5 L333.0,2100.5 L335.0,2100.5 L337.0,2100.5 L339.0,2100.5 L341.0,2100.5 L343.0,2100.5 L345.0,2100.5 L347.0,2100.5 L349.0,2100.5 L351.0,2100.5 L353.0,2100.5 L355.0,2100.5 L357.0,2100.5 L359.0,2100.5 L361.0,2100.5 L363.0,2100.5 L365.0,2100.5 L367.0,2100.5 L369.0,2100.5 L371.0,2100.5 L373.0,2100.5 L375.0,2100.5 L377.0,2100.5 L379.0,2100.5 L381.0,2100.5 L383.0,2100.5 L385.0,2100.5 L387.0,2100.5 L389.0,2100.5 L391.0,2100.5 L393.0,2100.5 L395.0,2100.5 L397.0,2100.5 L399.0,2100.5 L401.0,2100.5 L403.0,2100.5 L405.0,2100.5 L407.0,2100.5 L409.0,2100.5 L411.0,2100.5 L413.0,2100.5 L415.0,2100.5 L417.0,2100.5 L419.0,2100.5 L421.0,2100.5 L423.0,2100.5 L425.0,2100.5 L427.0,2100.5 L429.0,2100.5 L431.0,2100.5 L433.0,2100.4 L435.0,2100.3 L436.9,2100.0 L438.8,2099.6 L440.7,2099.0 L442.5,2098.2 L444.1,2097.2 L445.7,2096.0 L447.1,2094.7 L448.3,2093.2 L449.5,2091.5 L450.5,2089.8 L451.4,2088.1 L452.3,2086.3 L453.2,2084.5 L454.0,2082.7 L454.8,2080.9 L455.6,2079.0 L456.3,2077.2 L457.0,2075.3 L457.7,2073.4 L458.4,2071.5 L459.0,2069.6 L459.6,2067.7 L460.2,2065.8 L460.8,2063.9 L461.4,2062.0 L462.0,2060.1 L462.6,2058.2 L463.1,2056.2 L463.6,2054.3 L464.2,2052.4 L464.7,2050.5 L465.2,2048.5 L465.7,2046.6 L466.2,2044.6 L466.7,2042.7 L467.2,2040.8 L467.7,2038.8 L468.2,2036.9 L468.6,2035.0 L469.1,2033.0 L469.6,2031.1 L470.1,2029.1 L470.5,2027.2 L471.0,2025.2 L471.4,2023.3 L471.9,2021.3 L472.3,2019.4 L472.8,2017.4 L473.2,2015.5 L473.6,2013.5 L474.1,2011.6 L474.5,2009.6 L474.9,2007.7 L475.4,2005.7 L475.8,2003.8 L476.2,2001.8 L476.7,1999.9 L477.1,1997.9 L477.5,1995.9 L477.9,1994.0 L478.3,1992.0 L478.7,1990.1 L479.1,1988.1 L479.5,1986.2 L480.0,1984.2 L480.4,1982.2 L480.8,1980.3 L481.2,1978.3 L481.6,1976.4 L482.0,1974.4 L482.4,1972.5 L482.9,1970.5 L483.3,1968.5 L483.7,1966.6 L484.1,1964.6 L484.5,1962.7 L484.9,1960.7 L485.3,1958.8 L485.7,1956.8 L486.2,1954.8 L486.6,1952.9 L487.0,1950.9 L487.4,1949.0 L487.8,1947.0 L488.3,1945.1 L488.7,1943.1 L489.2,1941.2 L489.6,1939.2 L490.1,1937.3 L490.5,1935.3 L491.0,1933.4 L491.5,1931.4 L492.0,1929.5 L492.4,1927.6 L492.9,1925.6 L493.4,1923.7 L493.9,1921.8 L494.4,1919.8 L494.9,1917.9 L495.4,1915.9 L495.9,1914.0 L496.4,1912.1 L496.9,1910.1 L497.4,1908.2 L497.9,1906.2 L498.3,1904.3 L498.8,1902.4 L499.3,1900.4 L499.8,1898.5 L500.2,1896.5 L500.7,1894.6 L501.2,1892.6 L501.7,1890.7 L502.2,1888.8 L502.6,1886.8 L503.1,1884.9 L503.6,1882.9 L504.1,1881.0 L504.6,1879.1 L505.1,1877.1 L505.6,1875.2 L506.1,1873.3 L506.6,1871.3 L507.1,1869.4 L507.6,1867.5 L508.2,1865.5 L508.7,1863.6 L509.2,1861.7 L509.8,1859.7 L510.4,1857.8 L511.0,1855.9 L511.6,1854.0 L512.2,1852.1 L512.8,1850.2 L513.5,1848.3 L514.2,1846.5 L514.8,1844.6 L515.6,1842.7 L516.3,1840.8 L517.0,1839.0 L517.8,1837.1 L518.6,1835.3 L519.5,1833.5 L520.4,1831.7 L521.3,1830.0 L522.3,1828.3 L523.4,1826.5 L524.4,1824.9 L525.5,1823.2 L526.7,1821.6 L527.9,1820.0 L529.2,1818.5 L530.6,1817.1 L532.1,1815.7 L533.6,1814.5 L535.3,1813.4 L537.0,1812.3 L538.7,1811.4 L540.5,1810.6 L542.3,1809.9 L544.2,1809.3 L546.1,1809.0 L548.1,1808.8 L550.1,1808.9 L552.0,1809.1 L554.0,1809.4 L555.9,1809.8 L557.8,1810.4 L559.7,1811.0 L561.6,1811.7 L563.4,1812.6 L565.1,1813.5 L566.9,1814.5 L568.6,1815.5 L570.2,1816.6 L571.9,1817.7 L573.6,1818.8 L575.2,1819.9 L576.9,1821.1 L578.5,1822.2 L580.2,1823.3 L581.8,1824.5 L583.4,1825.7 L585.1,1826.8 L586.7,1828.0 L588.4,1829.1 L590.0,1830.2 L591.7,1831.3 L593.4,1832.3 L595.1,1833.4 L596.8,1834.4 L598.6,1835.4 L600.3,1836.3 L602.1,1837.3 L603.8,1838.2 L605.6,1839.2 L607.4,1840.1 L609.2,1840.9 L611.0,1841.8 L612.8,1842.6 L614.7,1843.4 L616.5,1844.1 L618.4,1844.8 L620.3,1845.5 L622.2,1846.2 L624.1,1846.8 L626.0,1847.4 L627.9,1848.0 L629.8,1848.6 L631.7,1849.1 L633.6,1849.6 L635.6,1850.1 L637.5,1850.6 L639.5,1851.0 L641.5,1851.3 L643.4,1851.7 L645.4,1852.0 L647.4,1852.3 L649.4,1852.5 L651.3,1852.8 L653.3,1852.9 L655.3,1853.0 L657.3,1853.1 L659.3,1853.1 L661.3,1853.1 L663.3,1853.0 L665.3,1852.9 L667.3,1852.8 L669.3,1852.7 L671.3,1852.6 L673.3,1852.4 L675.3,1852.2 L677.3,1852.1 L679.3,1851.9 L681.3,1851.6 L683.2,1851.4 L685.2,1851.1 L687.2,1850.7 L689.1,1850.4 L691.1,1849.9 L693.1,1849.5 L695.0,1849.1 L697.0,1848.6 L698.9,1848.1 L700.8,1847.6 L702.8,1847.1 L704.7,1846.6 L706.6,1846.0 L708.5,1845.5 L710.4,1844.8 L712.3,1844.2 L714.2,1843.5 L716.1,1842.9 L718.0,1842.2 L719.8,1841.5 L721.7,1840.7 L723.6,1840.0 L725.4,1839.3 L727.3,1838.5 L729.1,1837.8 L731.0,1837.0 L732.8,1836.2 L734.6,1835.4 L736.5,1834.6 L738.3,1833.8 L740.1,1833.0 L741.9,1832.1 L743.7,1831.3 L745.6,1830.4 L747.4,1829.6 L749.2,1828.7 L751.0,1827.9 L752.8,1827.0 L754.6,1826.1 L756.4,1825.3 L758.2,1824.4 L760.0,1823.5 L761.8,1822.6 L763.6,1821.7 L765.4,1820.8 L767.1,1819.9 L768.9,1819.0 L770.7,1818.1 L772.5,1817.2 L774.2,1816.2 L776.0,1815.3 L777.7,1814.3 L779.5,1813.3 L781.2,1812.4 L783.0,1811.3 L784.7,1810.3 L786.4,1809.3 L788.1,1808.3 L789.8,1807.2 L791.5,1806.2 L793.2,1805.2 L794.9,1804.1 L796.7,1803.1 L798.4,1802.1 L800.1,1801.0 L801.8,1800.0 L803.5,1799.0 L805.3,1798.0 L807.0,1797.0 L808.7,1796.0 L810.5,1795.1 L812.2,1794.1 L814.0,1793.1 L815.8,1792.2 L817.5,1791.2 L819.3,1790.3 L821.0,1789.3 L822.8,1788.4 L824.6,1787.5 L826.3,1786.5 L828.1,1785.6 L829.9,1784.7 L831.7,1783.8 L833.5,1782.9 L835.3,1782.0 L837.1,1781.1 L838.9,1780.3 L840.7,1779.4 L842.5,1778.5 L844.3,1777.7 L846.1,1776.8 L847.9,1776.0 L849.7,1775.1 L851.5,1774.3 L853.4,1773.5 L855.2,1772.7 L857.0,1771.9 L858.9,1771.1 L860.7,1770.3 L862.5,1769.5 L864.4,1768.8 L866.3,1768.0 L868.1,1767.3 L870.0,1766.6 L871.8,1765.9 L873.7,1765.2 L875.6,1764.5 L877.5,1763.8 L879.4,1763.1 L881.2,1762.5 L883.1,1761.8 L885.0,1761.2 L886.9,1760.6 L888.8,1759.9 L890.7,1759.3 L892.7,1758.8 L894.6,1758.2 L896.5,1757.6 L898.4,1757.1 L900.3,1756.5 L902.3,1756.0 L904.2,1755.5 L906.1,1755.0 L908.1,1754.5 L910.0,1754.0 L912.0,1753.5 L913.9,1753.1 L915.9,1752.6 L917.8,1752.2 L919.8,1751.8 L921.7,1751.4 L923.7,1751.0 L925.7,1750.7 L927.6,1750.3 L929.6,1750.0 L931.6,1749.6 L933.5,1749.3 L935.5,1749.0 L937.5,1748.7 L939.5,1748.4 L941.5,1748.1 L943.4,1747.9 L945.4,1747.6 L947.4,1747.4 L949.4,1747.2 L951.4,1746.9 L953.4,1746.7 L955.4,1746.5 L957.4,1746.3 L959.3,1746.2 L961.3,1746.0 L963.3,1745.8 L965.3,1745.6 L967.3,1745.5 L969.3,1745.3 L971.3,1745.2 L973.3,1745.1 L975.3,1745.0 L977.3,1744.9 L979.3,1744.8 L981.3,1744.7 L983.3,1744.7 L985.3,1744.6 L987.3,1744.5 L989.3,1744.5 L991.3,1744.4 L993.3,1744.4 L995.3,1744.3 L997.3,1744.3 L999.3,1744.3 L1001.3,1744.3 L1003.3,1744.2 L1005.3,1744.2 L1007.3,1744.2 L1009.3,1744.2 L1011.3,1744.3 L1013.3,1744.3 L1015.3,1744.4 L1017.3,1744.4 L1019.3,1744.5 L1021.3,1744.6 L1023.3,1744.7 L1025.3,1744.9 L1027.3,1745.0 L1029.3,1745.1 L1031.3,1745.3 L1033.3,1745.4 L1035.2,1745.6 L1037.2,1745.7 L1039.2,1745.9 L1041.2,1746.1 L1043.2,1746.3 L1045.2,1746.5 L1047.2,1746.8 L1049.2,1747.1 L1051.1,1747.3 L1053.1,1747.6 L1055.1,1747.9 L1057.1,1748.2 L1059.1,1748.5 L1061.0,1748.8 L1063.0,1749.1 L1065.0,1749.4 L1067.0,1749.7 L1068.9,1750.0 L1070.9,1750.3 L1072.9,1750.6 L1074.9,1751.0 L1076.8,1751.3 L1078.8,1751.6 L1080.8,1752.0 L1082.7,1752.3 L1084.7,1752.7 L1086.7,1753.0 L1088.7,1753.4 L1090.6,1753.7 L1092.6,1754.0 L1094.6,1754.4 L1096.5,1754.7 L1098.5,1755.1 L1100.5,1755.4 L1102.4,1755.8 L1104.4,1756.2 L1106.4,1756.5 L1108.3,1756.9 L1110.3,1757.2 L1112.3,1757.6 L1114.2,1758.0 L1116.2,1758.3 L1118.2,1758.7 L1120.1,1759.1 L1122.1,1759.4 L1124.1,1759.8 L1126.0,1760.2 L1128.0,1760.6 L1130.0,1761.0 L1131.9,1761.4 L1133.9,1761.7 L1135.8,1762.1 L1137.8,1762.5 L1139.8,1762.9 L1141.7,1763.3 L1143.7,1763.7 L1145.6,1764.1 L1147.6,1764.5 L1149.6,1765.0 L1151.5,1765.4 L1153.5,1765.8 L1155.4,1766.2 L1157.4,1766.7 L1159.3,1767.1 L1161.3,1767.5 L1163.2,1768.0 L1165.2,1768.4 L1167.1,1768.8 L1169.1,1769.3 L1171.0,1769.7 L1173.0,1770.1 L1175.0,1770.5 L1176.9,1770.9 L1178.9,1771.3 L1180.8,1771.7 L1182.8,1772.1 L1184.8,1772.4 L1186.7,1772.8 L1188.7,1773.1 L1190.7,1773.5 L1192.6,1773.8 L1194.6,1774.2 L1196.6,1774.5 L1198.6,1774.9 L1200.5,1775.2 L1202.5,1775.6 L1204.5,1775.9 L1206.4,1776.3 L1208.4,1776.6 L1210.4,1777.0 L1212.3,1777.3 L1214.3,1777.6 L1216.3,1778.0 L1218.3,1778.3 L1220.2,1778.7 L1222.2,1779.0 L1224.2,1779.4 L1226.1,1779.7 L1228.1,1780.0 L1230.1,1780.4 L1232.1,1780.7 L1234.0,1781.0 L1236.0,1781.3 L1238.0,1781.6 L1240.0,1781.9 L1241.9,1782.2 L1243.9,1782.5 L1245.9,1782.8 L1247.9,1783.0 L1249.9,1783.3 L1251.8,1783.6 L1253.8,1783.9 L1255.8,1784.1 L1257.8,1784.4 L1259.8,1784.7 L1261.7,1785.0 L1263.7,1785.3 L1265.7,1785.6 L1267.7,1785.9 L1269.6,1786.2 L1271.6,1786.5 L1273.6,1786.9 L1275.6,1787.2 L1277.6,1787.5 L1279.5,1787.8 L1281.5,1788.1 L1283.5,1788.3 L1285.5,1788.6 L1287.4,1788.9 L1289.4,1789.2 L1291.4,1789.4 L1293.4,1789.7 L1295.4,1789.9 L1297.4,1790.1 L1299.4,1790.4 L1301.3,1790.6 L1303.3,1790.8 L1305.3,1791.0 L1307.3,1791.3 L1309.3,1791.5 L1311.3,1791.7 L1313.3,1792.0 L1315.2,1792.3 L1317.2,1792.5 L1319.2,1792.8 L1321.2,1793.1 L1323.2,1793.4 L1325.1,1793.8 L1327.1,1794.1 L1329.1,1794.5 L1331.0,1794.8 L1333.0,1795.2 L1335.0,1795.5 L1336.9,1795.9 L1338.9,1796.2 L1340.9,1796.5 L1342.9,1796.9 L1344.8,1797.2 L1346.8,1797.5 L1348.8,1797.8 L1350.8,1798.1 L1352.8,1798.3 L1354.7,1798.6 L1356.7,1798.9 L1358.7,1799.1 L1360.7,1799.4 L1362.7,1799.7 L1364.6,1799.9 L1366.6,1800.2 L1368.6,1800.4 L1370.6,1800.6 L1372.6,1800.9 L1374.6,1801.1 L1376.6,1801.3 L1378.6,1801.5 L1380.5,1801.8 L1382.5,1802.0 L1384.5,1802.2 L1386.5,1802.4 L1388.5,1802.6 L1390.5,1802.8 L1392.5,1803.0 L1394.5,1803.1 L1396.5,1803.3 L1398.5,1803.5 L1400.4,1803.7 L1402.4,1803.9 L1404.4,1804.1 L1406.4,1804.3 L1408.4,1804.5 L1410.4,1804.7 L1412.4,1804.9 L1414.4,1805.1 L1416.4,1805.3 L1418.4,1805.5 L1420.3,1805.7 L1422.3,1805.9 L1424.3,1806.1 L1426.3,1806.3 L1428.3,1806.5 L1430.3,1806.7 L1432.3,1806.9 L1434.3,1807.1 L1436.3,1807.2 L1438.3,1807.4 L1440.3,1807.6 L1442.3,1807.7 L1444.2,1807.9 L1446.2,1808.0 L1448.2,1808.2 L1450.2,1808.3 L1452.2,1808.5 L1454.2,1808.6 L1456.2,1808.8 L1458.2,1809.0 L1460.2,1809.1 L1462.2,1809.3 L1464.2,1809.5 L1466.2,1809.6 L1468.2,1809.8 L1470.2,1810.0 L1472.2,1810.2 L1474.1,1810.3 L1476.1,1810.5 L1478.1,1810.7 L1480.1,1810.9 L1482.1,1811.1 L1484.1,1811.2 L1486.1,1811.4 L1488.1,1811.6 L1490.1,1811.8 L1492.1,1811.9 L1494.1,1812.1 L1496.1,1812.3 L1498.0,1812.5 L1500.0,1812.6 L1502.0,1812.8 L1504.0,1813.0 L1506.0,1813.1 L1508.0,1813.3 L1510.0,1813.5 L1512.0,1813.6 L1514.0,1813.8 L1516.0,1813.9 L1518.0,1814.1 L1520.0,1814.3 L1522.0,1814.4 L1524.0,1814.6 L1526.0,1814.7 L1528.0,1814.9 L1529.9,1815.0 L1531.9,1815.1 L1533.9,1815.3 L1535.9,1815.4 L1537.9,1815.6 L1539.9,1815.7 L1541.9,1815.8 L1543.9,1816.0 L1545.9,1816.1 L1547.9,1816.2 L1549.9,1816.3 L1551.9,1816.4 L1553.9,1816.5 L1555.9,1816.6 L1557.9,1816.7 L1559.9,1816.8 L1561.9,1816.9 L1563.9,1817.0 L1565.9,1817.1 L1567.9,1817.2 L1569.9,1817.3 L1571.9,1817.4 L1573.9,1817.5 L1575.9,1817.6 L1577.9,1817.7 L1579.9,1817.8 L1581.9,1817.8 L1583.9,1817.9 L1585.9,1818.0 L1587.9,1818.1 L1589.9,1818.2 L1591.9,1818.3 L1593.9,1818.3 L1595.9,1818.4 L1597.9,1818.5 L1599.9,1818.6 L1601.9,1818.7 L1603.8,1818.7 L1605.8,1818.8 L1607.8,1818.9 L1609.8,1819.0 L1611.8,1819.1 L1613.8,1819.2 L1615.8,1819.3 L1617.8,1819.3 L1619.8,1819.4 L1621.8,1819.5 L1623.8,1819.6 L1625.8,1819.7 L1627.8,1819.8 L1629.8,1819.8 L1631.8,1819.9 L1633.8,1820.0 L1635.8,1820.1 L1637.8,1820.1 L1639.8,1820.2 L1641.8,1820.3 L1643.8,1820.3 L1645.8,1820.4 L1647.8,1820.4 L1649.8,1820.5 L1651.8,1820.6 L1653.8,1820.6 L1655.8,1820.7 L1657.8,1820.7 L1659.8,1820.8 L1661.8,1820.8 L1663.8,1820.9 L1665.8,1820.9 L1667.8,1820.9 L1669.8,1821.0 L1671.8,1821.0 L1673.8,1821.1 L1675.8,1821.1 L1677.8,1821.1 L1679.8,1821.2 L1681.8,1821.2 L1683.8,1821.2 L1685.8,1821.3 L1687.8,1821.3 L1689.8,1821.3 L1691.8,1821.4 L1693.8,1821.4 L1695.7,1821.4 L1697.6,1821.4 L1699.3,1821.5 L1700.7,1821.5 L1703.0,1821.5"/>
</defs>
<path d="M249.0,469.7 L251.8,469.7 L253.3,469.7 L255.1,469.7 L257.0,469.7 L259.0,469.7 L261.0,469.7 L263.0,469.7 L265.0,469.7 L267.0,469.7 L269.0,469.7 L271.0,469.7 L273.0,469.7 L275.0,469.7 L277.0,469.7 L279.0,469.7 L281.0,469.7 L283.0,469.7 L285.0,469.7 L287.0,469.7 L289.0,469.7 L291.0,469.7 L293.0,469.7 L295.0,469.7 L297.0,469.7 L299.0,469.7 L301.0,469.7 L303.0,469.7 L305.0,469.7 L307.0,469.7 L309.0,469.7 L311.0,469.7 L313.0,469.7 L315.0,469.7 L317.0,469.7 L319.0,469.7 L321.0,469.7 L323.0,469.7 L325.0,469.7 L327.0,469.7 L329.0,469.7 L331.0,469.7 L333.0,469.7 L335.0,469.7 L337.0,469.7 L339.0,469.7 L341.0,469.7 L343.0,469.7 L345.0,469.7 L347.0,469.7 L349.0,469.7 L351.0,469.7 L353.0,469.7 L355.0,469.7 L357.0,469.7 L359.0,469.7 L361.0,469.7 L363.0,469.7 L365.0,469.7 L367.0,469.7 L369.0,469.7 L371.0,469.7 L373.0,469.7 L375.0,469.7 L377.0,469.7 L379.0,469.7 L381.0,469.7 L383.0,469.7 L385.0,469.7 L387.0,469.7 L389.0,469.7 L391.0,469.7 L393.0,469.7 L395.0,469.7 L397.0,469.7 L399.0,469.7 L401.0,469.7 L403.0,469.7 L405.0,469.7 L407.0,469.7 L409.0,469.7 L411.0,469.7 L413.0,469.7 L415.0,469.7 L417.0,469.7 L419.0,469.7 L421.0,469.7 L423.0,469.7 L425.0,469.7 L427.0,469.7 L429.0,469.7 L431.0,469.7 L433.0,469.7 L435.0,469.7 L437.0,469.7 L439.0,469.7 L441.0,469.7 L443.0,469.7 L445.0,469.7 L447.0,469.7 L449.0,469.7 L451.0,469.7 L453.0,469.7 L455.0,469.7 L457.0,469.7 L459.0,469.7 L461.0,469.7 L463.0,469.6 L465.0,469.6 L467.0,469.6 L469.0,469.8 L471.1,470.2 L473.2,470.8 L475.5,471.4 L477.9,471.9 L480.4,472.1 L482.8,471.9 L485.0,471.4 L487.1,470.7 L489.1,469.8 L491.0,469.0 L492.8,468.1 L494.7,467.2 L496.5,466.4 L498.4,465.5 L500.2,464.5 L502.0,463.6 L503.8,462.6 L505.6,461.6 L507.4,460.5 L509.1,459.4 L510.9,458.2 L512.6,457.0 L514.4,455.7 L516.2,454.4 L517.9,453.0 L519.6,451.5 L521.2,450.1 L522.8,448.6 L524.3,447.1 L525.8,445.7 L527.2,444.2 L528.6,442.8 L530.1,441.3 L531.5,439.9 L532.8,438.5 L534.2,437.1 L535.6,435.8 L536.9,434.5 L538.3,433.2 L539.7,431.9 L541.2,430.6 L542.6,429.3 L544.2,428.0 L545.7,426.6 L547.3,425.2 L548.8,423.7 L550.3,422.2 L551.9,420.6 L553.3,419.1 L554.8,417.5 L556.2,415.9 L557.6,414.3 L558.9,412.6 L560.3,410.9 L561.6,409.2 L562.9,407.5 L564.1,405.7 L565.3,403.9 L566.5,402.0 L567.6,400.2 L568.7,398.4 L569.7,396.5 L570.7,394.7 L571.7,392.9 L572.7,391.1 L573.6,389.4 L574.5,387.6 L575.5,385.9 L576.4,384.1 L577.4,382.4 L578.3,380.6 L579.3,378.9 L580.3,377.1 L581.2,375.3 L582.2,373.6 L583.1,371.9 L584.0,370.1 L585.0,368.5 L585.9,366.8 L586.9,365.1 L587.9,363.5 L588.9,361.8 L589.9,360.1 L591.0,358.5 L592.0,356.8 L593.0,355.2 L594.0,353.7 L595.0,352.2 L596.0,350.9 L597.0,349.8 L597.9,348.7 L598.9,347.9 L599.9,347.1 L601.1,346.3 L602.4,345.5 L603.8,344.8 L605.4,344.1 L607.0,343.4 L608.7,342.7 L610.4,342.1 L612.1,341.4 L613.9,340.8 L615.8,340.2 L617.8,339.6 L619.8,338.9 L622.0,338.1 L624.1,337.1 L626.4,336.1 L628.5,334.9 L630.6,333.5 L632.6,332.1 L634.5,330.6 L636.2,329.1 L637.9,327.5 L639.4,326.0 L641.0,324.5 L642.4,322.9 L643.8,321.4 L645.2,319.9 L646.6,318.4 L648.0,316.8 L649.4,315.3 L650.7,313.7 L652.1,312.0 L653.4,310.4 L654.7,308.7 L656.0,307.0 L657.3,305.4 L658.5,303.7 L659.7,302.0 L660.9,300.3 L662.1,298.6 L663.2,296.9 L664.4,295.1 L665.5,293.4 L666.6,291.7 L667.7,289.9 L668.8,288.2 L669.9,286.4 L670.9,284.7 L672.0,282.9 L673.1,281.2 L674.1,279.4 L675.1,277.6 L676.1,275.7 L677.1,273.9 L678.1,272.1 L679.0,270.3 L680.0,268.6 L680.9,266.9 L681.8,265.2 L682.7,263.6 L683.6,262.1 L684.6,260.6 L685.6,259.1 L686.6,257.6 L687.7,256.2 L688.8,254.7 L689.9,253.4 L691.0,252.1 L692.0,250.9 L693.1,249.9 L694.1,249.0 L695.2,248.2 L696.3,247.5 L697.4,247.0 L698.4,246.5 L699.2,246.2 L699.9,245.7 L700.6,245.2 L701.6,244.4 L702.9,243.8 L704.7,243.3 L706.7,243.0 L708.8,242.9 L710.9,243.0 L713.0,243.2 L715.1,243.7 L717.2,244.3 L719.2,245.1 L721.2,245.9 L723.1,246.7 L725.0,247.4 L726.9,248.1 L728.8,248.6 L730.7,249.0 L732.6,249.3 L734.4,249.5 L736.2,249.7 L738.0,249.9 L739.5,250.2 L741.1,250.6 L742.6,251.0 L744.2,251.4 L745.9,251.8 L747.5,252.2 L749.2,252.4 L750.7,252.6 L752.2,252.7 L753.7,252.8 L755.2,252.7 L756.7,252.5 L758.2,252.3 L759.8,252.0 L761.4,251.6 L763.0,251.2 L764.5,250.7 L765.9,250.2 L767.1,249.6 L768.3,248.9 L769.5,248.2 L770.8,247.3 L772.2,246.2 L773.7,245.0 L775.2,243.8 L776.7,242.6 L778.2,241.4 L779.7,240.1 L781.1,238.9 L782.5,237.7 L783.8,236.4 L785.1,235.2 L786.4,233.9 L787.6,232.6 L788.8,231.3 L789.9,230.0 L791.1,228.6 L792.2,227.2 L793.3,225.7 L794.4,224.2 L795.6,222.6 L796.7,221.0 L797.8,219.4 L799.0,217.7 L800.1,216.1 L801.3,214.4 L802.5,212.8 L803.6,211.1 L804.8,209.5 L806.0,207.9 L807.1,206.3 L808.3,204.7 L809.4,203.0 L810.6,201.4 L811.7,199.7 L812.9,198.1 L814.1,196.4 L815.3,194.7 L816.6,193.0 L817.9,191.4 L819.2,189.7 L820.5,188.1 L821.8,186.5 L823.1,184.9 L824.4,183.3 L825.8,181.8 L827.2,180.2 L828.7,178.5 L830.3,176.8 L832.1,175.1 L834.1,173.5 L836.2,171.9 L838.5,170.6 L840.7,169.4 L843.0,168.4 L845.2,167.5 L847.5,166.7 L849.8,166.0 L852.2,165.5 L854.6,165.0 L857.2,164.7 L859.7,164.5 L862.1,164.5 L864.5,164.6 L866.9,164.8 L869.1,165.1 L871.4,165.5 L873.6,165.9 L875.9,166.4 L878.3,167.0 L880.7,167.8 L883.2,168.9 L885.6,170.1 L887.8,171.4 L889.8,172.8 L891.6,174.3 L893.3,175.6 L894.9,177.0 L896.5,178.3 L898.0,179.6 L899.5,180.8 L901.1,182.1 L902.6,183.5 L904.2,184.8 L905.8,186.2 L907.3,187.6 L908.8,188.9 L910.3,190.3 L911.7,191.6 L913.2,192.9 L914.6,194.1 L916.1,195.3 L917.5,196.6 L919.0,197.8 L920.5,199.0 L922.1,200.2 L923.6,201.4 L925.1,202.7 L926.7,203.8 L928.2,205.0 L929.7,206.2 L931.3,207.3 L932.8,208.3 L934.3,209.4 L935.7,210.3 L937.2,211.3 L938.8,212.1 L940.3,213.0 L941.9,213.8 L943.5,214.6 L945.2,215.4 L947.0,216.1 L948.7,216.9 L950.4,217.6 L952.1,218.2 L953.7,218.8 L955.4,219.4 L957.0,219.9 L958.7,220.3 L960.3,220.7 L962.0,221.0 L963.7,221.3 L965.5,221.6 L967.3,221.8 L969.1,221.9 L970.9,222.1 L972.7,222.2 L974.5,222.3 L976.2,222.3 L977.8,222.2 L979.5,222.1 L981.2,221.9 L982.9,221.7 L984.7,221.4 L986.4,221.1 L988.3,220.7 L990.1,220.3 L991.9,219.9 L993.7,219.4 L995.5,218.9 L997.2,218.4 L998.9,217.9 L1000.5,217.3 L1002.2,216.7 L1003.8,216.0 L1005.4,215.3 L1007.1,214.6 L1008.8,213.7 L1010.5,212.9 L1012.1,212.0 L1013.8,211.1 L1015.5,210.2 L1017.2,209.3 L1018.8,208.4 L1020.3,207.4 L1021.9,206.4 L1023.4,205.4 L1025.0,204.4 L1026.5,203.3 L1028.1,202.2 L1029.6,201.1 L1031.2,199.9 L1032.8,198.8 L1034.4,197.6 L1036.0,196.4 L1037.6,195.2 L1039.2,194.0 L1040.8,192.8 L1042.5,191.6 L1044.1,190.4 L1045.7,189.2 L1047.2,188.0 L1048.8,186.8 L1050.4,185.6 L1052.0,184.5 L1053.6,183.3 L1055.2,182.1 L1056.8,180.8 L1058.4,179.6 L1060.0,178.4 L1061.6,177.2 L1063.2,176.0 L1064.7,174.8 L1066.3,173.6 L1067.9,172.4 L1069.4,171.2 L1071.0,170.0 L1072.6,168.8 L1074.2,167.6 L1075.7,166.3 L1077.4,165.1 L1079.0,163.8 L1080.6,162.6 L1082.3,161.3 L1084.0,160.1 L1085.8,158.9 L1087.5,157.8 L1089.3,156.7 L1091.2,155.9 L1093.2,155.1 L1095.1,154.5 L1097.2,153.9 L1099.2,153.3 L1101.3,152.7 L1103.4,152.1 L1105.5,151.6 L1107.6,151.1 L1109.8,150.7 L1112.0,150.4 L1114.1,150.2 L1116.3,150.1 L1118.4,150.0 L1120.5,150.1 L1122.6,150.1 L1124.7,150.2 L1126.7,150.3 L1128.7,150.4 L1130.8,150.5 L1132.8,150.7 L1134.7,151.0 L1136.7,151.3 L1138.6,151.6 L1140.4,152.0 L1142.2,152.5 L1144.0,152.9 L1145.7,153.2 L1147.4,153.5 L1149.2,153.8 L1151.0,154.0 L1152.8,154.3 L1154.6,154.7 L1156.5,155.0 L1158.4,155.4 L1160.3,155.9 L1162.2,156.3 L1164.2,156.8 L1166.1,157.2 L1168.0,157.7 L1169.9,158.1 L1171.7,158.6 L1173.6,159.1 L1175.4,159.6 L1177.2,160.2 L1179.1,160.8 L1180.9,161.4 L1182.7,162.0 L1184.6,162.6 L1186.4,163.3 L1188.2,163.9 L1190.0,164.6 L1191.8,165.3 L1193.5,166.0 L1195.3,166.7 L1197.0,167.5 L1198.7,168.3 L1200.4,169.1 L1202.2,170.0 L1203.9,170.9 L1205.6,171.8 L1207.4,172.7 L1209.1,173.6 L1210.9,174.5 L1212.6,175.5 L1214.4,176.4 L1216.2,177.4 L1218.0,178.3 L1219.8,179.3 L1221.6,180.2 L1223.4,181.1 L1225.1,182.0 L1226.9,182.9 L1228.7,183.8 L1230.4,184.7 L1232.2,185.7 L1234.0,186.6 L1235.7,187.5 L1237.5,188.5 L1239.3,189.4 L1241.1,190.3 L1242.9,191.2 L1244.7,192.2 L1246.6,193.1 L1248.4,194.0 L1250.3,194.9 L1252.2,195.7 L1254.1,196.6 L1256.0,197.4 L1257.9,198.2 L1259.8,199.0 L1261.7,199.8 L1263.6,200.5 L1265.4,201.3 L1267.3,202.0 L1269.3,202.7 L1271.2,203.5 L1273.1,204.2 L1275.0,204.9 L1277.0,205.5 L1278.9,206.2 L1280.9,206.8 L1282.9,207.5 L1284.8,208.1 L1286.8,208.7 L1288.8,209.2 L1290.8,209.8 L1292.8,210.3 L1294.8,210.8 L1296.7,211.3 L1298.7,211.8 L1300.6,212.3 L1302.6,212.8 L1304.6,213.3 L1306.6,213.7 L1308.6,214.2 L1310.7,214.6 L1312.7,215.0 L1314.8,215.4 L1316.9,215.7 L1319.0,216.0 L1321.0,216.3 L1323.1,216.6 L1325.2,216.8 L1327.3,217.0 L1329.3,217.1 L1331.4,217.3 L1333.4,217.4 L1335.4,217.6 L1337.4,217.7 L1339.4,217.8 L1341.5,217.9 L1343.5,218.0 L1345.5,218.1 L1347.6,218.2 L1349.6,218.3 L1351.7,218.4 L1353.7,218.4 L1355.7,218.4 L1357.8,218.5 L1359.8,218.5 L1361.8,218.5 L1363.9,218.5 L1365.9,218.5 L1367.9,218.4 L1369.9,218.4 L1371.9,218.4 L1374.0,218.4 L1376.0,218.3 L1378.0,218.2 L1380.0,218.0 L1382.0,217.7 L1384.0,217.2 L1386.0,216.7 L1388.0,216.2 L1390.0,215.7 L1392.0,215.1 L1394.1,214.6 L1396.1,214.0 L1398.1,213.3 L1400.1,212.6 L1402.1,211.9 L1404.0,211.1 L1405.9,210.3 L1407.8,209.5 L1409.7,208.6 L1411.5,207.7 L1413.4,206.8 L1415.2,205.9 L1417.0,204.9 L1418.9,204.0 L1420.7,203.0 L1422.5,202.1 L1424.4,201.2 L1426.2,200.2 L1428.0,199.3 L1429.8,198.3 L1431.6,197.4 L1433.4,196.4 L1435.2,195.5 L1437.0,194.6 L1438.9,193.9 L1440.8,193.2 L1442.7,192.7 L1444.6,192.2 L1446.5,191.6 L1448.5,191.1 L1450.4,190.6 L1452.4,190.1 L1454.3,189.6 L1456.3,189.1 L1458.3,188.6 L1460.2,188.1 L1462.2,187.6 L1464.1,187.2 L1466.1,186.7 L1468.1,186.2 L1470.0,185.8 L1471.9,185.3 L1473.9,184.8 L1475.8,184.4 L1477.7,183.9 L1479.6,183.4 L1481.5,183.0 L1483.4,182.5 L1485.3,182.0 L1487.2,181.5 L1489.0,180.9 L1490.9,180.4 L1492.7,179.9 L1494.6,179.3 L1496.4,178.7 L1498.3,178.1 L1500.1,177.5 L1501.9,176.8 L1503.8,176.2 L1505.7,175.5 L1507.5,174.9 L1509.4,174.2 L1511.2,173.5 L1513.1,172.8 L1515.0,172.1 L1516.9,171.4 L1518.8,170.8 L1520.7,170.1 L1522.6,169.4 L1524.5,168.7 L1526.4,168.1 L1528.2,167.4 L1530.1,166.7 L1532.0,166.0 L1533.9,165.4 L1535.7,164.7 L1537.6,164.0 L1539.5,163.3 L1541.4,162.7 L1543.3,162.0 L1545.2,161.3 L1547.1,160.6 L1549.0,160.0 L1551.0,159.3 L1552.9,158.7 L1554.8,158.0 L1556.7,157.4 L1558.7,156.8 L1560.6,156.2 L1562.5,155.5 L1564.5,154.9 L1566.4,154.3 L1568.3,153.7 L1570.2,153.1 L1572.2,152.5 L1574.1,152.0 L1576.0,151.4 L1578.0,150.8 L1579.9,150.2 L1581.9,149.7 L1583.8,149.1 L1585.8,148.6 L1587.7,148.0 L1589.7,147.5 L1591.6,146.9 L1593.6,146.4 L1595.5,145.9 L1597.5,145.4 L1599.4,144.9 L1601.4,144.3 L1603.3,143.8 L1605.3,143.3 L1607.2,142.8 L1609.2,142.4 L1611.2,141.9 L1613.1,141.4 L1615.1,140.9 L1617.1,140.4 L1619.0,140.0 L1621.0,139.5 L1623.0,139.1 L1624.9,138.6 L1626.9,138.2 L1628.9,137.8 L1630.8,137.3 L1632.8,136.9 L1634.7,136.5 L1636.7,136.0 L1638.7,135.6 L1640.7,135.2 L1642.7,134.8 L1644.7,134.4 L1646.7,134.0 L1648.8,133.6 L1650.8,133.2 L1652.9,132.9 L1654.9,132.6 L1657.0,132.3 L1659.0,132.0 L1661.0,131.7 L1663.0,131.5 L1665.0,131.2 L1667.0,131.0 L1669.0,130.7 L1671.1,130.5 L1673.1,130.3 L1675.1,130.1 L1677.1,129.9 L1679.1,129.7 L1681.1,129.5 L1683.2,129.3 L1685.2,129.1 L1687.2,128.9 L1689.3,128.8 L1691.3,128.6 L1693.3,128.5 L1695.3,128.4 L1697.2,128.3 L1699.0,128.2 L1700.6,128.1 L1702.9,128.1" fill="none" stroke="#000" stroke-width="18" stroke-dasharray="2 28.7" stroke-dashoffset="-20" clip-path="url(#c0)"/>
<path d="M249.0,877.4 L251.8,877.4 L253.3,877.4 L255.1,877.4 L257.0,877.4 L259.0,877.4 L261.0,877.4 L263.0,877.4 L265.0,877.4 L267.0,877.4 L269.0,877.4 L271.0,877.4 L273.0,877.4 L275.0,877.4 L277.0,877.4 L279.0,877.4 L281.0,877.4 L283.0,877.4 L285.0,877.4 L287.0,877.4 L289.0,877.4 L291.0,877.4 L293.0,877.4 L295.0,877.4 L297.0,877.4 L299.0,877.4 L301.0,877.4 L303.0,877.4 L305.0,877.4 L307.0,877.4 L309.0,877.4 L311.0,877.4 L313.0,877.4 L315.0,877.4 L317.0,877.4 L319.0,877.4 L321.0,877.4 L323.0,877.4 L325.0,877.4 L327.0,877.4 L329.0,877.4 L331.0,877.4 L333.0,877.4 L335.0,877.4 L337.0,877.4 L339.0,877.4 L341.0,877.4 L343.0,877.4 L345.0,877.4 L347.0,877.4 L349.0,877.4 L351.0,877.4 L353.0,877.4 L355.0,877.4 L357.0,877.4 L359.0,877.4 L361.0,877.4 L363.0,877.4 L365.0,877.4 L367.0,877.4 L369.0,877.4 L371.0,877.4 L373.0,877.4 L375.0,877.4 L377.0,877.4 L379.0,877.4 L381.0,877.4 L383.0,877.4 L385.0,877.4 L387.0,877.4 L389.0,877.4 L391.0,877.4 L393.0,877.4 L395.0,877.4 L397.0,877.4 L399.0,877.4 L401.0,877.4 L403.0,877.4 L405.0,877.4 L407.0,877.4 L409.0,877.4 L411.0,877.4 L413.0,877.4 L415.0,877.4 L417.0,877.4 L419.0,877.4 L421.0,877.4 L423.0,877.4 L425.0,877.4 L427.0,877.4 L429.0,877.3 L431.0,877.3 L433.0,877.2 L435.0,877.0 L437.0,876.9 L439.0,876.8 L441.1,876.8 L443.2,877.0 L445.5,877.1 L447.9,877.1 L450.2,876.9 L452.6,876.7 L454.9,876.3 L457.2,875.7 L459.3,874.9 L461.3,873.8 L463.2,872.5 L464.9,871.1 L466.6,869.6 L468.2,868.1 L469.7,866.5 L471.3,864.9 L472.7,863.2 L474.1,861.5 L475.5,859.7 L476.8,857.9 L478.1,856.2 L479.3,854.4 L480.4,852.6 L481.5,850.8 L482.6,849.0 L483.7,847.2 L484.7,845.4 L485.8,843.6 L486.8,841.8 L487.8,840.0 L488.7,838.1 L489.7,836.2 L490.6,834.4 L491.5,832.5 L492.4,830.6 L493.2,828.7 L494.1,826.8 L494.9,825.0 L495.7,823.1 L496.5,821.2 L497.3,819.3 L498.1,817.5 L498.8,815.6 L499.6,813.7 L500.4,811.8 L501.1,809.9 L501.8,808.0 L502.6,806.1 L503.3,804.2 L504.0,802.2 L504.7,800.3 L505.4,798.4 L506.1,796.5 L506.7,794.6 L507.4,792.7 L508.0,790.8 L508.7,788.8 L509.3,786.9 L510.0,785.0 L510.6,783.0 L511.2,781.1 L511.8,779.1 L512.4,777.2 L513.0,775.3 L513.6,773.3 L514.2,771.4 L514.8,769.5 L515.3,767.6 L515.9,765.7 L516.5,763.8 L517.1,761.9 L517.6,760.0 L518.2,758.1 L518.8,756.2 L519.4,754.3 L520.0,752.4 L520.6,750.5 L521.2,748.5 L521.8,746.6 L522.4,744.7 L523.0,742.8 L523.6,740.9 L524.2,739.1 L524.8,737.2 L525.4,735.4 L526.0,733.6 L526.6,731.9 L527.3,730.2 L528.0,728.5 L528.7,726.8 L529.5,725.1 L530.3,723.4 L531.1,721.8 L532.0,720.2 L532.9,718.6 L533.8,717.0 L534.7,715.5 L535.7,714.0 L536.8,712.5 L537.8,711.1 L539.0,709.6 L540.1,708.1 L541.2,706.8 L542.3,705.6 L543.2,704.7 L544.1,704.0 L544.9,703.5 L545.7,703.1 L546.7,702.8 L548.0,702.5 L549.4,702.3 L551.0,702.1 L552.5,702.1 L554.0,702.1 L555.4,702.2 L556.8,702.5 L558.3,702.8 L560.1,703.3 L562.1,703.8 L564.4,704.4 L566.9,704.8 L569.4,705.1 L571.8,705.2 L574.2,705.1 L576.5,705.0 L578.7,704.8 L580.9,704.5 L583.2,704.0 L585.6,703.3 L588.0,702.5 L590.3,701.4 L592.5,700.2 L594.6,698.9 L596.5,697.5 L598.2,696.1 L599.9,694.7 L601.5,693.2 L603.0,691.7 L604.6,690.2 L606.1,688.6 L607.5,686.9 L608.9,685.3 L610.2,683.6 L611.5,682.0 L612.7,680.4 L613.9,678.7 L615.1,677.1 L616.3,675.5 L617.5,673.9 L618.7,672.3 L619.9,670.6 L621.1,669.0 L622.3,667.3 L623.4,665.6 L624.6,664.0 L625.7,662.3 L626.8,660.7 L628.0,659.0 L629.1,657.3 L630.2,655.7 L631.4,654.0 L632.5,652.3 L633.6,650.6 L634.7,649.0 L635.8,647.3 L636.9,645.6 L638.0,643.9 L639.1,642.3 L640.2,640.6 L641.3,638.9 L642.4,637.2 L643.5,635.5 L644.6,633.8 L645.6,632.1 L646.7,630.4 L647.7,628.7 L648.8,627.0 L649.8,625.3 L650.9,623.6 L652.0,621.9 L653.1,620.3 L654.2,618.7 L655.5,617.2 L656.8,615.7 L658.1,614.2 L659.4,612.7 L660.7,611.1 L662.0,609.4 L663.3,607.7 L664.7,606.0 L666.3,604.3 L668.1,602.8 L670.2,601.4 L672.6,600.2 L675.1,599.3 L677.7,598.7 L680.3,598.5 L682.7,598.6 L685.0,598.9 L687.2,599.5 L689.3,600.2 L691.5,600.9 L693.6,601.8 L695.8,602.8 L697.9,603.9 L700.0,605.1 L702.0,606.4 L703.8,607.7 L705.6,609.1 L707.3,610.5 L708.9,611.8 L710.5,613.2 L712.0,614.5 L713.5,615.7 L714.9,617.0 L716.4,618.2 L717.8,619.4 L719.3,620.5 L720.9,621.7 L722.4,622.9 L724.0,624.0 L725.6,625.2 L727.2,626.4 L728.8,627.6 L730.4,628.7 L732.0,629.8 L733.6,631.0 L735.1,632.1 L736.7,633.1 L738.3,634.2 L739.9,635.2 L741.5,636.2 L743.2,637.3 L744.9,638.3 L746.6,639.3 L748.3,640.3 L749.9,641.3 L751.6,642.3 L753.2,643.2 L754.9,644.1 L756.5,645.0 L758.0,645.7 L759.6,646.4 L761.1,647.0 L762.7,647.6 L764.2,648.1 L765.9,648.5 L767.6,648.9 L769.4,649.2 L771.2,649.5 L773.0,649.8 L774.7,650.0 L776.5,650.2 L778.2,650.3 L779.8,650.3 L781.5,650.3 L783.2,650.2 L784.9,650.0 L786.6,649.8 L788.3,649.5 L790.0,649.1 L791.8,648.7 L793.6,648.3 L795.4,647.8 L797.3,647.3 L799.1,646.8 L801.0,646.2 L802.9,645.7 L804.7,645.1 L806.6,644.5 L808.3,643.9 L810.1,643.3 L811.8,642.7 L813.5,642.0 L815.2,641.3 L816.9,640.5 L818.6,639.7 L820.4,638.9 L822.1,638.1 L823.9,637.2 L825.6,636.3 L827.4,635.4 L829.2,634.5 L831.0,633.6 L832.7,632.7 L834.5,631.8 L836.2,630.9 L837.9,630.0 L839.7,629.1 L841.4,628.2 L843.1,627.3 L844.8,626.3 L846.5,625.3 L848.2,624.4 L850.0,623.4 L851.7,622.4 L853.4,621.4 L855.2,620.4 L857.0,619.4 L858.7,618.4 L860.5,617.4 L862.3,616.5 L864.0,615.5 L865.8,614.5 L867.5,613.6 L869.3,612.6 L871.1,611.6 L872.8,610.7 L874.6,609.7 L876.3,608.7 L878.1,607.8 L879.8,606.8 L881.6,605.9 L883.3,604.9 L885.1,604.0 L886.8,603.0 L888.6,602.0 L890.3,601.1 L892.0,600.1 L893.7,599.2 L895.4,598.2 L897.1,597.2 L898.9,596.2 L900.6,595.2 L902.3,594.2 L904.1,593.2 L905.9,592.2 L907.7,591.2 L909.5,590.2 L911.3,589.2 L913.1,588.2 L915.0,587.3 L916.9,586.3 L918.7,585.4 L920.6,584.5 L922.5,583.7 L924.3,582.8 L926.2,582.0 L928.0,581.1 L929.9,580.3 L931.8,579.5 L933.8,578.7 L935.7,577.9 L937.7,577.2 L939.7,576.4 L941.7,575.7 L943.8,575.0 L945.8,574.4 L947.9,573.8 L950.0,573.3 L952.0,572.8 L954.0,572.3 L956.1,571.8 L958.1,571.4 L960.1,571.0 L962.1,570.6 L964.2,570.2 L966.2,569.8 L968.3,569.5 L970.4,569.2 L972.5,569.0 L974.6,568.9 L976.6,569.0 L978.7,569.2 L980.8,569.4 L982.9,569.6 L984.9,569.9 L987.0,570.2 L989.1,570.5 L991.2,570.8 L993.2,571.1 L995.3,571.5 L997.4,571.9 L999.4,572.3 L1001.4,572.8 L1003.4,573.3 L1005.4,573.8 L1007.4,574.3 L1009.4,574.9 L1011.4,575.5 L1013.4,576.2 L1015.3,576.8 L1017.3,577.6 L1019.2,578.3 L1021.1,579.1 L1022.9,579.8 L1024.7,580.7 L1026.5,581.5 L1028.2,582.4 L1029.8,583.4 L1031.5,584.4 L1033.2,585.4 L1034.9,586.4 L1036.6,587.4 L1038.3,588.2 L1040.2,589.0 L1042.1,589.6 L1044.0,590.2 L1045.9,590.8 L1047.8,591.4 L1049.7,592.0 L1051.5,592.6 L1053.4,593.2 L1055.2,593.8 L1057.0,594.4 L1058.9,595.1 L1060.7,595.7 L1062.5,596.4 L1064.4,597.1 L1066.2,597.8 L1068.1,598.5 L1069.9,599.2 L1071.8,599.9 L1073.6,600.6 L1075.5,601.3 L1077.3,602.0 L1079.1,602.7 L1080.9,603.4 L1082.8,604.2 L1084.6,604.9 L1086.4,605.7 L1088.2,606.4 L1090.1,607.2 L1091.9,608.0 L1093.8,608.8 L1095.7,609.5 L1097.6,610.3 L1099.5,611.1 L1101.4,611.8 L1103.3,612.6 L1105.1,613.3 L1107.0,614.0 L1108.9,614.7 L1110.8,615.5 L1112.7,616.2 L1114.6,616.9 L1116.5,617.6 L1118.4,618.3 L1120.3,619.0 L1122.3,619.7 L1124.2,620.4 L1126.2,621.0 L1128.2,621.7 L1130.2,622.3 L1132.1,622.9 L1134.1,623.5 L1136.1,624.1 L1138.0,624.7 L1140.0,625.3 L1142.0,625.8 L1144.0,626.4 L1146.0,626.9 L1148.0,627.4 L1150.0,627.9 L1152.0,628.4 L1154.0,628.9 L1156.0,629.4 L1158.1,629.8 L1160.1,630.2 L1162.2,630.6 L1164.2,631.0 L1166.2,631.4 L1168.3,631.8 L1170.3,632.1 L1172.3,632.5 L1174.3,632.8 L1176.4,633.1 L1178.4,633.4 L1180.4,633.7 L1182.4,634.0 L1184.4,634.3 L1186.4,634.5 L1188.5,634.8 L1190.5,635.1 L1192.5,635.3 L1194.5,635.6 L1196.5,635.8 L1198.5,636.1 L1200.5,636.3 L1202.5,636.5 L1204.5,636.7 L1206.5,636.9 L1208.6,637.2 L1210.6,637.3 L1212.6,637.5 L1214.7,637.7 L1216.7,637.9 L1218.8,638.0 L1220.8,638.2 L1222.8,638.3 L1224.8,638.5 L1226.8,638.6 L1228.9,638.7 L1230.9,638.9 L1232.9,639.0 L1234.9,639.1 L1236.9,639.2 L1238.9,639.3 L1241.0,639.5 L1243.0,639.6 L1245.0,639.7 L1247.0,639.7 L1249.0,639.8 L1251.1,639.9 L1253.1,640.0 L1255.1,640.1 L1257.1,640.1 L1259.1,640.2 L1261.2,640.2 L1263.2,640.3 L1265.2,640.3 L1267.2,640.4 L1269.2,640.4 L1271.2,640.4 L1273.2,640.5 L1275.2,640.5 L1277.3,640.5 L1279.3,640.5 L1281.3,640.5 L1283.4,640.5 L1285.4,640.5 L1287.4,640.5 L1289.5,640.5 L1291.5,640.4 L1293.5,640.4 L1295.6,640.4 L1297.6,640.3 L1299.6,640.2 L1301.7,640.2 L1303.7,640.1 L1305.7,640.0 L1307.7,640.0 L1309.7,639.9 L1311.7,639.8 L1313.7,639.7 L1315.7,639.7 L1317.7,639.6 L1319.7,639.5 L1321.8,639.4 L1323.8,639.3 L1325.8,639.2 L1327.8,639.1 L1329.9,639.0 L1331.9,638.9 L1333.9,638.8 L1335.9,638.6 L1337.9,638.5 L1340.0,638.4 L1342.0,638.2 L1344.0,638.1 L1346.1,637.9 L1348.1,637.7 L1350.2,637.5 L1352.3,637.3 L1354.4,637.1 L1356.4,636.8 L1358.5,636.5 L1360.5,636.3 L1362.5,636.0 L1364.5,635.7 L1366.5,635.4 L1368.4,635.1 L1370.4,634.8 L1372.3,634.6 L1374.2,634.3 L1376.2,634.1 L1378.1,633.8 L1380.1,633.6 L1382.0,633.4 L1384.0,633.2 L1386.0,633.0 L1388.0,632.7 L1389.9,632.5 L1391.9,632.3 L1393.9,632.1 L1395.9,631.9 L1397.9,631.7 L1400.0,631.4 L1402.0,631.2 L1404.0,631.0 L1406.0,630.7 L1408.0,630.5 L1410.0,630.2 L1412.0,629.9 L1414.0,629.7 L1416.0,629.4 L1418.0,629.1 L1420.0,628.8 L1422.0,628.5 L1424.0,628.3 L1426.0,628.0 L1428.0,627.7 L1430.0,627.4 L1432.0,627.1 L1433.9,626.8 L1435.9,626.5 L1437.9,626.2 L1439.9,625.9 L1441.9,625.6 L1443.9,625.2 L1445.9,624.9 L1447.8,624.6 L1449.8,624.3 L1451.8,624.0 L1453.8,623.7 L1455.8,623.4 L1457.7,623.0 L1459.7,622.7 L1461.7,622.4 L1463.7,622.1 L1465.6,621.8 L1467.6,621.5 L1469.6,621.1 L1471.6,620.8 L1473.6,620.5 L1475.5,620.2 L1477.5,619.9 L1479.5,619.5 L1481.4,619.2 L1483.4,618.9 L1485.4,618.6 L1487.3,618.3 L1489.3,618.0 L1491.2,617.7 L1493.2,617.4 L1495.2,617.1 L1497.1,616.9 L1499.1,616.6 L1501.0,616.3 L1503.0,616.0 L1505.0,615.8 L1507.0,615.5 L1509.0,615.3 L1511.0,615.0 L1513.0,614.7 L1515.0,614.4 L1517.0,614.1 L1519.0,613.8 L1521.0,613.5 L1523.0,613.2 L1525.0,612.9 L1527.0,612.6 L1529.0,612.2 L1531.0,611.9 L1533.0,611.5 L1535.0,611.2 L1536.9,610.8 L1538.9,610.5 L1540.9,610.1 L1542.9,609.8 L1544.8,609.4 L1546.8,609.0 L1548.8,608.7 L1550.7,608.3 L1552.7,608.0 L1554.6,607.6 L1556.6,607.3 L1558.6,606.9 L1560.6,606.6 L1562.5,606.2 L1564.5,605.9 L1566.5,605.5 L1568.4,605.1 L1570.4,604.8 L1572.4,604.4 L1574.4,604.1 L1576.3,603.7 L1578.3,603.4 L1580.3,603.0 L1582.2,602.6 L1584.2,602.3 L1586.2,601.9 L1588.1,601.6 L1590.1,601.2 L1592.1,600.8 L1594.0,600.5 L1596.0,600.1 L1598.0,599.7 L1600.0,599.4 L1601.9,599.0 L1603.9,598.6 L1605.9,598.2 L1607.9,597.8 L1609.9,597.4 L1611.8,597.0 L1613.8,596.6 L1615.8,596.2 L1617.8,595.8 L1619.7,595.4 L1621.7,594.9 L1623.7,594.5 L1625.6,594.1 L1627.5,593.7 L1629.5,593.3 L1631.4,592.9 L1633.3,592.5 L1635.3,592.1 L1637.2,591.8 L1639.1,591.4 L1641.1,591.1 L1643.0,590.7 L1644.9,590.4 L1646.9,590.1 L1648.9,589.8 L1650.8,589.4 L1652.8,589.1 L1654.7,588.8 L1656.7,588.5 L1658.7,588.2 L1660.6,587.9 L1662.6,587.6 L1664.6,587.3 L1666.6,587.1 L1668.5,586.8 L1670.5,586.5 L1672.5,586.2 L1674.5,585.9 L1676.4,585.6 L1678.4,585.3 L1680.4,585.1 L1682.4,584.8 L1684.3,584.5 L1686.3,584.2 L1688.3,584.0 L1690.3,583.7 L1692.2,583.4 L1694.2,583.2 L1696.1,582.9 L1698.0,582.7 L1699.6,582.5 L1700.5,582.3 L1703.1,582.3" fill="none" stroke="#000" stroke-width="18" stroke-dasharray="2 28.7" stroke-dashoffset="-21" clip-path="url(#c1)"/>
<path d="M249.0,1285.1 L251.8,1285.1 L253.3,1285.1 L255.1,1285.1 L257.0,1285.1 L259.0,1285.1 L261.0,1285.1 L263.0,1285.1 L265.0,1285.1 L267.0,1285.1 L269.0,1285.1 L271.0,1285.1 L273.0,1285.1 L275.0,1285.1 L277.0,1285.1 L279.0,1285.1 L281.0,1285.1 L283.0,1285.1 L285.0,1285.1 L287.0,1285.1 L289.0,1285.1 L291.0,1285.1 L293.0,1285.1 L295.0,1285.1 L297.0,1285.1 L299.0,1285.1 L301.0,1285.1 L303.0,1285.1 L305.0,1285.1 L307.0,1285.1 L309.0,1285.1 L311.0,1285.1 L313.0,1285.1 L315.0,1285.1 L317.0,1285.1 L319.0,1285.1 L321.0,1285.1 L323.0,1285.1 L325.0,1285.1 L327.0,1285.1 L329.0,1285.1 L331.0,1285.1 L333.0,1285.1 L335.0,1285.1 L337.0,1285.1 L339.0,1285.1 L341.0,1285.1 L343.0,1285.1 L345.0,1285.1 L347.0,1285.1 L349.0,1285.1 L351.0,1285.1 L353.0,1285.1 L355.0,1285.1 L357.0,1285.1 L359.0,1285.1 L361.0,1285.1 L363.0,1285.1 L365.0,1285.1 L367.0,1285.1 L369.0,1285.1 L371.0,1285.1 L373.0,1285.1 L375.0,1285.1 L377.0,1285.1 L379.0,1285.1 L381.0,1285.1 L383.0,1285.1 L385.0,1285.1 L387.0,1285.1 L389.0,1285.1 L391.0,1285.1 L393.0,1285.1 L395.0,1285.1 L397.0,1285.1 L399.0,1285.1 L401.0,1285.1 L403.0,1285.1 L405.0,1285.1 L407.0,1285.1 L409.0,1285.1 L411.0,1285.1 L413.0,1285.1 L415.0,1285.1 L417.0,1285.1 L419.0,1285.1 L421.0,1285.1 L423.0,1285.1 L425.0,1285.1 L427.0,1285.1 L429.0,1285.1 L431.0,1285.1 L433.0,1285.1 L435.0,1285.1 L437.0,1285.1 L439.0,1285.1 L441.0,1285.1 L443.0,1285.1 L445.0,1285.0 L447.0,1285.0 L449.0,1284.9 L451.0,1284.8 L453.1,1284.7 L455.2,1284.4 L457.3,1283.8 L459.3,1283.0 L461.2,1281.7 L462.9,1280.2 L464.3,1278.4 L465.4,1276.5 L466.4,1274.5 L467.1,1272.5 L467.8,1270.5 L468.4,1268.5 L469.0,1266.6 L469.5,1264.6 L470.1,1262.7 L470.6,1260.7 L471.1,1258.8 L471.5,1256.8 L472.0,1254.9 L472.5,1252.9 L473.0,1251.0 L473.5,1249.0 L474.0,1247.1 L474.4,1245.1 L474.9,1243.2 L475.3,1241.2 L475.8,1239.2 L476.2,1237.3 L476.6,1235.3 L477.0,1233.3 L477.4,1231.4 L477.8,1229.4 L478.2,1227.5 L478.6,1225.5 L479.0,1223.5 L479.4,1221.6 L479.8,1219.6 L480.2,1217.6 L480.6,1215.7 L481.0,1213.7 L481.4,1211.7 L481.8,1209.8 L482.1,1207.8 L482.5,1205.8 L482.9,1203.9 L483.3,1201.9 L483.6,1199.9 L484.0,1198.0 L484.4,1196.0 L484.7,1194.0 L485.1,1192.1 L485.5,1190.1 L485.9,1188.2 L486.2,1186.2 L486.6,1184.2 L487.0,1182.3 L487.4,1180.3 L487.8,1178.4 L488.2,1176.4 L488.6,1174.5 L489.0,1172.5 L489.4,1170.5 L489.8,1168.6 L490.2,1166.6 L490.7,1164.7 L491.1,1162.8 L491.5,1160.8 L491.9,1158.9 L492.4,1156.9 L492.8,1155.0 L493.2,1153.0 L493.7,1151.1 L494.1,1149.1 L494.6,1147.2 L495.1,1145.3 L495.5,1143.3 L496.0,1141.4 L496.5,1139.5 L496.9,1137.5 L497.4,1135.6 L497.9,1133.7 L498.5,1131.8 L499.0,1129.9 L499.6,1128.0 L500.2,1126.1 L500.8,1124.3 L501.4,1122.4 L502.0,1120.5 L502.6,1118.6 L503.3,1116.7 L503.9,1114.9 L504.6,1113.1 L505.3,1111.3 L506.1,1109.6 L506.9,1107.9 L507.7,1106.3 L508.7,1104.8 L509.7,1103.3 L510.8,1101.8 L512.0,1100.4 L513.2,1099.1 L514.3,1097.8 L515.6,1096.7 L516.9,1095.8 L518.3,1095.1 L519.9,1094.5 L521.7,1094.2 L523.6,1094.0 L525.6,1094.0 L527.6,1094.0 L529.6,1094.2 L531.6,1094.4 L533.6,1094.7 L535.5,1095.0 L537.5,1095.3 L539.5,1095.6 L541.5,1095.9 L543.4,1096.2 L545.4,1096.5 L547.4,1096.7 L549.4,1097.0 L551.4,1097.1 L553.4,1097.2 L555.4,1097.1 L557.3,1097.0 L559.3,1096.7 L561.2,1096.2 L563.1,1095.7 L565.0,1095.1 L566.9,1094.4 L568.8,1093.7 L570.6,1092.9 L572.4,1092.1 L574.2,1091.2 L576.0,1090.3 L577.8,1089.4 L579.5,1088.4 L581.2,1087.3 L582.9,1086.2 L584.5,1085.1 L586.1,1083.9 L587.7,1082.7 L589.3,1081.5 L590.9,1080.3 L592.4,1079.0 L594.0,1077.7 L595.5,1076.4 L597.0,1075.1 L598.4,1073.7 L599.9,1072.3 L601.3,1070.9 L602.7,1069.5 L604.1,1068.1 L605.5,1066.6 L606.9,1065.2 L608.2,1063.7 L609.6,1062.3 L611.0,1060.8 L612.4,1059.4 L613.7,1057.9 L615.1,1056.5 L616.5,1055.0 L617.9,1053.6 L619.3,1052.1 L620.6,1050.7 L622.0,1049.2 L623.4,1047.8 L624.7,1046.3 L626.1,1044.8 L627.5,1043.4 L628.8,1041.9 L630.2,1040.5 L631.6,1039.0 L632.9,1037.5 L634.3,1036.1 L635.6,1034.6 L637.0,1033.1 L638.3,1031.7 L639.7,1030.2 L641.1,1028.7 L642.4,1027.2 L643.8,1025.8 L645.1,1024.3 L646.5,1022.9 L647.9,1021.4 L649.3,1020.0 L650.7,1018.6 L652.1,1017.2 L653.6,1015.8 L655.0,1014.4 L656.4,1013.0 L657.9,1011.6 L659.3,1010.2 L660.8,1008.8 L662.2,1007.5 L663.7,1006.2 L665.3,1004.9 L666.8,1003.7 L668.5,1002.5 L670.1,1001.4 L671.8,1000.3 L673.5,999.3 L675.3,998.3 L677.0,997.4 L678.8,996.5 L680.7,995.7 L682.5,994.9 L684.4,994.2 L686.2,993.5 L688.1,992.9 L690.0,992.3 L692.0,991.8 L693.9,991.4 L695.9,990.9 L697.8,990.5 L699.8,990.2 L701.8,990.0 L703.8,989.9 L705.7,989.8 L707.7,989.9 L709.7,990.0 L711.7,990.2 L713.7,990.5 L715.7,990.9 L717.6,991.2 L719.6,991.6 L721.5,992.1 L723.4,992.6 L725.4,993.2 L727.2,993.8 L729.1,994.6 L730.9,995.3 L732.8,996.2 L734.6,997.0 L736.3,997.9 L738.1,998.8 L739.9,999.8 L741.7,1000.7 L743.4,1001.6 L745.2,1002.5 L747.0,1003.4 L748.8,1004.3 L750.6,1005.1 L752.5,1005.9 L754.3,1006.7 L756.1,1007.5 L758.0,1008.2 L759.9,1009.0 L761.7,1009.7 L763.6,1010.4 L765.4,1011.1 L767.3,1011.9 L769.2,1012.6 L771.0,1013.3 L772.9,1014.0 L774.8,1014.8 L776.6,1015.5 L778.5,1016.2 L780.3,1017.0 L782.2,1017.7 L784.1,1018.5 L785.9,1019.2 L787.7,1020.0 L789.6,1020.8 L791.4,1021.5 L793.3,1022.3 L795.1,1023.1 L797.0,1023.8 L798.8,1024.6 L800.7,1025.3 L802.6,1026.0 L804.4,1026.7 L806.3,1027.4 L808.2,1028.1 L810.1,1028.8 L812.0,1029.4 L813.9,1030.0 L815.8,1030.7 L817.7,1031.3 L819.6,1031.9 L821.5,1032.5 L823.4,1033.1 L825.3,1033.7 L827.2,1034.2 L829.2,1034.8 L831.1,1035.3 L833.0,1035.8 L835.0,1036.2 L836.9,1036.7 L838.9,1037.1 L840.8,1037.5 L842.8,1037.9 L844.7,1038.3 L846.7,1038.7 L848.7,1039.1 L850.6,1039.5 L852.6,1039.8 L854.6,1040.1 L856.6,1040.4 L858.5,1040.7 L860.5,1041.0 L862.5,1041.2 L864.5,1041.4 L866.5,1041.6 L868.5,1041.7 L870.5,1041.9 L872.5,1042.0 L874.5,1042.1 L876.5,1042.3 L878.5,1042.4 L880.5,1042.5 L882.5,1042.6 L884.5,1042.7 L886.4,1042.7 L888.4,1042.8 L890.4,1042.8 L892.4,1042.9 L894.4,1042.9 L896.4,1042.8 L898.4,1042.8 L900.4,1042.8 L902.4,1042.7 L904.4,1042.6 L906.4,1042.5 L908.4,1042.4 L910.4,1042.3 L912.4,1042.2 L914.4,1042.0 L916.4,1041.9 L918.4,1041.8 L920.4,1041.6 L922.4,1041.5 L924.4,1041.3 L926.4,1041.1 L928.4,1041.0 L930.4,1040.8 L932.4,1040.5 L934.3,1040.3 L936.3,1040.1 L938.3,1039.8 L940.3,1039.6 L942.3,1039.3 L944.3,1039.0 L946.2,1038.7 L948.2,1038.5 L950.2,1038.2 L952.2,1037.8 L954.1,1037.5 L956.1,1037.2 L958.1,1036.8 L960.1,1036.5 L962.0,1036.1 L964.0,1035.7 L965.9,1035.3 L967.9,1034.9 L969.8,1034.4 L971.8,1034.0 L973.8,1033.6 L975.7,1033.2 L977.7,1032.7 L979.6,1032.3 L981.6,1031.8 L983.5,1031.4 L985.5,1030.9 L987.4,1030.5 L989.3,1030.0 L991.3,1029.5 L993.2,1029.0 L995.2,1028.6 L997.1,1028.1 L999.0,1027.6 L1001.0,1027.1 L1002.9,1026.5 L1004.8,1026.0 L1006.8,1025.5 L1008.7,1025.0 L1010.6,1024.4 L1012.6,1023.9 L1014.5,1023.3 L1016.4,1022.8 L1018.3,1022.2 L1020.2,1021.6 L1022.1,1021.0 L1024.1,1020.5 L1026.0,1019.9 L1027.9,1019.3 L1029.8,1018.7 L1031.7,1018.1 L1033.6,1017.5 L1035.5,1017.0 L1037.4,1016.4 L1039.4,1015.8 L1041.3,1015.2 L1043.2,1014.7 L1045.1,1014.1 L1047.0,1013.5 L1048.9,1013.0 L1050.9,1012.4 L1052.8,1011.8 L1054.7,1011.2 L1056.6,1010.7 L1058.5,1010.1 L1060.4,1009.5 L1062.3,1008.9 L1064.2,1008.3 L1066.1,1007.6 L1068.0,1007.0 L1069.9,1006.4 L1071.8,1005.7 L1073.7,1005.1 L1075.6,1004.4 L1077.5,1003.8 L1079.4,1003.1 L1081.3,1002.4 L1083.2,1001.8 L1085.0,1001.1 L1086.9,1000.4 L1088.8,999.7 L1090.7,999.1 L1092.6,998.4 L1094.5,997.8 L1096.4,997.1 L1098.2,996.4 L1100.1,995.8 L1102.0,995.1 L1103.9,994.4 L1105.8,993.8 L1107.7,993.1 L1109.6,992.5 L1111.4,991.8 L1113.3,991.1 L1115.2,990.5 L1117.1,989.8 L1119.0,989.1 L1120.9,988.5 L1122.8,987.8 L1124.7,987.1 L1126.5,986.5 L1128.4,985.8 L1130.3,985.1 L1132.2,984.5 L1134.1,983.8 L1136.0,983.1 L1137.9,982.5 L1139.7,981.8 L1141.6,981.2 L1143.5,980.5 L1145.4,979.9 L1147.3,979.2 L1149.2,978.6 L1151.1,978.0 L1153.0,977.4 L1154.9,976.8 L1156.8,976.2 L1158.7,975.6 L1160.6,975.0 L1162.6,974.4 L1164.5,973.8 L1166.4,973.2 L1168.3,972.7 L1170.2,972.1 L1172.1,971.5 L1174.1,971.0 L1176.0,970.5 L1177.9,969.9 L1179.8,969.4 L1181.8,968.9 L1183.7,968.3 L1185.6,967.8 L1187.6,967.3 L1189.5,966.8 L1191.4,966.3 L1193.4,965.8 L1195.3,965.3 L1197.3,964.8 L1199.2,964.4 L1201.2,963.9 L1203.1,963.5 L1205.1,963.1 L1207.0,962.7 L1209.0,962.3 L1210.9,961.9 L1212.9,961.5 L1214.9,961.1 L1216.8,960.8 L1218.8,960.4 L1220.8,960.1 L1222.8,959.8 L1224.7,959.5 L1226.7,959.1 L1228.7,958.8 L1230.7,958.6 L1232.6,958.3 L1234.6,958.0 L1236.6,957.7 L1238.6,957.5 L1240.6,957.2 L1242.6,957.0 L1244.6,956.8 L1246.5,956.6 L1248.5,956.4 L1250.5,956.1 L1252.5,955.9 L1254.5,955.7 L1256.5,955.5 L1258.5,955.2 L1260.5,955.0 L1262.4,954.8 L1264.4,954.5 L1266.4,954.2 L1268.4,954.0 L1270.4,953.7 L1272.3,953.4 L1274.3,953.1 L1276.3,952.9 L1278.3,952.6 L1280.3,952.4 L1282.3,952.1 L1284.2,951.9 L1286.2,951.6 L1288.2,951.4 L1290.2,951.2 L1292.2,951.0 L1294.2,950.8 L1296.2,950.6 L1298.2,950.4 L1300.2,950.2 L1302.1,950.0 L1304.1,949.8 L1306.1,949.6 L1308.1,949.5 L1310.1,949.3 L1312.1,949.2 L1314.1,949.0 L1316.1,948.9 L1318.1,948.8 L1320.1,948.6 L1322.1,948.5 L1324.1,948.4 L1326.1,948.3 L1328.1,948.1 L1330.1,948.0 L1332.1,947.9 L1334.1,947.8 L1336.1,947.7 L1338.1,947.7 L1340.1,947.6 L1342.1,947.5 L1344.1,947.5 L1346.1,947.4 L1348.1,947.4 L1350.1,947.3 L1352.1,947.3 L1354.1,947.3 L1356.1,947.3 L1358.1,947.2 L1360.1,947.2 L1362.1,947.2 L1364.1,947.2 L1366.1,947.1 L1368.1,947.1 L1370.1,947.1 L1372.1,947.1 L1374.1,947.1 L1376.1,947.1 L1378.1,947.1 L1380.1,947.1 L1382.1,947.1 L1384.1,947.1 L1386.1,947.1 L1388.1,947.1 L1390.1,947.1 L1392.1,947.1 L1394.1,947.1 L1396.1,947.1 L1398.1,947.1 L1400.1,947.1 L1402.1,947.1 L1404.1,947.1 L1406.1,947.1 L1408.1,947.2 L1410.1,947.2 L1412.1,947.2 L1414.1,947.3 L1416.1,947.4 L1418.1,947.5 L1420.1,947.5 L1422.0,947.6 L1424.0,947.7 L1426.0,947.8 L1428.0,947.9 L1430.0,948.0 L1432.0,948.1 L1434.0,948.2 L1436.0,948.3 L1438.0,948.4 L1440.0,948.6 L1442.0,948.7 L1444.0,948.8 L1446.0,948.9 L1448.0,949.0 L1450.0,949.2 L1452.0,949.3 L1454.0,949.4 L1456.0,949.6 L1458.0,949.7 L1460.0,949.8 L1462.0,950.0 L1464.0,950.1 L1466.0,950.3 L1468.0,950.4 L1470.0,950.6 L1472.0,950.7 L1473.9,950.9 L1475.9,951.0 L1477.9,951.2 L1479.9,951.4 L1481.9,951.5 L1483.9,951.7 L1485.9,951.8 L1487.9,952.0 L1489.9,952.2 L1491.9,952.3 L1493.9,952.5 L1495.9,952.6 L1497.9,952.8 L1499.9,952.9 L1501.9,953.1 L1503.9,953.3 L1505.8,953.4 L1507.8,953.6 L1509.8,953.7 L1511.8,953.9 L1513.8,954.0 L1515.8,954.2 L1517.8,954.4 L1519.8,954.5 L1521.8,954.7 L1523.8,954.9 L1525.8,955.1 L1527.8,955.3 L1529.8,955.5 L1531.7,955.7 L1533.7,955.9 L1535.7,956.1 L1537.7,956.3 L1539.7,956.5 L1541.7,956.7 L1543.7,956.9 L1545.7,957.1 L1547.7,957.3 L1549.7,957.5 L1551.6,957.7 L1553.6,957.9 L1555.6,958.1 L1557.6,958.2 L1559.6,958.4 L1561.6,958.6 L1563.6,958.8 L1565.6,959.0 L1567.6,959.1 L1569.6,959.3 L1571.6,959.5 L1573.6,959.7 L1575.5,959.8 L1577.5,960.0 L1579.5,960.2 L1581.5,960.3 L1583.5,960.5 L1585.5,960.7 L1587.5,960.8 L1589.5,961.0 L1591.5,961.2 L1593.5,961.3 L1595.5,961.5 L1597.5,961.6 L1599.5,961.8 L1601.5,962.0 L1603.5,962.1 L1605.4,962.3 L1607.4,962.5 L1609.4,962.7 L1611.4,962.9 L1613.4,963.0 L1615.4,963.2 L1617.4,963.4 L1619.4,963.6 L1621.4,963.9 L1623.4,964.1 L1625.3,964.3 L1627.3,964.5 L1629.3,964.7 L1631.3,964.9 L1633.3,965.1 L1635.3,965.3 L1637.3,965.5 L1639.3,965.6 L1641.3,965.8 L1643.3,966.0 L1645.3,966.2 L1647.2,966.4 L1649.2,966.6 L1651.2,966.8 L1653.2,966.9 L1655.2,967.1 L1657.2,967.3 L1659.2,967.5 L1661.2,967.6 L1663.2,967.8 L1665.2,967.9 L1667.2,968.1 L1669.2,968.3 L1671.2,968.4 L1673.2,968.6 L1675.1,968.7 L1677.1,968.9 L1679.1,969.0 L1681.1,969.2 L1683.1,969.3 L1685.1,969.4 L1687.1,969.6 L1689.1,969.7 L1691.1,969.8 L1693.1,970.0 L1695.0,970.1 L1696.9,970.2 L1698.6,970.3 L1700.0,970.4 L1703.0,970.4" fill="none" stroke="#000" stroke-width="18" stroke-dasharray="2 28.7" stroke-dashoffset="-21" clip-path="url(#c2)"/>
<path d="M249.0,1692.8 L251.8,1692.8 L253.3,1692.8 L255.1,1692.8 L257.0,1692.8 L259.0,1692.8 L261.0,1692.8 L263.0,1692.8 L265.0,1692.8 L267.0,1692.8 L269.0,1692.8 L271.0,1692.8 L273.0,1692.8 L275.0,1692.8 L277.0,1692.8 L279.0,1692.8 L281.0,1692.8 L283.0,1692.8 L285.0,1692.8 L287.0,1692.8 L289.0,1692.8 L291.0,1692.8 L293.0,1692.8 L295.0,1692.8 L297.0,1692.8 L299.0,1692.8 L301.0,1692.8 L303.0,1692.8 L305.0,1692.8 L307.0,1692.8 L309.0,1692.8 L311.0,1692.8 L313.0,1692.8 L315.0,1692.8 L317.0,1692.8 L319.0,1692.8 L321.0,1692.8 L323.0,1692.8 L325.0,1692.8 L327.0,1692.8 L329.0,1692.8 L331.0,1692.8 L333.0,1692.8 L335.0,1692.8 L337.0,1692.8 L339.0,1692.8 L341.0,1692.8 L343.0,1692.8 L345.0,1692.8 L347.0,1692.8 L349.0,1692.8 L351.0,1692.8 L353.0,1692.8 L355.0,1692.8 L357.0,1692.8 L359.0,1692.8 L361.0,1692.8 L363.0,1692.8 L365.0,1692.8 L367.0,1692.8 L369.0,1692.8 L371.0,1692.8 L373.0,1692.8 L375.0,1692.8 L377.0,1692.8 L379.0,1692.8 L381.0,1692.8 L383.0,1692.8 L385.0,1692.8 L387.0,1692.8 L389.0,1692.8 L391.0,1692.8 L393.0,1692.8 L395.0,1692.8 L397.0,1692.8 L399.0,1692.8 L401.0,1692.8 L403.0,1692.8 L405.0,1692.8 L407.0,1692.8 L409.0,1692.8 L411.0,1692.8 L413.0,1692.8 L415.0,1692.8 L417.0,1692.8 L419.0,1692.8 L421.0,1692.8 L423.0,1692.8 L425.0,1692.8 L427.0,1692.8 L429.0,1692.8 L431.0,1692.8 L433.0,1692.8 L435.0,1692.8 L437.0,1692.9 L439.0,1693.1 L441.1,1693.6 L443.2,1694.2 L445.5,1694.9 L448.0,1695.4 L450.6,1695.6 L453.5,1695.4 L456.3,1694.6 L458.9,1693.3 L461.1,1691.8 L462.9,1690.1 L464.4,1688.4 L465.7,1686.6 L467.0,1684.8 L468.2,1683.0 L469.3,1681.1 L470.4,1679.3 L471.5,1677.4 L472.5,1675.5 L473.5,1673.7 L474.5,1671.8 L475.4,1669.9 L476.3,1668.0 L477.2,1666.1 L478.1,1664.2 L478.9,1662.3 L479.8,1660.4 L480.6,1658.5 L481.3,1656.6 L482.1,1654.7 L482.9,1652.8 L483.6,1650.9 L484.4,1649.1 L485.1,1647.2 L485.8,1645.4 L486.6,1643.5 L487.3,1641.7 L488.1,1639.9 L488.8,1638.0 L489.6,1636.2 L490.3,1634.3 L491.1,1632.4 L491.8,1630.6 L492.6,1628.7 L493.3,1626.9 L494.1,1625.1 L494.8,1623.2 L495.6,1621.4 L496.4,1619.6 L497.1,1617.8 L497.9,1616.0 L498.7,1614.2 L499.5,1612.4 L500.2,1610.7 L501.1,1608.9 L501.9,1607.1 L502.7,1605.4 L503.6,1603.6 L504.4,1601.8 L505.3,1600.1 L506.1,1598.3 L507.0,1596.6 L507.9,1594.9 L508.8,1593.1 L509.7,1591.4 L510.6,1589.7 L511.6,1588.0 L512.5,1586.3 L513.4,1584.5 L514.4,1582.8 L515.4,1581.1 L516.3,1579.5 L517.3,1577.8 L518.3,1576.1 L519.3,1574.4 L520.3,1572.7 L521.3,1571.1 L522.4,1569.4 L523.4,1567.8 L524.4,1566.1 L525.5,1564.5 L526.5,1562.9 L527.6,1561.2 L528.7,1559.6 L529.8,1558.1 L530.9,1556.5 L532.0,1554.9 L533.1,1553.3 L534.3,1551.7 L535.5,1550.0 L536.6,1548.4 L537.8,1546.8 L539.0,1545.1 L540.2,1543.5 L541.3,1541.8 L542.5,1540.1 L543.7,1538.4 L544.8,1536.7 L545.9,1535.1 L547.1,1533.4 L548.2,1531.7 L549.3,1530.0 L550.4,1528.3 L551.5,1526.7 L552.6,1525.0 L553.7,1523.3 L554.8,1521.7 L555.9,1520.0 L557.0,1518.4 L558.1,1516.7 L559.2,1515.0 L560.3,1513.4 L561.4,1511.7 L562.6,1510.0 L563.7,1508.4 L564.8,1506.7 L565.9,1505.1 L567.0,1503.4 L568.1,1501.7 L569.2,1500.1 L570.3,1498.4 L571.5,1496.7 L572.6,1495.1 L573.7,1493.4 L574.8,1491.7 L575.9,1490.0 L577.0,1488.3 L578.1,1486.7 L579.2,1485.0 L580.3,1483.4 L581.3,1481.7 L582.4,1480.1 L583.5,1478.5 L584.6,1476.9 L585.7,1475.4 L586.9,1473.8 L588.0,1472.2 L589.2,1470.7 L590.3,1469.1 L591.5,1467.6 L592.7,1466.0 L593.9,1464.5 L595.1,1463.1 L596.3,1461.6 L597.5,1460.2 L598.7,1458.8 L600.0,1457.4 L601.2,1455.9 L602.6,1454.5 L603.9,1453.2 L605.2,1451.8 L606.4,1450.5 L607.7,1449.3 L608.9,1448.3 L610.1,1447.3 L611.3,1446.4 L612.6,1445.5 L613.8,1444.4 L615.1,1443.3 L616.3,1441.9 L617.6,1440.5 L618.9,1439.1 L620.3,1437.8 L621.8,1436.5 L623.3,1435.2 L625.0,1434.1 L626.8,1433.0 L628.7,1432.1 L630.6,1431.5 L632.6,1431.1 L634.6,1430.9 L636.6,1430.8 L638.6,1430.8 L640.6,1430.9 L642.5,1431.0 L644.5,1431.2 L646.5,1431.5 L648.5,1431.7 L650.5,1431.8 L652.6,1431.7 L654.7,1431.5 L656.9,1431.3 L659.1,1431.2 L661.3,1431.1 L663.5,1431.0 L665.8,1431.0 L668.0,1431.1 L670.2,1431.3 L672.3,1431.6 L674.3,1432.1 L676.2,1432.7 L678.0,1433.4 L679.8,1434.2 L681.7,1435.0 L683.5,1435.7 L685.4,1436.5 L687.2,1437.2 L689.1,1438.0 L690.9,1438.8 L692.7,1439.6 L694.6,1440.3 L696.4,1441.1 L698.2,1441.8 L700.0,1442.5 L701.8,1443.2 L703.6,1443.8 L705.4,1444.5 L707.2,1445.1 L709.1,1445.8 L710.9,1446.4 L712.8,1447.0 L714.6,1447.6 L716.5,1448.2 L718.3,1448.8 L720.2,1449.3 L722.0,1449.8 L723.8,1450.3 L725.7,1450.8 L727.6,1451.3 L729.4,1451.7 L731.3,1452.2 L733.2,1452.6 L735.2,1453.0 L737.1,1453.4 L738.9,1453.8 L740.8,1454.2 L742.7,1454.5 L744.5,1454.8 L746.4,1455.1 L748.2,1455.3 L750.0,1455.5 L751.9,1455.7 L753.8,1455.9 L755.7,1456.0 L757.7,1456.1 L759.7,1456.2 L761.6,1456.3 L763.6,1456.4 L765.5,1456.5 L767.5,1456.6 L769.4,1456.7 L771.3,1456.7 L773.3,1456.7 L775.2,1456.7 L777.1,1456.7 L778.9,1456.6 L780.8,1456.6 L782.7,1456.5 L784.6,1456.3 L786.5,1456.2 L788.4,1456.0 L790.3,1455.8 L792.3,1455.6 L794.2,1455.4 L796.2,1455.1 L798.1,1454.9 L800.1,1454.6 L802.1,1454.4 L804.1,1454.1 L806.0,1453.9 L808.0,1453.6 L810.0,1453.3 L811.9,1453.1 L813.9,1452.8 L815.8,1452.5 L817.7,1452.2 L819.7,1451.9 L821.6,1451.6 L823.5,1451.3 L825.4,1450.9 L827.4,1450.6 L829.3,1450.2 L831.2,1449.8 L833.1,1449.5 L835.0,1449.1 L836.9,1448.7 L838.8,1448.2 L840.7,1447.8 L842.5,1447.3 L844.4,1446.9 L846.3,1446.4 L848.2,1445.9 L850.1,1445.3 L852.0,1444.8 L853.8,1444.3 L855.7,1443.7 L857.7,1443.2 L859.6,1442.6 L861.5,1442.0 L863.3,1441.5 L865.2,1440.9 L867.1,1440.3 L869.0,1439.7 L870.8,1439.1 L872.7,1438.5 L874.6,1437.9 L876.5,1437.3 L878.4,1436.6 L880.2,1436.0 L882.1,1435.4 L884.0,1434.7 L885.9,1434.1 L887.8,1433.4 L889.8,1432.8 L891.7,1432.2 L893.6,1431.5 L895.5,1430.9 L897.4,1430.3 L899.3,1429.7 L901.2,1429.0 L903.1,1428.4 L905.0,1427.8 L906.9,1427.2 L908.8,1426.5 L910.7,1425.9 L912.6,1425.3 L914.5,1424.7 L916.4,1424.0 L918.3,1423.4 L920.2,1422.8 L922.1,1422.2 L924.0,1421.5 L925.9,1420.9 L927.7,1420.3 L929.6,1419.6 L931.5,1419.0 L933.4,1418.4 L935.3,1417.8 L937.2,1417.1 L939.1,1416.5 L941.0,1415.9 L942.9,1415.2 L944.7,1414.6 L946.6,1413.9 L948.5,1413.3 L950.3,1412.6 L952.2,1412.0 L954.1,1411.3 L955.9,1410.6 L957.8,1409.9 L959.6,1409.2 L961.5,1408.6 L963.4,1407.9 L965.3,1407.2 L967.2,1406.5 L969.1,1405.8 L971.0,1405.1 L972.9,1404.4 L974.8,1403.8 L976.8,1403.1 L978.7,1402.4 L980.6,1401.8 L982.5,1401.2 L984.4,1400.5 L986.4,1399.9 L988.3,1399.3 L990.2,1398.7 L992.1,1398.1 L994.0,1397.5 L996.0,1396.9 L997.9,1396.3 L999.8,1395.7 L1001.8,1395.1 L1003.7,1394.5 L1005.6,1393.9 L1007.6,1393.4 L1009.5,1392.8 L1011.5,1392.2 L1013.4,1391.7 L1015.4,1391.1 L1017.3,1390.6 L1019.3,1390.1 L1021.2,1389.5 L1023.1,1389.0 L1025.1,1388.5 L1027.0,1388.0 L1028.9,1387.4 L1030.9,1386.9 L1032.8,1386.4 L1034.7,1385.9 L1036.6,1385.3 L1038.5,1384.8 L1040.4,1384.3 L1042.4,1383.7 L1044.3,1383.2 L1046.2,1382.7 L1048.2,1382.1 L1050.1,1381.6 L1052.1,1381.1 L1054.1,1380.5 L1056.0,1380.0 L1058.0,1379.5 L1060.0,1379.0 L1062.0,1378.6 L1064.0,1378.1 L1066.0,1377.7 L1068.0,1377.2 L1070.0,1376.8 L1072.0,1376.4 L1073.9,1376.0 L1075.9,1375.6 L1077.9,1375.2 L1079.9,1374.8 L1081.9,1374.4 L1083.9,1374.0 L1085.8,1373.7 L1087.8,1373.3 L1089.8,1372.9 L1091.8,1372.6 L1093.7,1372.2 L1095.7,1371.9 L1097.7,1371.5 L1099.7,1371.1 L1101.6,1370.8 L1103.6,1370.4 L1105.6,1370.1 L1107.6,1369.7 L1109.6,1369.4 L1111.6,1369.1 L1113.7,1368.8 L1115.7,1368.5 L1117.7,1368.2 L1119.7,1367.9 L1121.8,1367.7 L1123.8,1367.4 L1125.8,1367.2 L1127.8,1366.9 L1129.8,1366.7 L1131.8,1366.5 L1133.8,1366.3 L1135.9,1366.1 L1137.9,1365.9 L1139.9,1365.7 L1141.9,1365.5 L1144.0,1365.3 L1146.0,1365.2 L1148.0,1365.0 L1150.0,1364.9 L1152.1,1364.7 L1154.1,1364.6 L1156.1,1364.5 L1158.1,1364.4 L1160.1,1364.3 L1162.1,1364.2 L1164.2,1364.1 L1166.2,1364.0 L1168.2,1363.9 L1170.2,1363.8 L1172.2,1363.7 L1174.2,1363.7 L1176.3,1363.6 L1178.3,1363.5 L1180.3,1363.5 L1182.3,1363.4 L1184.3,1363.4 L1186.3,1363.3 L1188.3,1363.3 L1190.3,1363.2 L1192.3,1363.2 L1194.3,1363.1 L1196.4,1363.1 L1198.4,1363.1 L1200.4,1363.0 L1202.4,1363.0 L1204.4,1363.0 L1206.4,1363.0 L1208.4,1363.0 L1210.4,1363.0 L1212.4,1363.0 L1214.5,1362.9 L1216.5,1362.9 L1218.5,1362.9 L1220.5,1362.9 L1222.5,1362.9 L1224.5,1362.9 L1226.5,1362.9 L1228.5,1362.9 L1230.5,1362.9 L1232.6,1363.0 L1234.6,1363.0 L1236.6,1363.0 L1238.6,1363.1 L1240.7,1363.1 L1242.7,1363.2 L1244.7,1363.2 L1246.7,1363.3 L1248.7,1363.4 L1250.7,1363.4 L1252.7,1363.5 L1254.7,1363.6 L1256.7,1363.7 L1258.8,1363.8 L1260.8,1363.8 L1262.8,1363.9 L1264.8,1364.0 L1266.8,1364.1 L1268.8,1364.2 L1270.8,1364.3 L1272.8,1364.4 L1274.8,1364.5 L1276.8,1364.7 L1278.8,1364.8 L1280.8,1365.0 L1282.8,1365.3 L1284.8,1365.6 L1286.8,1365.9 L1288.8,1366.2 L1290.8,1366.5 L1292.8,1366.8 L1294.8,1367.1 L1296.8,1367.5 L1298.8,1367.8 L1300.7,1368.1 L1302.7,1368.5 L1304.7,1368.8 L1306.7,1369.2 L1308.7,1369.5 L1310.7,1369.8 L1312.7,1370.2 L1314.7,1370.5 L1316.6,1370.9 L1318.6,1371.2 L1320.6,1371.6 L1322.6,1372.0 L1324.6,1372.3 L1326.5,1372.7 L1328.5,1373.0 L1330.5,1373.3 L1332.5,1373.6 L1334.5,1373.8 L1336.5,1374.0 L1338.5,1374.2 L1340.5,1374.4 L1342.5,1374.5 L1344.4,1374.7 L1346.4,1374.9 L1348.4,1375.1 L1350.4,1375.3 L1352.4,1375.5 L1354.4,1375.7 L1356.4,1375.8 L1358.4,1376.0 L1360.4,1376.2 L1362.4,1376.4 L1364.4,1376.6 L1366.4,1376.8 L1368.3,1377.0 L1370.3,1377.1 L1372.3,1377.3 L1374.3,1377.5 L1376.3,1377.7 L1378.3,1377.8 L1380.3,1378.0 L1382.3,1378.2 L1384.3,1378.3 L1386.3,1378.5 L1388.2,1378.6 L1390.2,1378.8 L1392.2,1378.9 L1394.2,1379.1 L1396.2,1379.2 L1398.2,1379.4 L1400.2,1379.6 L1402.2,1379.7 L1404.2,1379.9 L1406.2,1380.1 L1408.2,1380.2 L1410.2,1380.4 L1412.2,1380.6 L1414.2,1380.7 L1416.2,1380.9 L1418.2,1381.1 L1420.2,1381.3 L1422.2,1381.5 L1424.1,1381.6 L1426.1,1381.8 L1428.1,1382.0 L1430.1,1382.2 L1432.1,1382.4 L1434.1,1382.6 L1436.1,1382.8 L1438.1,1383.0 L1440.1,1383.2 L1442.1,1383.4 L1444.1,1383.6 L1446.1,1383.8 L1448.1,1384.0 L1450.0,1384.2 L1452.0,1384.4 L1454.0,1384.6 L1456.0,1384.8 L1458.0,1385.0 L1460.0,1385.2 L1462.0,1385.3 L1463.9,1385.5 L1465.9,1385.7 L1467.9,1385.8 L1469.9,1386.0 L1471.9,1386.2 L1473.9,1386.3 L1475.9,1386.5 L1477.9,1386.6 L1479.9,1386.8 L1481.9,1386.9 L1483.9,1387.1 L1485.9,1387.2 L1487.9,1387.4 L1489.9,1387.6 L1491.9,1387.7 L1493.9,1387.9 L1495.9,1388.1 L1497.9,1388.3 L1499.8,1388.5 L1501.8,1388.7 L1503.8,1388.9 L1505.8,1389.1 L1507.8,1389.3 L1509.8,1389.5 L1511.8,1389.7 L1513.8,1389.9 L1515.8,1390.1 L1517.8,1390.3 L1519.7,1390.5 L1521.7,1390.7 L1523.7,1390.9 L1525.7,1391.1 L1527.7,1391.3 L1529.7,1391.5 L1531.7,1391.7 L1533.7,1391.9 L1535.7,1392.1 L1537.7,1392.3 L1539.6,1392.5 L1541.6,1392.7 L1543.6,1392.9 L1545.6,1393.1 L1547.6,1393.3 L1549.6,1393.5 L1551.6,1393.7 L1553.6,1393.9 L1555.6,1394.1 L1557.6,1394.3 L1559.5,1394.5 L1561.5,1394.7 L1563.5,1394.9 L1565.5,1395.1 L1567.5,1395.3 L1569.5,1395.5 L1571.5,1395.7 L1573.5,1395.9 L1575.5,1396.1 L1577.5,1396.3 L1579.4,1396.5 L1581.4,1396.7 L1583.4,1396.9 L1585.4,1397.1 L1587.4,1397.3 L1589.4,1397.5 L1591.4,1397.7 L1593.4,1397.9 L1595.4,1398.1 L1597.4,1398.3 L1599.4,1398.5 L1601.3,1398.7 L1603.3,1398.9 L1605.3,1399.1 L1607.3,1399.3 L1609.3,1399.5 L1611.3,1399.7 L1613.3,1399.9 L1615.3,1400.1 L1617.3,1400.3 L1619.3,1400.5 L1621.2,1400.7 L1623.2,1401.0 L1625.2,1401.2 L1627.2,1401.4 L1629.2,1401.6 L1631.2,1401.8 L1633.2,1402.0 L1635.1,1402.1 L1637.1,1402.3 L1639.1,1402.5 L1641.1,1402.6 L1643.1,1402.8 L1645.1,1402.9 L1647.1,1403.1 L1649.1,1403.2 L1651.1,1403.4 L1653.0,1403.5 L1655.0,1403.6 L1657.0,1403.8 L1659.0,1403.9 L1661.0,1404.0 L1663.0,1404.1 L1665.0,1404.2 L1667.0,1404.4 L1669.0,1404.5 L1671.0,1404.6 L1673.0,1404.7 L1675.0,1404.8 L1677.0,1404.9 L1679.0,1405.0 L1681.0,1405.1 L1683.0,1405.2 L1685.0,1405.3 L1686.9,1405.4 L1688.9,1405.5 L1690.9,1405.5 L1692.9,1405.6 L1694.9,1405.7 L1696.8,1405.8 L1698.6,1405.8 L1700.1,1405.9 L1703.0,1405.9" fill="none" stroke="#000" stroke-width="18" stroke-dasharray="2 28.7" stroke-dashoffset="-21" clip-path="url(#c3)"/>
<path d="M249.0,2100.5 L251.8,2100.5 L253.3,2100.5 L255.1,2100.5 L257.0,2100.5 L259.0,2100.5 L261.0,2100.5 L263.0,2100.5 L265.0,2100.5 L267.0,2100.5 L269.0,2100.5 L271.0,2100.5 L273.0,2100.5 L275.0,2100.5 L277.0,2100.5 L279.0,2100.5 L281.0,2100.5 L283.0,2100.5 L285.0,2100.5 L287.0,2100.5 L289.0,2100.5 L291.0,2100.5 L293.0,2100.5 L295.0,2100.5 L297.0,2100.5 L299.0,2100.5 L301.0,2100.5 L303.0,2100.5 L305.0,2100.5 L307.0,2100.5 L309.0,2100.5 L311.0,2100.5 L313.0,2100.5 L315.0,2100.5 L317.0,2100.5 L319.0,2100.5 L321.0,2100.5 L323.0,2100.5 L325.0,2100.5 L327.0,2100.5 L329.0,2100.5 L331.0,2100.5 L333.0,2100.5 L335.0,2100.5 L337.0,2100.5 L339.0,2100.5 L341.0,2100.5 L343.0,2100.5 L345.0,2100.5 L347.0,2100.5 L349.0,2100.5 L351.0,2100.5 L353.0,2100.5 L355.0,2100.5 L357.0,2100.5 L359.0,2100.5 L361.0,2100.5 L363.0,2100.5 L365.0,2100.5 L367.0,2100.5 L369.0,2100.5 L371.0,2100.5 L373.0,2100.5 L375.0,2100.5 L377.0,2100.5 L379.0,2100.5 L381.0,2100.5 L383.0,2100.5 L385.0,2100.5 L387.0,2100.5 L389.0,2100.5 L391.0,2100.5 L393.0,2100.5 L395.0,2100.5 L397.0,2100.5 L399.0,2100.5 L401.0,2100.5 L403.0,2100.5 L405.0,2100.5 L407.0,2100.5 L409.0,2100.5 L411.0,2100.5 L413.0,2100.5 L415.0,2100.5 L417.0,2100.5 L419.0,2100.5 L421.0,2100.5 L423.0,2100.5 L425.0,2100.5 L427.0,2100.5 L429.0,2100.5 L431.0,2100.5 L433.0,2100.6 L435.0,2100.8 L437.1,2101.1 L439.4,2101.5 L441.8,2101.9 L444.4,2101.8 L446.9,2101.3 L449.3,2100.2 L451.4,2098.6 L453.1,2096.8 L454.5,2094.8 L455.7,2092.8 L456.8,2090.9 L457.7,2089.0 L458.6,2087.1 L459.5,2085.1 L460.4,2083.2 L461.2,2081.2 L461.9,2079.3 L462.7,2077.3 L463.4,2075.4 L464.0,2073.5 L464.7,2071.5 L465.3,2069.6 L466.0,2067.6 L466.6,2065.7 L467.2,2063.7 L467.8,2061.8 L468.3,2059.8 L468.9,2057.9 L469.4,2055.9 L470.0,2053.9 L470.5,2052.0 L471.0,2050.0 L471.5,2048.1 L472.0,2046.1 L472.5,2044.2 L473.0,2042.2 L473.5,2040.3 L474.0,2038.3 L474.5,2036.4 L475.0,2034.4 L475.4,2032.5 L475.9,2030.5 L476.4,2028.5 L476.8,2026.6 L477.3,2024.6 L477.7,2022.7 L478.2,2020.7 L478.6,2018.8 L479.1,2016.8 L479.5,2014.8 L479.9,2012.9 L480.4,2010.9 L480.8,2009.0 L481.2,2007.0 L481.7,2005.0 L482.1,2003.1 L482.5,2001.1 L482.9,1999.2 L483.4,1997.2 L483.8,1995.2 L484.2,1993.3 L484.6,1991.3 L485.0,1989.3 L485.4,1987.4 L485.8,1985.4 L486.2,1983.5 L486.7,1981.5 L487.1,1979.6 L487.5,1977.6 L487.9,1975.7 L488.3,1973.7 L488.7,1971.7 L489.1,1969.8 L489.5,1967.8 L490.0,1965.9 L490.4,1963.9 L490.8,1962.0 L491.2,1960.0 L491.6,1958.0 L492.0,1956.1 L492.4,1954.1 L492.9,1952.2 L493.3,1950.3 L493.7,1948.3 L494.1,1946.4 L494.6,1944.4 L495.0,1942.5 L495.5,1940.6 L495.9,1938.7 L496.4,1936.7 L496.8,1934.8 L497.3,1932.9 L497.8,1931.0 L498.3,1929.0 L498.8,1927.1 L499.2,1925.2 L499.7,1923.2 L500.2,1921.3 L500.7,1919.4 L501.2,1917.4 L501.7,1915.5 L502.2,1913.5 L502.7,1911.6 L503.2,1909.6 L503.7,1907.7 L504.2,1905.7 L504.6,1903.8 L505.1,1901.8 L505.6,1899.9 L506.1,1898.0 L506.5,1896.0 L507.0,1894.1 L507.5,1892.1 L508.0,1890.2 L508.5,1888.3 L509.0,1886.4 L509.4,1884.4 L509.9,1882.5 L510.4,1880.6 L510.9,1878.6 L511.4,1876.7 L511.9,1874.8 L512.4,1872.8 L512.9,1870.9 L513.4,1869.0 L514.0,1867.1 L514.5,1865.2 L515.0,1863.3 L515.5,1861.4 L516.1,1859.6 L516.7,1857.7 L517.3,1855.9 L517.9,1854.0 L518.5,1852.2 L519.2,1850.3 L519.8,1848.5 L520.5,1846.7 L521.2,1844.8 L521.9,1843.1 L522.6,1841.3 L523.3,1839.5 L524.1,1837.8 L524.9,1836.2 L525.7,1834.5 L526.6,1832.9 L527.5,1831.3 L528.4,1829.6 L529.2,1827.9 L529.8,1826.1 L530.3,1824.2 L530.7,1822.3 L531.1,1820.2 L531.6,1818.1 L532.2,1816.0 L533.1,1813.7 L534.0,1811.5 L535.2,1809.3 L536.6,1807.3 L538.4,1805.7 L540.5,1804.4 L542.9,1803.5 L545.4,1803.0 L547.9,1802.8 L550.4,1802.9 L552.9,1803.1 L555.2,1803.5 L557.4,1804.0 L559.6,1804.6 L561.8,1805.4 L563.9,1806.2 L566.0,1807.2 L568.0,1808.2 L570.0,1809.3 L571.8,1810.5 L573.5,1811.6 L575.2,1812.7 L576.9,1813.8 L578.6,1815.0 L580.3,1816.1 L582.0,1817.3 L583.6,1818.4 L585.3,1819.6 L586.9,1820.8 L588.5,1821.9 L590.1,1823.0 L591.7,1824.1 L593.3,1825.2 L594.9,1826.2 L596.5,1827.2 L598.2,1828.2 L599.8,1829.2 L601.5,1830.1 L603.2,1831.1 L604.9,1832.0 L606.6,1832.9 L608.3,1833.8 L610.1,1834.7 L611.8,1835.5 L613.5,1836.3 L615.2,1837.1 L617.0,1837.8 L618.7,1838.5 L620.5,1839.2 L622.3,1839.9 L624.1,1840.5 L625.9,1841.1 L627.8,1841.7 L629.6,1842.3 L631.5,1842.8 L633.3,1843.3 L635.1,1843.8 L637.0,1844.3 L638.8,1844.7 L640.7,1845.1 L642.5,1845.4 L644.4,1845.8 L646.3,1846.1 L648.2,1846.3 L650.1,1846.6 L651.9,1846.8 L653.7,1846.9 L655.6,1847.0 L657.4,1847.1 L659.3,1847.1 L661.2,1847.1 L663.1,1847.0 L665.0,1846.9 L667.0,1846.8 L668.9,1846.7 L670.9,1846.6 L672.8,1846.4 L674.8,1846.3 L676.7,1846.1 L678.6,1845.9 L680.5,1845.7 L682.4,1845.4 L684.2,1845.1 L686.1,1844.8 L688.0,1844.5 L689.9,1844.1 L691.7,1843.7 L693.6,1843.2 L695.5,1842.8 L697.4,1842.3 L699.3,1841.8 L701.2,1841.3 L703.1,1840.8 L704.9,1840.3 L706.7,1839.7 L708.5,1839.2 L710.4,1838.5 L712.2,1837.9 L714.0,1837.2 L715.8,1836.6 L717.7,1835.9 L719.5,1835.1 L721.4,1834.4 L723.2,1833.7 L725.0,1833.0 L726.8,1832.2 L728.6,1831.5 L730.4,1830.7 L732.2,1829.9 L734.0,1829.1 L735.8,1828.3 L737.6,1827.5 L739.4,1826.7 L741.2,1825.8 L743.0,1825.0 L744.8,1824.1 L746.6,1823.3 L748.4,1822.4 L750.2,1821.6 L752.0,1820.7 L753.8,1819.9 L755.6,1819.0 L757.3,1818.1 L759.1,1817.3 L760.9,1816.4 L762.7,1815.5 L764.4,1814.6 L766.2,1813.7 L767.9,1812.8 L769.7,1811.9 L771.4,1811.0 L773.1,1810.0 L774.8,1809.1 L776.5,1808.1 L778.2,1807.2 L779.9,1806.2 L781.6,1805.2 L783.3,1804.2 L785.0,1803.1 L786.7,1802.1 L788.4,1801.1 L790.1,1800.0 L791.8,1799.0 L793.6,1798.0 L795.3,1796.9 L797.0,1795.9 L798.8,1794.8 L800.5,1793.8 L802.3,1792.8 L804.0,1791.8 L805.8,1790.8 L807.6,1789.8 L809.3,1788.8 L811.1,1787.9 L812.9,1786.9 L814.7,1785.9 L816.4,1785.0 L818.2,1784.0 L820.0,1783.1 L821.8,1782.1 L823.6,1781.2 L825.4,1780.3 L827.2,1779.4 L829.0,1778.4 L830.8,1777.5 L832.6,1776.6 L834.4,1775.7 L836.2,1774.9 L838.1,1774.0 L839.9,1773.1 L841.7,1772.2 L843.5,1771.4 L845.4,1770.5 L847.2,1769.7 L849.1,1768.8 L850.9,1768.0 L852.8,1767.2 L854.6,1766.4 L856.5,1765.6 L858.4,1764.8 L860.3,1764.0 L862.2,1763.2 L864.0,1762.5 L865.9,1761.7 L867.8,1761.0 L869.7,1760.3 L871.6,1759.6 L873.5,1758.9 L875.4,1758.2 L877.4,1757.5 L879.3,1756.8 L881.2,1756.1 L883.1,1755.5 L885.1,1754.8 L887.0,1754.2 L889.0,1753.6 L890.9,1753.0 L892.9,1752.4 L894.8,1751.9 L896.8,1751.3 L898.7,1750.8 L900.7,1750.2 L902.7,1749.7 L904.6,1749.2 L906.6,1748.7 L908.6,1748.2 L910.6,1747.7 L912.6,1747.2 L914.6,1746.8 L916.6,1746.3 L918.6,1745.9 L920.6,1745.5 L922.6,1745.1 L924.6,1744.8 L926.6,1744.4 L928.6,1744.1 L930.6,1743.7 L932.6,1743.4 L934.6,1743.1 L936.6,1742.8 L938.6,1742.5 L940.6,1742.2 L942.7,1741.9 L944.7,1741.7 L946.7,1741.4 L948.7,1741.2 L950.7,1741.0 L952.8,1740.8 L954.8,1740.6 L956.8,1740.4 L958.8,1740.2 L960.8,1740.0 L962.8,1739.8 L964.8,1739.7 L966.9,1739.5 L968.9,1739.4 L970.9,1739.2 L973.0,1739.1 L975.0,1739.0 L977.0,1738.9 L979.1,1738.8 L981.1,1738.7 L983.1,1738.7 L985.1,1738.6 L987.1,1738.6 L989.1,1738.5 L991.1,1738.4 L993.1,1738.4 L995.2,1738.4 L997.2,1738.3 L999.2,1738.4 L1001.2,1738.5 L1003.2,1738.7 L1005.3,1738.9 L1007.3,1739.1 L1009.3,1739.4 L1011.4,1739.6 L1013.4,1739.9 L1015.4,1740.2 L1017.4,1740.5 L1019.5,1740.9 L1021.5,1741.2 L1023.5,1741.5 L1025.5,1741.9 L1027.4,1742.3 L1029.4,1742.6 L1031.4,1743.0 L1033.4,1743.4 L1035.4,1743.8 L1037.4,1744.2 L1039.3,1744.6 L1041.3,1745.1 L1043.3,1745.5 L1045.3,1746.0 L1047.2,1746.4 L1049.2,1746.9 L1051.2,1747.2 L1053.1,1747.6 L1055.1,1747.9 L1057.1,1748.2 L1059.1,1748.5 L1061.0,1748.8 L1063.0,1749.1 L1065.0,1749.4 L1067.0,1749.7 L1068.9,1750.0 L1070.9,1750.3 L1072.9,1750.6 L1074.9,1751.0 L1076.8,1751.3 L1078.8,1751.6 L1080.8,1752.0 L1082.7,1752.3 L1084.7,1752.7 L1086.7,1753.0 L1088.7,1753.4 L1090.6,1753.7 L1092.6,1754.0 L1094.6,1754.4 L1096.5,1754.7 L1098.5,1755.1 L1100.5,1755.4 L1102.4,1755.8 L1104.4,1756.2 L1106.4,1756.5 L1108.3,1756.9 L1110.3,1757.2 L1112.3,1757.6 L1114.2,1758.0 L1116.2,1758.3 L1118.2,1758.7 L1120.1,1759.1 L1122.1,1759.4 L1124.1,1759.8 L1126.0,1760.2 L1128.0,1760.6 L1130.0,1761.0 L1131.9,1761.4 L1133.9,1761.7 L1135.8,1762.1 L1137.8,1762.5 L1139.8,1762.9 L1141.7,1763.3 L1143.7,1763.7 L1145.6,1764.1 L1147.6,1764.5 L1149.6,1765.0 L1151.5,1765.4 L1153.5,1765.8 L1155.4,1766.2 L1157.4,1766.7 L1159.3,1767.1 L1161.3,1767.5 L1163.2,1768.0 L1165.2,1768.4 L1167.1,1768.8 L1169.1,1769.3 L1171.0,1769.7 L1173.0,1770.1 L1175.0,1770.5 L1176.9,1770.9 L1178.9,1771.3 L1180.8,1771.7 L1182.8,1772.1 L1184.8,1772.4 L1186.7,1772.8 L1188.7,1773.1 L1190.7,1773.5 L1192.6,1773.8 L1194.6,1774.2 L1196.6,1774.5 L1198.6,1774.9 L1200.5,1775.2 L1202.5,1775.6 L1204.5,1775.9 L1206.4,1776.3 L1208.4,1776.6 L1210.4,1777.0 L1212.3,1777.3 L1214.3,1777.6 L1216.3,1778.0 L1218.3,1778.3 L1220.2,1778.7 L1222.2,1779.0 L1224.2,1779.4 L1226.1,1779.7 L1228.1,1780.0 L1230.1,1780.4 L1232.1,1780.7 L1234.0,1781.0 L1236.0,1781.3 L1238.0,1781.6 L1240.0,1781.9 L1241.9,1782.2 L1243.9,1782.5 L1245.9,1782.8 L1247.9,1783.0 L1249.9,1783.3 L1251.8,1783.6 L1253.8,1783.9 L1255.8,1784.1 L1257.8,1784.4 L1259.8,1784.7 L1261.7,1785.0 L1263.7,1785.3 L1265.7,1785.6 L1267.7,1785.9 L1269.6,1786.2 L1271.6,1786.5 L1273.6,1786.9 L1275.6,1787.2 L1277.6,1787.5 L1279.5,1787.8 L1281.5,1788.1 L1283.5,1788.3 L1285.5,1788.6 L1287.4,1789.0 L1289.4,1789.4 L1291.4,1789.9 L1293.3,1790.5 L1295.2,1791.1 L1297.2,1791.8 L1299.1,1792.4 L1301.1,1793.1 L1303.0,1793.8 L1304.9,1794.5 L1306.9,1795.1 L1308.8,1795.8 L1310.7,1796.5 L1312.6,1797.2 L1314.5,1797.9 L1316.4,1798.6 L1318.2,1799.3 L1320.1,1800.1 L1321.9,1800.8 L1323.8,1801.6 L1325.7,1802.3 L1327.6,1802.9 L1329.5,1803.5 L1331.4,1804.0 L1333.4,1804.4 L1335.4,1804.7 L1337.4,1805.1 L1339.4,1805.4 L1341.4,1805.7 L1343.5,1806.1 L1345.5,1806.4 L1347.5,1806.7 L1349.5,1807.0 L1351.5,1807.2 L1353.5,1807.5 L1355.5,1807.8 L1357.5,1808.1 L1359.5,1808.3 L1361.5,1808.6 L1363.5,1808.8 L1365.5,1809.1 L1367.5,1809.3 L1369.5,1809.6 L1371.5,1809.8 L1373.6,1810.0 L1375.6,1810.3 L1377.6,1810.5 L1379.6,1810.7 L1381.6,1810.9 L1383.6,1811.1 L1385.6,1811.3 L1387.6,1811.5 L1389.6,1811.7 L1391.6,1811.9 L1393.6,1812.1 L1395.6,1812.3 L1397.6,1812.5 L1399.6,1812.7 L1401.5,1812.9 L1403.5,1813.1 L1405.5,1813.3 L1407.5,1813.5 L1409.5,1813.7 L1411.5,1813.9 L1413.5,1814.1 L1415.4,1814.3 L1417.4,1814.5 L1419.4,1814.7 L1421.4,1814.9 L1423.4,1815.1 L1425.4,1815.3 L1427.5,1815.5 L1429.5,1815.7 L1431.5,1815.9 L1433.5,1816.0 L1435.5,1816.2 L1437.5,1816.4 L1439.5,1816.5 L1441.5,1816.7 L1443.5,1816.9 L1445.5,1817.0 L1447.5,1817.2 L1449.5,1817.3 L1451.5,1817.5 L1453.5,1817.6 L1455.5,1817.8 L1457.5,1817.9 L1459.5,1818.1 L1461.4,1818.3 L1463.4,1818.4 L1465.4,1818.6 L1467.4,1818.8 L1469.4,1818.9 L1471.3,1819.1 L1473.3,1819.3 L1475.3,1819.5 L1477.3,1819.7 L1479.3,1819.8 L1481.3,1820.0 L1483.3,1820.2 L1485.3,1820.4 L1487.3,1820.6 L1489.3,1820.7 L1491.3,1820.9 L1493.3,1821.1 L1495.3,1821.3 L1497.3,1821.4 L1499.3,1821.6 L1501.3,1821.8 L1503.3,1821.9 L1505.3,1822.1 L1507.3,1822.3 L1509.3,1822.4 L1511.3,1822.6 L1513.3,1822.8 L1515.3,1822.9 L1517.3,1823.1 L1519.3,1823.2 L1521.3,1823.4 L1523.3,1823.5 L1525.3,1823.7 L1527.3,1823.8 L1529.3,1824.0 L1531.3,1824.1 L1533.3,1824.3 L1535.3,1824.4 L1537.3,1824.5 L1539.3,1824.7 L1541.3,1824.8 L1543.4,1824.9 L1545.4,1825.1 L1547.4,1825.2 L1549.4,1825.3 L1551.4,1825.4 L1553.4,1825.5 L1555.4,1825.6 L1557.4,1825.7 L1559.4,1825.8 L1561.5,1825.9 L1563.5,1826.0 L1565.5,1826.1 L1567.5,1826.2 L1569.5,1826.3 L1571.5,1826.4 L1573.5,1826.5 L1575.5,1826.6 L1577.5,1826.7 L1579.5,1826.7 L1581.5,1826.8 L1583.5,1826.9 L1585.5,1827.0 L1587.5,1827.1 L1589.5,1827.2 L1591.5,1827.3 L1593.5,1827.3 L1595.5,1827.4 L1597.5,1827.5 L1599.5,1827.6 L1601.5,1827.7 L1603.5,1827.7 L1605.5,1827.8 L1607.5,1827.9 L1609.5,1828.0 L1611.5,1828.1 L1613.5,1828.2 L1615.4,1828.2 L1617.4,1828.3 L1619.4,1828.4 L1621.4,1828.5 L1623.4,1828.6 L1625.5,1828.7 L1627.5,1828.8 L1629.5,1828.8 L1631.5,1828.9 L1633.5,1829.0 L1635.5,1829.1 L1637.5,1829.1 L1639.5,1829.2 L1641.5,1829.3 L1643.5,1829.3 L1645.5,1829.4 L1647.6,1829.4 L1649.6,1829.5 L1651.6,1829.6 L1653.6,1829.6 L1655.6,1829.7 L1657.6,1829.7 L1659.6,1829.8 L1661.6,1829.8 L1663.6,1829.9 L1665.6,1829.9 L1667.6,1829.9 L1669.6,1830.0 L1671.6,1830.0 L1673.6,1830.1 L1675.6,1830.1 L1677.6,1830.1 L1679.6,1830.2 L1681.7,1830.2 L1683.7,1830.2 L1685.7,1830.3 L1687.7,1830.3 L1689.7,1830.3 L1691.7,1830.4 L1693.7,1830.4 L1695.6,1830.4 L1697.5,1830.4 L1699.2,1830.5 L1700.6,1830.5 L1703.0,1830.5" fill="none" stroke="#000" stroke-width="18" stroke-dasharray="2 28.7" stroke-dashoffset="-23.4" clip-path="url(#c4)"/>
<use href="#m0" fill="none" stroke="#ff0000" stroke-width="8" stroke-linejoin="round" clip-path="url(#c0)"/>
<use href="#m0" fill="none" stroke="#ff0000" stroke-width="4" clip-path="url(#c0)"/>
<use href="#m1" fill="none" stroke="#ff0000" stroke-width="8" stroke-linejoin="round" clip-path="url(#c1)"/>
<use href="#m1" fill="none" stroke="#ff0000" stroke-width="4" clip-path="url(#c1)"/>
<use href="#m2" fill="none" stroke="#ff0000" stroke-width="8" stroke-linejoin="round" clip-path="url(#c2)"/>
<use href="#m2" fill="none" stroke="#ff0000" stroke-width="4" clip-path="url(#c2)"/>
<use href="#m3" fill="none" stroke="#ff0000" stroke-width="8" stroke-linejoin="round" clip-path="url(#c3)"/>
<use href="#m3" fill="none" stroke="#ff0000" stroke-width="4" clip-path="url(#c3)"/>
<path d="M249.0,2100.5 L251.8,2100.5 L253.3,2100.5 L255.1,2100.5 L257.0,2100.5 L259.0,2100.5 L261.0,2100.5 L263.0,2100.5 L265.0,2100.5 L267.0,2100.5 L269.0,2100.5 L271.0,2100.5 L273.0,2100.5 L275.0,2100.5 L277.0,2100.5 L279.0,2100.5 L281.0,2100.5 L283.0,2100.5 L285.0,2100.5 L287.0,2100.5 L289.0,2100.5 L291.0,2100.5 L293.0,2100.5 L295.0,2100.5 L297.0,2100.5 L299.0,2100.5 L301.0,2100.5 L303.0,2100.5 L305.0,2100.5 L307.0,2100.5 L309.0,2100.5 L311.0,2100.5 L313.0,2100.5 L315.0,2100.5 L317.0,2100.5 L319.0,2100.5 L321.0,2100.5 L323.0,2100.5 L325.0,2100.5 L327.0,2100.5 L329.0,2100.5 L331.0,2100.5 L333.0,2100.5 L335.0,2100.5 L337.0,2100.5 L339.0,2100.5 L341.0,2100.5 L343.0,2100.5 L345.0,2100.5 L347.0,2100.5 L349.0,2100.5 L351.0,2100.5 L353.0,2100.5 L355.0,2100.5 L357.0,2100.5 L359.0,2100.5 L361.0,2100.5 L363.0,2100.5 L365.0,2100.5 L367.0,2100.5 L369.0,2100.5 L371.0,2100.5 L373.0,2100.5 L375.0,2100.5 L377.0,2100.5 L379.0,2100.5 L381.0,2100.5 L383.0,2100.5 L385.0,2100.5 L387.0,2100.5 L389.0,2100.5 L391.0,2100.5 L393.0,2100.5 L395.0,2100.5 L397.0,2100.5 L399.0,2100.5 L401.0,2100.5 L403.0,2100.5 L405.0,2100.5 L407.0,2100.5 L409.0,2100.5 L411.0,2100.5 L413.0,2100.5 L415.0,2100.5 L417.0,2100.5 L419.0,2100.5 L421.0,2100.5 L423.0,2100.5 L425.0,2100.5 L427.0,2100.5 L429.0,2100.5 L431.0,2100.5 L433.0,2100.4 L435.0,2100.3 L436.9,2100.0 L438.8,2099.6 L440.7,2099.0 L442.5,2098.2 L444.1,2097.2 L445.7,2096.0 L447.1,2094.7 L448.3,2093.2 L449.5,2091.5 L450.5,2089.8 L451.4,2088.1 L452.3,2086.3 L453.2,2084.5 L454.0,2082.7 L454.8,2080.9 L455.6,2079.0 L456.3,2077.2 L457.0,2075.3 L457.7,2073.4 L458.4,2071.5 L459.0,2069.6 L459.6,2067.7 L460.2,2065.8 L460.8,2063.9 L461.4,2062.0 L462.0,2060.1 L462.6,2058.2 L463.1,2056.2 L463.6,2054.3 L464.2,2052.4 L464.7,2050.5 L465.2,2048.5 L465.7,2046.6 L466.2,2044.6 L466.7,2042.7 L467.2,2040.8 L467.7,2038.8 L468.2,2036.9 L468.6,2035.0 L469.1,2033.0 L469.6,2031.1 L470.1,2029.1 L470.5,2027.2 L471.0,2025.2 L471.4,2023.3 L471.9,2021.3 L472.3,2019.4 L472.8,2017.4 L473.2,2015.5 L473.6,2013.5 L474.1,2011.6 L474.5,2009.6 L474.9,2007.7 L475.4,2005.7 L475.8,2003.8 L476.2,2001.8 L476.7,1999.9 L477.1,1997.9 L477.5,1995.9 L477.9,1994.0 L478.3,1992.0 L478.7,1990.1 L479.1,1988.1 L479.5,1986.2 L480.0,1984.2 L480.4,1982.2 L480.8,1980.3 L481.2,1978.3 L481.6,1976.4 L482.0,1974.4 L482.4,1972.5 L482.9,1970.5 L483.3,1968.5 L483.7,1966.6 L484.1,1964.6 L484.5,1962.7 L484.9,1960.7 L485.3,1958.8 L485.7,1956.8 L486.2,1954.8 L486.6,1952.9 L487.0,1950.9 L487.4,1949.0 L487.8,1947.0 L488.3,1945.1 L488.7,1943.1 L489.2,1941.2 L489.6,1939.2 L490.1,1937.3 L490.5,1935.3 L491.0,1933.4 L491.5,1931.4 L492.0,1929.5 L492.4,1927.6 L492.9,1925.6 L493.4,1923.7 L493.9,1921.8 L494.4,1919.8 L494.9,1917.9 L495.4,1915.9 L495.9,1914.0 L496.4,1912.1 L496.9,1910.1 L497.4,1908.2 L497.9,1906.2 L498.3,1904.3 L498.8,1902.4 L499.3,1900.4 L499.8,1898.5 L500.2,1896.5 L500.7,1894.6 L501.2,1892.6 L501.7,1890.7 L502.2,1888.8 L502.6,1886.8 L503.1,1884.9 L503.6,1882.9 L504.1,1881.0 L504.6,1879.1 L505.1,1877.1 L505.6,1875.2 L506.1,1873.3 L506.6,1871.3 L507.1,1869.4 L507.6,1867.5 L508.2,1865.5 L508.7,1863.6 L509.2,1861.7 L509.8,1859.7 L510.4,1857.8 L511.0,1855.9 L511.6,1854.0 L512.2,1852.1 L512.8,1850.2 L513.5,1848.3 L514.2,1846.5 L514.8,1844.6 L515.6,1842.7 L516.3,1840.8 L517.0,1839.0 L517.8,1837.1 L518.6,1835.3 L519.5,1833.5 L520.4,1831.7 L521.3,1830.0 L522.3,1828.3 L523.4,1826.5 L524.4,1824.9 L525.5,1823.2 L526.7,1821.6 L527.9,1820.0 L529.2,1818.5 L530.6,1817.1 L532.1,1815.7 L533.6,1814.5 L535.3,1813.4 L537.0,1812.3 L538.7,1811.4 L540.5,1810.6 L542.3,1809.9 L544.2,1809.3 L546.1,1809.0 L548.1,1808.8 L550.1,1808.9 L552.0,1809.1 L554.0,1809.4 L555.9,1809.8 L557.8,1810.4 L559.7,1811.0 L561.6,1811.7 L563.4,1812.6 L565.1,1813.5 L566.9,1814.5 L568.6,1815.5 L570.2,1816.6 L571.9,1817.7 L573.6,1818.8 L575.2,1819.9 L576.9,1821.1 L578.5,1822.2 L580.2,1823.3 L581.8,1824.5 L583.4,1825.7 L585.1,1826.8 L586.7,1828.0 L588.4,1829.1 L590.0,1830.2 L591.7,1831.3 L593.4,1832.3 L595.1,1833.4 L596.8,1834.4 L598.6,1835.4 L600.3,1836.3 L602.1,1837.3 L603.8,1838.2 L605.6,1839.2 L607.4,1840.1 L609.2,1840.9 L611.0,1841.8 L612.8,1842.6 L614.7,1843.4 L616.5,1844.1 L618.4,1844.8 L620.3,1845.5 L622.2,1846.2 L624.1,1846.8 L626.0,1847.4 L627.9,1848.0 L629.8,1848.6 L631.7,1849.1 L633.6,1849.6 L635.6,1850.1 L637.5,1850.6 L639.5,1851.0 L641.5,1851.3 L643.4,1851.7 L645.4,1852.0 L647.4,1852.3 L649.4,1852.5 L651.3,1852.8 L653.3,1852.9 L655.3,1853.0 L657.3,1853.1 L659.3,1853.1 L661.3,1853.1 L663.3,1853.0 L665.3,1852.9 L667.3,1852.8 L669.3,1852.7 L671.3,1852.6 L673.3,1852.4 L675.3,1852.2 L677.3,1852.1 L679.3,1851.9 L681.3,1851.6 L683.2,1851.4 L685.2,1851.1 L687.2,1850.7 L689.1,1850.4 L691.1,1849.9 L693.1,1849.5 L695.0,1849.1 L697.0,1848.6 L698.9,1848.1 L700.8,1847.6 L702.8,1847.1 L704.7,1846.6 L706.6,1846.0 L708.5,1845.5 L710.4,1844.8 L712.3,1844.2 L714.2,1843.5 L716.1,1842.9 L718.0,1842.2 L719.8,1841.5 L721.7,1840.7 L723.6,1840.0 L725.4,1839.3 L727.3,1838.5 L729.1,1837.8 L731.0,1837.0 L732.8,1836.2 L734.6,1835.4 L736.5,1834.6 L738.3,1833.8 L740.1,1833.0 L741.9,1832.1 L743.7,1831.3 L745.6,1830.4 L747.4,1829.6 L749.2,1828.7 L751.0,1827.9 L752.8,1827.0 L754.6,1826.1 L756.4,1825.3 L758.2,1824.4 L760.0,1823.5 L761.8,1822.6 L763.6,1821.7 L765.4,1820.8 L767.1,1819.9 L768.9,1819.0 L770.7,1818.1 L772.5,1817.2 L774.2,1816.2 L776.0,1815.3 L777.7,1814.3 L779.5,1813.3 L781.2,1812.4 L783.0,1811.3 L784.7,1810.3 L786.4,1809.3 L788.1,1808.3 L789.8,1807.2 L791.5,1806.2 L793.2,1805.2 L794.9,1804.1 L796.7,1803.1 L798.4,1802.1 L800.1,1801.0 L801.8,1800.0 L803.5,1799.0 L805.3,1798.0 L807.0,1797.0 L808.7,1796.0 L810.5,1795.1 L812.2,1794.1 L814.0,1793.1 L815.8,1792.2 L817.5,1791.2 L819.3,1790.3 L821.0,1789.3 L822.8,1788.4 L824.6,1787.5 L826.3,1786.5 L828.1,1785.6 L829.9,1784.7 L831.7,1783.8 L833.5,1782.9 L835.3,1782.0 L837.1,1781.1 L838.9,1780.3 L840.7,1779.4 L842.5,1778.5 L844.3,1777.7 L846.1,1776.8 L847.9,1776.0 L849.7,1775.1 L851.5,1774.3 L853.4,1773.5 L855.2,1772.7 L857.0,1771.9 L858.9,1771.1 L860.7,1770.3 L862.5,1769.5 L864.4,1768.8 L866.3,1768.0 L868.1,1767.3 L870.0,1766.6 L871.8,1765.9 L873.7,1765.2 L875.6,1764.5 L877.5,1763.8 L879.4,1763.1 L881.2,1762.5 L883.1,1761.8 L885.0,1761.2 L886.9,1760.6 L888.8,1759.9 L890.7,1759.3 L892.7,1758.8 L894.6,1758.2 L896.5,1757.6 L898.4,1757.1 L900.3,1756.5 L902.3,1756.0 L904.2,1755.5 L906.1,1755.0 L908.1,1754.5 L910.0,1754.0 L912.0,1753.5 L913.9,1753.1 L915.9,1752.6 L917.8,1752.2 L919.8,1751.8 L921.7,1751.4 L923.7,1751.0 L925.7,1750.7 L927.6,1750.3 L929.6,1750.0 L931.6,1749.6 L933.5,1749.3 L935.5,1749.0 L937.5,1748.7 L939.5,1748.4 L941.5,1748.1 L943.4,1747.9 L945.4,1747.6 L947.4,1747.4 L949.4,1747.2 L951.4,1746.9 L953.4,1746.7 L955.4,1746.5 L957.4,1746.3 L959.3,1746.2 L961.3,1746.0 L963.3,1745.8 L965.3,1745.6 L967.3,1745.5 L969.3,1745.3 L971.3,1745.2 L973.3,1745.1 L975.3,1745.0 L977.3,1744.9 L979.3,1744.8 L981.3,1744.7 L983.3,1744.7 L985.3,1744.6 L987.3,1744.5 L989.3,1744.5 L991.3,1744.4 L993.3,1744.4 L995.3,1744.3 L997.3,1744.3 L999.3,1744.3 L1001.3,1744.3 L1003.3,1744.2 L1005.3,1744.2 L1007.3,1744.2 L1009.3,1744.2 L1011.3,1744.3 L1013.3,1744.3 L1015.3,1744.4 L1017.3,1744.4 L1019.3,1744.5 L1021.3,1744.6 L1023.3,1744.7 L1025.3,1744.9 L1027.3,1745.0 L1029.3,1745.1 L1031.3,1745.3 L1033.3,1745.4 L1035.2,1745.6 L1037.2,1745.7 L1039.2,1745.9 L1041.2,1746.1 L1043.2,1746.3 L1045.2,1746.5 L1047.2,1746.8 L1049.2,1747.1 L1051.1,1747.3 L1053.1,1747.6 L1055.1,1747.9 L1057.1,1748.2 L1059.1,1748.5 L1061.0,1748.8 L1063.0,1749.1 L1065.0,1749.4 L1067.0,1749.7 L1068.9,1750.0 L1070.9,1750.3 L1072.9,1750.6 L1074.9,1751.0 L1076.8,1751.3 L1078.8,1751.6 L1080.8,1752.0 L1082.7,1752.3 L1084.7,1752.7 L1086.7,1753.0 L1088.7,1753.4 L1090.6,1753.7 L1092.6,1754.0 L1094.6,1754.4 L1096.5,1754.7 L1098.5,1755.1 L1100.5,1755.4 L1102.4,1755.8 L1104.4,1756.2 L1106.4,1756.5 L1108.3,1756.9 L1110.3,1757.2 L1112.3,1757.6 L1114.2,1758.0 L1116.2,1758.3 L1118.2,1758.7 L1120.1,1759.1 L1122.1,1759.4 L1124.1,1759.8 L1126.0,1760.2 L1128.0,1760.6 L1130.0,1761.0 L1131.9,1761.4 L1133.9,1761.7 L1135.8,1762.1 L1137.8,1762.5 L1139.8,1762.9 L1141.7,1763.3 L1143.7,1763.7 L1145.6,1764.1 L1147.6,1764.5 L1149.6,1765.0 L1151.5,1765.4 L1153.5,1765.8 L1155.4,1766.2 L1157.4,1766.7 L1159.3,1767.1 L1161.3,1767.5 L1163.2,1768.0 L1165.2,1768.4 L1167.1,1768.8 L1169.1,1769.3 L1171.0,1769.7 L1173.0,1770.1 L1175.0,1770.5 L1176.9,1770.9 L1178.9,1771.3 L1180.8,1771.7 L1182.8,1772.1 L1184.8,1772.4 L1186.7,1772.8 L1188.7,1773.1 L1190.7,1773.5 L1192.6,1773.8 L1194.6,1774.2 L1196.6,1774.5 L1198.6,1774.9 L1200.5,1775.2 L1202.5,1775.6 L1204.5,1775.9 L1206.4,1776.3 L1208.4,1776.6 L1210.4,1777.0 L1212.3,1777.3 L1214.3,1777.6 L1216.3,1778.0 L1218.3,1778.3 L1220.2,1778.7 L1222.2,1779.0 L1224.2,1779.4 L1226.1,1779.7 L1228.1,1780.0 L1230.1,1780.4 L1232.1,1780.7 L1234.0,1781.0 L1236.0,1781.3 L1238.0,1781.6 L1240.0,1781.9 L1241.9,1782.2 L1243.9,1782.5 L1245.9,1782.8 L1247.9,1783.0 L1249.9,1783.3 L1251.8,1783.6 L1253.8,1783.9 L1255.8,1784.1 L1257.8,1784.4 L1259.8,1784.7 L1261.7,1785.0 L1263.7,1785.3 L1265.7,1785.6 L1267.7,1785.9 L1269.6,1786.2 L1271.6,1786.5 L1273.6,1786.9 L1275.6,1787.2 L1277.6,1787.5 L1279.5,1787.8 L1281.5,1788.1 L1283.5,1788.3 L1285.5,1788.6 L1287.4,1788.9 L1289.4,1789.2 L1291.4,1789.4 L1293.4,1789.7 L1295.4,1789.9 L1297.4,1790.1 L1299.4,1790.4 L1301.3,1790.6 L1303.3,1790.8 L1305.3,1791.0 L1307.3,1791.3 L1309.3,1791.5 L1311.3,1791.7 L1313.3,1792.0 L1315.2,1792.3 L1317.2,1792.5 L1319.2,1792.8 L1320.2,1793.0" fill="none" stroke="#ff0000" stroke-width="8" stroke-linejoin="round" clip-path="url(#c4)"/>
<path d="M249.0,2100.5 L251.8,2100.5 L253.3,2100.5 L255.1,2100.5 L257.0,2100.5 L259.0,2100.5 L261.0,2100.5 L263.0,2100.5 L265.0,2100.5 L267.0,2100.5 L269.0,2100.5 L271.0,2100.5 L273.0,2100.5 L275.0,2100.5 L277.0,2100.5 L279.0,2100.5 L281.0,2100.5 L283.0,2100.5 L285.0,2100.5 L287.0,2100.5 L289.0,2100.5 L291.0,2100.5 L293.0,2100.5 L295.0,2100.5 L297.0,2100.5 L299.0,2100.5 L301.0,2100.5 L303.0,2100.5 L305.0,2100.5 L307.0,2100.5 L309.0,2100.5 L311.0,2100.5 L313.0,2100.5 L315.0,2100.5 L317.0,2100.5 L319.0,2100.5 L321.0,2100.5 L323.0,2100.5 L325.0,2100.5 L327.0,2100.5 L329.0,2100.5 L331.0,2100.5 L333.0,2100.5 L335.0,2100.5 L337.0,2100.5 L339.0,2100.5 L341.0,2100.5 L343.0,2100.5 L345.0,2100.5 L347.0,2100.5 L349.0,2100.5 L351.0,2100.5 L353.0,2100.5 L355.0,2100.5 L357.0,2100.5 L359.0,2100.5 L361.0,2100.5 L363.0,2100.5 L365.0,2100.5 L367.0,2100.5 L369.0,2100.5 L371.0,2100.5 L373.0,2100.5 L375.0,2100.5 L377.0,2100.5 L379.0,2100.5 L381.0,2100.5 L383.0,2100.5 L385.0,2100.5 L387.0,2100.5 L389.0,2100.5 L391.0,2100.5 L393.0,2100.5 L395.0,2100.5 L397.0,2100.5 L399.0,2100.5 L401.0,2100.5 L403.0,2100.5 L405.0,2100.5 L407.0,2100.5 L409.0,2100.5 L411.0,2100.5 L413.0,2100.5 L415.0,2100.5 L417.0,2100.5 L419.0,2100.5 L421.0,2100.5 L423.0,2100.5 L425.0,2100.5 L427.0,2100.5 L429.0,2100.5 L431.0,2100.5 L433.0,2100.4 L435.0,2100.3 L436.9,2100.0 L438.8,2099.6 L440.7,2099.0 L442.5,2098.2 L444.1,2097.2 L445.7,2096.0 L447.1,2094.7 L448.3,2093.2 L449.5,2091.5 L450.5,2089.8 L451.4,2088.1 L452.3,2086.3 L453.2,2084.5 L454.0,2082.7 L454.8,2080.9 L455.6,2079.0 L456.3,2077.2 L457.0,2075.3 L457.7,2073.4 L458.4,2071.5 L459.0,2069.6 L459.6,2067.7 L460.2,2065.8 L460.8,2063.9 L461.4,2062.0 L462.0,2060.1 L462.6,2058.2 L463.1,2056.2 L463.6,2054.3 L464.2,2052.4 L464.7,2050.5 L465.2,2048.5 L465.7,2046.6 L466.2,2044.6 L466.7,2042.7 L467.2,2040.8 L467.7,2038.8 L468.2,2036.9 L468.6,2035.0 L469.1,2033.0 L469.6,2031.1 L470.1,2029.1 L470.5,2027.2 L471.0,2025.2 L471.4,2023.3 L471.9,2021.3 L472.3,2019.4 L472.8,2017.4 L473.2,2015.5 L473.6,2013.5 L474.1,2011.6 L474.5,2009.6 L474.9,2007.7 L475.4,2005.7 L475.8,2003.8 L476.2,2001.8 L476.7,1999.9 L477.1,1997.9 L477.5,1995.9 L477.9,1994.0 L478.3,1992.0 L478.7,1990.1 L479.1,1988.1 L479.5,1986.2 L480.0,1984.2 L480.4,1982.2 L480.8,1980.3 L481.2,1978.3 L481.6,1976.4 L482.0,1974.4 L482.4,1972.5 L482.9,1970.5 L483.3,1968.5 L483.7,1966.6 L484.1,1964.6 L484.5,1962.7 L484.9,1960.7 L485.3,1958.8 L485.7,1956.8 L486.2,1954.8 L486.6,1952.9 L487.0,1950.9 L487.4,1949.0 L487.8,1947.0 L488.3,1945.1 L488.7,1943.1 L489.2,1941.2 L489.6,1939.2 L490.1,1937.3 L490.5,1935.3 L491.0,1933.4 L491.5,1931.4 L492.0,1929.5 L492.4,1927.6 L492.9,1925.6 L493.4,1923.7 L493.9,1921.8 L494.4,1919.8 L494.9,1917.9 L495.4,1915.9 L495.9,1914.0 L496.4,1912.1 L496.9,1910.1 L497.4,1908.2 L497.9,1906.2 L498.3,1904.3 L498.8,1902.4 L499.3,1900.4 L499.8,1898.5 L500.2,1896.5 L500.7,1894.6 L501.2,1892.6 L501.7,1890.7 L502.2,1888.8 L502.6,1886.8 L503.1,1884.9 L503.6,1882.9 L504.1,1881.0 L504.6,1879.1 L505.1,1877.1 L505.6,1875.2 L506.1,1873.3 L506.6,1871.3 L507.1,1869.4 L507.6,1867.5 L508.2,1865.5 L508.7,1863.6 L509.2,1861.7 L509.8,1859.7 L510.4,1857.8 L511.0,1855.9 L511.6,1854.0 L512.2,1852.1 L512.8,1850.2 L513.5,1848.3 L514.2,1846.5 L514.8,1844.6 L515.6,1842.7 L516.3,1840.8 L517.0,1839.0 L517.8,1837.1 L518.6,1835.3 L519.5,1833.5 L520.4,1831.7 L521.3,1830.0 L522.3,1828.3 L523.4,1826.5 L524.4,1824.9 L525.5,1823.2 L526.7,1821.6 L527.9,1820.0 L529.2,1818.5 L530.6,1817.1 L532.1,1815.7 L533.6,1814.5 L535.3,1813.4 L537.0,1812.3 L538.7,1811.4 L540.5,1810.6 L542.3,1809.9 L544.2,1809.3 L546.1,1809.0 L548.1,1808.8 L550.1,1808.9 L552.0,1809.1 L554.0,1809.4 L555.9,1809.8 L557.8,1810.4 L559.7,1811.0 L561.6,1811.7 L563.4,1812.6 L565.1,1813.5 L566.9,1814.5 L568.6,1815.5 L570.2,1816.6 L571.9,1817.7 L573.6,1818.8 L575.2,1819.9 L576.9,1821.1 L578.5,1822.2 L580.2,1823.3 L581.8,1824.5 L583.4,1825.7 L585.1,1826.8 L586.7,1828.0 L588.4,1829.1 L590.0,1830.2 L591.7,1831.3 L593.4,1832.3 L595.1,1833.4 L596.8,1834.4 L598.6,1835.4 L600.3,1836.3 L602.1,1837.3 L603.8,1838.2 L605.6,1839.2 L607.4,1840.1 L609.2,1840.9 L611.0,1841.8 L612.8,1842.6 L614.7,1843.4 L616.5,1844.1 L618.4,1844.8 L620.3,1845.5 L622.2,1846.2 L624.1,1846.8 L626.0,1847.4 L627.9,1848.0 L629.8,1848.6 L631.7,1849.1 L633.6,1849.6 L635.6,1850.1 L637.5,1850.6 L639.5,1851.0 L641.5,1851.3 L643.4,1851.7 L645.4,1852.0 L647.4,1852.3 L649.4,1852.5 L651.3,1852.8 L653.3,1852.9 L655.3,1853.0 L657.3,1853.1 L659.3,1853.1 L661.3,1853.1 L663.3,1853.0 L665.3,1852.9 L667.3,1852.8 L669.3,1852.7 L671.3,1852.6 L673.3,1852.4 L675.3,1852.2 L677.3,1852.1 L679.3,1851.9 L681.3,1851.6 L683.2,1851.4 L685.2,1851.1 L687.2,1850.7 L689.1,1850.4 L691.1,1849.9 L693.1,1849.5 L695.0,1849.1 L697.0,1848.6 L698.9,1848.1 L700.8,1847.6 L702.8,1847.1 L704.7,1846.6 L706.6,1846.0 L708.5,1845.5 L710.4,1844.8 L712.3,1844.2 L714.2,1843.5 L716.1,1842.9 L718.0,1842.2 L719.8,1841.5 L721.7,1840.7 L723.6,1840.0 L725.4,1839.3 L727.3,1838.5 L729.1,1837.8 L731.0,1837.0 L732.8,1836.2 L734.6,1835.4 L736.5,1834.6 L738.3,1833.8 L740.1,1833.0 L741.9,1832.1 L743.7,1831.3 L745.6,1830.4 L747.4,1829.6 L749.2,1828.7 L751.0,1827.9 L752.8,1827.0 L754.6,1826.1 L756.4,1825.3 L758.2,1824.4 L760.0,1823.5 L761.8,1822.6 L763.6,1821.7 L765.4,1820.8 L767.1,1819.9 L768.9,1819.0 L770.7,1818.1 L772.5,1817.2 L774.2,1816.2 L776.0,1815.3 L777.7,1814.3 L779.5,1813.3 L781.2,1812.4 L783.0,1811.3 L784.7,1810.3 L786.4,1809.3 L788.1,1808.3 L789.8,1807.2 L791.5,1806.2 L793.2,1805.2 L794.9,1804.1 L796.7,1803.1 L798.4,1802.1 L800.1,1801.0 L801.8,1800.0 L803.5,1799.0 L805.3,1798.0 L807.0,1797.0 L808.7,1796.0 L810.5,1795.1 L812.2,1794.1 L814.0,1793.1 L815.8,1792.2 L817.5,1791.2 L819.3,1790.3 L821.0,1789.3 L822.8,1788.4 L824.6,1787.5 L826.3,1786.5 L828.1,1785.6 L829.9,1784.7 L831.7,1783.8 L833.5,1782.9 L835.3,1782.0 L837.1,1781.1 L838.9,1780.3 L840.7,1779.4 L842.5,1778.5 L844.3,1777.7 L846.1,1776.8 L847.9,1776.0 L849.7,1775.1 L851.5,1774.3 L853.4,1773.5 L855.2,1772.7 L857.0,1771.9 L858.9,1771.1 L860.7,1770.3 L862.5,1769.5 L864.4,1768.8 L866.3,1768.0 L868.1,1767.3 L870.0,1766.6 L871.8,1765.9 L873.7,1765.2 L875.6,1764.5 L877.5,1763.8 L879.4,1763.1 L881.2,1762.5 L883.1,1761.8 L885.0,1761.2 L886.9,1760.6 L888.8,1759.9 L890.7,1759.3 L892.7,1758.8 L894.6,1758.2 L896.5,1757.6 L898.4,1757.1 L900.3,1756.5 L902.3,1756.0 L904.2,1755.5 L906.1,1755.0 L908.1,1754.5 L910.0,1754.0 L912.0,1753.5 L913.9,1753.1 L915.9,1752.6 L917.8,1752.2 L919.8,1751.8 L921.7,1751.4 L923.7,1751.0 L925.7,1750.7 L927.6,1750.3 L929.6,1750.0 L931.6,1749.6 L933.5,1749.3 L935.5,1749.0 L937.5,1748.7 L939.5,1748.4 L941.5,1748.1 L943.4,1747.9 L945.4,1747.6 L947.4,1747.4 L949.4,1747.2 L951.4,1746.9 L953.4,1746.7 L955.4,1746.5 L957.4,1746.3 L959.3,1746.2 L961.3,1746.0 L963.3,1745.8 L965.3,1745.6 L967.3,1745.5 L969.3,1745.3 L971.3,1745.2 L973.3,1745.1 L975.3,1745.0 L977.3,1744.9 L979.3,1744.8 L981.3,1744.7 L983.3,1744.7 L985.3,1744.6 L987.3,1744.5 L989.3,1744.5 L991.3,1744.4 L993.3,1744.4 L995.3,1744.3 L997.3,1744.3 L999.3,1744.3 L1001.3,1744.3 L1003.3,1744.2 L1005.3,1744.2 L1007.3,1744.2 L1009.3,1744.2 L1011.3,1744.3 L1013.3,1744.3 L1015.3,1744.4 L1017.3,1744.4 L1019.3,1744.5 L1021.3,1744.6 L1023.3,1744.7 L1025.3,1744.9 L1027.3,1745.0 L1029.3,1745.1 L1031.3,1745.3 L1033.3,1745.4 L1035.2,1745.6 L1037.2,1745.7 L1039.2,1745.9 L1041.2,1746.1 L1043.2,1746.3 L1045.2,1746.5 L1047.2,1746.8 L1049.2,1747.1 L1051.1,1747.3 L1053.1,1747.6 L1055.1,1747.9 L1057.1,1748.2 L1059.1,1748.5 L1061.0,1748.8 L1063.0,1749.1 L1065.0,1749.4 L1067.0,1749.7 L1068.9,1750.0 L1070.9,1750.3 L1072.9,1750.6 L1074.9,1751.0 L1076.8,1751.3 L1078.8,1751.6 L1080.8,1752.0 L1082.7,1752.3 L1084.7,1752.7 L1086.7,1753.0 L1088.7,1753.4 L1090.6,1753.7 L1092.6,1754.0 L1094.6,1754.4 L1096.5,1754.7 L1098.5,1755.1 L1100.5,1755.4 L1102.4,1755.8 L1104.4,1756.2 L1106.4,1756.5 L1108.3,1756.9 L1110.3,1757.2 L1112.3,1757.6 L1114.2,1758.0 L1116.2,1758.3 L1118.2,1758.7 L1120.1,1759.1 L1122.1,1759.4 L1124.1,1759.8 L1126.0,1760.2 L1128.0,1760.6 L1130.0,1761.0 L1131.9,1761.4 L1133.9,1761.7 L1135.8,1762.1 L1137.8,1762.5 L1139.8,1762.9 L1141.7,1763.3 L1143.7,1763.7 L1145.6,1764.1 L1147.6,1764.5 L1149.6,1765.0 L1151.5,1765.4 L1153.5,1765.8 L1155.4,1766.2 L1157.4,1766.7 L1159.3,1767.1 L1161.3,1767.5 L1163.2,1768.0 L1165.2,1768.4 L1167.1,1768.8 L1169.1,1769.3 L1171.0,1769.7 L1173.0,1770.1 L1175.0,1770.5 L1176.9,1770.9 L1178.9,1771.3 L1180.8,1771.7 L1182.8,1772.1 L1184.8,1772.4 L1186.7,1772.8 L1188.7,1773.1 L1190.7,1773.5 L1192.6,1773.8 L1194.6,1774.2 L1196.6,1774.5 L1198.6,1774.9 L1200.5,1775.2 L1202.5,1775.6 L1204.5,1775.9 L1206.4,1776.3 L1208.4,1776.6 L1210.4,1777.0 L1212.3,1777.3 L1214.3,1777.6 L1216.3,1778.0 L1218.3,1778.3 L1220.2,1778.7 L1222.2,1779.0 L1224.2,1779.4 L1226.1,1779.7 L1228.1,1780.0 L1230.1,1780.4 L1232.1,1780.7 L1234.0,1781.0 L1236.0,1781.3 L1238.0,1781.6 L1240.0,1781.9 L1241.9,1782.2 L1243.9,1782.5 L1245.9,1782.8 L1247.9,1783.0 L1249.9,1783.3 L1251.8,1783.6 L1253.8,1783.9 L1255.8,1784.1 L1257.8,1784.4 L1259.8,1784.7 L1261.7,1785.0 L1263.7,1785.3 L1265.7,1785.6 L1267.7,1785.9 L1269.6,1786.2 L1271.6,1786.5 L1273.6,1786.9 L1275.6,1787.2 L1277.6,1787.5 L1279.5,1787.8 L1281.5,1788.1 L1283.5,1788.3 L1285.5,1788.6 L1287.4,1788.9 L1289.4,1789.2 L1291.4,1789.4 L1293.4,1789.7 L1295.4,1789.9 L1297.4,1790.1 L1299.4,1790.4 L1301.3,1790.6 L1303.3,1790.8 L1305.3,1791.0 L1307.3,1791.3 L1309.3,1791.5 L1311.3,1791.7 L1313.3,1792.0 L1315.2,1792.3 L1317.2,1792.5 L1319.2,1792.8 L1320.2,1793.0" fill="none" stroke="#ff0000" stroke-width="4" clip-path="url(#c4)"/>
<path d="M1322.2,1793.3 L1324.1,1793.6 L1326.1,1793.9 L1328.1,1794.3 L1330.1,1794.6 L1332.0,1795.0 L1334.0,1795.3 L1336.0,1795.7 L1337.9,1796.0 L1339.9,1796.4 L1341.9,1796.7 L1343.8,1797.0 L1345.8,1797.3 L1347.8,1797.6 L1349.8,1797.9 L1351.8,1798.2 L1353.7,1798.5 L1355.7,1798.7 L1357.7,1799.0 L1359.7,1799.3 L1361.7,1799.5 L1363.7,1799.8 L1365.6,1800.0 L1367.6,1800.3 L1369.6,1800.5 L1371.6,1800.8 L1373.6,1801.0 L1375.6,1801.2 L1377.6,1801.4 L1379.5,1801.7 L1381.5,1801.9 L1383.5,1802.1 L1385.5,1802.3 L1387.5,1802.5 L1389.5,1802.7 L1391.5,1802.9 L1393.5,1803.1 L1395.5,1803.2 L1397.5,1803.4 L1399.4,1803.6 L1401.4,1803.8 L1403.4,1804.0 L1405.4,1804.2 L1407.4,1804.4 L1409.4,1804.6 L1411.4,1804.8 L1413.4,1805.0 L1415.4,1805.2 L1417.4,1805.4 L1419.3,1805.6 L1421.3,1805.8 L1423.3,1806.0 L1425.3,1806.2 L1427.3,1806.4 L1429.3,1806.6 L1431.3,1806.8 L1433.3,1807.0 L1435.3,1807.2 L1437.3,1807.3 L1439.3,1807.5 L1441.3,1807.6 L1443.2,1807.8 L1445.2,1808.0 L1447.2,1808.1 L1449.2,1808.3 L1451.2,1808.4 L1453.2,1808.6 L1455.2,1808.7 L1457.2,1808.9 L1459.2,1809.0 L1461.2,1809.2 L1463.2,1809.4 L1465.2,1809.5 L1467.2,1809.7 L1469.2,1809.9 L1471.2,1810.1 L1473.1,1810.2 L1475.1,1810.4 L1477.1,1810.6 L1479.1,1810.8 L1481.1,1811.0 L1483.1,1811.2 L1485.1,1811.3 L1487.1,1811.5 L1489.1,1811.7 L1491.1,1811.9 L1493.1,1812.0 L1495.1,1812.2 L1497.1,1812.4 L1499.0,1812.5 L1501.0,1812.7 L1503.0,1812.9 L1505.0,1813.1 L1507.0,1813.2 L1509.0,1813.4 L1511.0,1813.5 L1513.0,1813.7 L1515.0,1813.9 L1517.0,1814.0 L1519.0,1814.2 L1521.0,1814.3 L1523.0,1814.5 L1525.0,1814.6 L1527.0,1814.8 L1529.0,1814.9 L1530.9,1815.1 L1532.9,1815.2 L1534.9,1815.4 L1536.9,1815.5 L1538.9,1815.6 L1540.9,1815.8 L1542.9,1815.9 L1544.9,1816.0 L1546.9,1816.1 L1548.9,1816.3 L1550.9,1816.4 L1552.9,1816.5 L1554.9,1816.6 L1556.9,1816.7 L1558.9,1816.8 L1560.9,1816.9 L1562.9,1817.0 L1564.9,1817.1 L1566.9,1817.2 L1568.9,1817.3 L1570.9,1817.4 L1572.9,1817.4 L1574.9,1817.5 L1576.9,1817.6 L1578.9,1817.7 L1580.9,1817.8 L1582.9,1817.9 L1584.9,1818.0 L1586.9,1818.1 L1588.9,1818.1 L1590.9,1818.2 L1592.9,1818.3 L1594.9,1818.4 L1596.9,1818.5 L1598.9,1818.5 L1600.9,1818.6 L1602.8,1818.7 L1604.8,1818.8 L1606.8,1818.9 L1608.8,1819.0 L1610.8,1819.0 L1612.8,1819.1 L1614.8,1819.2 L1616.8,1819.3 L1618.8,1819.4 L1620.8,1819.5 L1622.8,1819.6 L1624.8,1819.6 L1626.8,1819.7 L1628.8,1819.8 L1630.8,1819.9 L1632.8,1820.0 L1634.8,1820.0 L1636.8,1820.1 L1638.8,1820.2 L1640.8,1820.2 L1642.8,1820.3 L1644.8,1820.4 L1646.8,1820.4 L1648.8,1820.5 L1650.8,1820.5 L1652.8,1820.6 L1654.8,1820.6 L1656.8,1820.7 L1658.8,1820.7 L1660.8,1820.8 L1662.8,1820.8 L1664.8,1820.9 L1666.8,1820.9 L1668.8,1821.0 L1670.8,1821.0 L1672.8,1821.0 L1674.8,1821.1 L1676.8,1821.1 L1678.8,1821.2 L1680.8,1821.2 L1682.8,1821.2 L1684.8,1821.3 L1686.8,1821.3 L1688.8,1821.3 L1690.8,1821.3 L1692.8,1821.4 L1694.8,1821.4 L1696.7,1821.4 L1698.5,1821.4 L1700.0,1821.5 L1703.0,1821.5" fill="none" stroke="#ff0000" stroke-width="8" stroke-linejoin="round" clip-path="url(#c4)"/>
<path d="M1322.2,1793.3 L1324.1,1793.6 L1326.1,1793.9 L1328.1,1794.3 L1330.1,1794.6 L1332.0,1795.0 L1334.0,1795.3 L1336.0,1795.7 L1337.9,1796.0 L1339.9,1796.4 L1341.9,1796.7 L1343.8,1797.0 L1345.8,1797.3 L1347.8,1797.6 L1349.8,1797.9 L1351.8,1798.2 L1353.7,1798.5 L1355.7,1798.7 L1357.7,1799.0 L1359.7,1799.3 L1361.7,1799.5 L1363.7,1799.8 L1365.6,1800.0 L1367.6,1800.3 L1369.6,1800.5 L1371.6,1800.8 L1373.6,1801.0 L1375.6,1801.2 L1377.6,1801.4 L1379.5,1801.7 L1381.5,1801.9 L1383.5,1802.1 L1385.5,1802.3 L1387.5,1802.5 L1389.5,1802.7 L1391.5,1802.9 L1393.5,1803.1 L1395.5,1803.2 L1397.5,1803.4 L1399.4,1803.6 L1401.4,1803.8 L1403.4,1804.0 L1405.4,1804.2 L1407.4,1804.4 L1409.4,1804.6 L1411.4,1804.8 L1413.4,1805.0 L1415.4,1805.2 L1417.4,1805.4 L1419.3,1805.6 L1421.3,1805.8 L1423.3,1806.0 L1425.3,1806.2 L1427.3,1806.4 L1429.3,1806.6 L1431.3,1806.8 L1433.3,1807.0 L1435.3,1807.2 L1437.3,1807.3 L1439.3,1807.5 L1441.3,1807.6 L1443.2,1807.8 L1445.2,1808.0 L1447.2,1808.1 L1449.2,1808.3 L1451.2,1808.4 L1453.2,1808.6 L1455.2,1808.7 L1457.2,1808.9 L1459.2,1809.0 L1461.2,1809.2 L1463.2,1809.4 L1465.2,1809.5 L1467.2,1809.7 L1469.2,1809.9 L1471.2,1810.1 L1473.1,1810.2 L1475.1,1810.4 L1477.1,1810.6 L1479.1,1810.8 L1481.1,1811.0 L1483.1,1811.2 L1485.1,1811.3 L1487.1,1811.5 L1489.1,1811.7 L1491.1,1811.9 L1493.1,1812.0 L1495.1,1812.2 L1497.1,1812.4 L1499.0,1812.5 L1501.0,1812.7 L1503.0,1812.9 L1505.0,1813.1 L1507.0,1813.2 L1509.0,1813.4 L1511.0,1813.5 L1513.0,1813.7 L1515.0,1813.9 L1517.0,1814.0 L1519.0,1814.2 L1521.0,1814.3 L1523.0,1814.5 L1525.0,1814.6 L1527.0,1814.8 L1529.0,1814.9 L1530.9,1815.1 L1532.9,1815.2 L1534.9,1815.4 L1536.9,1815.5 L1538.9,1815.6 L1540.9,1815.8 L1542.9,1815.9 L1544.9,1816.0 L1546.9,1816.1 L1548.9,1816.3 L1550.9,1816.4 L1552.9,1816.5 L1554.9,1816.6 L1556.9,1816.7 L1558.9,1816.8 L1560.9,1816.9 L1562.9,1817.0 L1564.9,1817.1 L1566.9,1817.2 L1568.9,1817.3 L1570.9,1817.4 L1572.9,1817.4 L1574.9,1817.5 L1576.9,1817.6 L1578.9,1817.7 L1580.9,1817.8 L1582.9,1817.9 L1584.9,1818.0 L1586.9,1818.1 L1588.9,1818.1 L1590.9,1818.2 L1592.9,1818.3 L1594.9,1818.4 L1596.9,1818.5 L1598.9,1818.5 L1600.9,1818.6 L1602.8,1818.7 L1604.8,1818.8 L1606.8,1818.9 L1608.8,1819.0 L1610.8,1819.0 L1612.8,1819.1 L1614.8,1819.2 L1616.8,1819.3 L1618.8,1819.4 L1620.8,1819.5 L1622.8,1819.6 L1624.8,1819.6 L1626.8,1819.7 L1628.8,1819.8 L1630.8,1819.9 L1632.8,1820.0 L1634.8,1820.0 L1636.8,1820.1 L1638.8,1820.2 L1640.8,1820.2 L1642.8,1820.3 L1644.8,1820.4 L1646.8,1820.4 L1648.8,1820.5 L1650.8,1820.5 L1652.8,1820.6 L1654.8,1820.6 L1656.8,1820.7 L1658.8,1820.7 L1660.8,1820.8 L1662.8,1820.8 L1664.8,1820.9 L1666.8,1820.9 L1668.8,1821.0 L1670.8,1821.0 L1672.8,1821.0 L1674.8,1821.1 L1676.8,1821.1 L1678.8,1821.2 L1680.8,1821.2 L1682.8,1821.2 L1684.8,1821.3 L1686.8,1821.3 L1688.8,1821.3 L1690.8,1821.3 L1692.8,1821.4 L1694.8,1821.4 L1696.7,1821.4 L1698.5,1821.4 L1700.0,1821.5 L1703.0,1821.5" fill="none" stroke="#ff0000" stroke-width="4" clip-path="url(#c4)"/>
<rect x="254" y="57.0" width="560" height="80.3" fill="#fff" stroke="#000" stroke-width="2"/>
<line x1="275.5" y1="91.0" x2="275.5" y2="109.0" stroke="#000" stroke-width="1.8"/>
<line x1="306.1" y1="91.0" x2="306.1" y2="109.0" stroke="#000" stroke-width="1.8"/>
<line x1="336.7" y1="91.0" x2="336.7" y2="109.0" stroke="#000" stroke-width="1.8"/>
<line x1="367.3" y1="91.0" x2="367.3" y2="109.0" stroke="#000" stroke-width="1.8"/>
<line x1="397.9" y1="91.0" x2="397.9" y2="109.0" stroke="#000" stroke-width="1.8"/>
<text x="441.4" y="122.1" font-size="66.5" style="" fill="#000" >TExpNiOLi0</text>
<rect x="254" y="464.7" width="560" height="80.3" fill="#fff" stroke="#000" stroke-width="2"/>
<line x1="275.5" y1="498.7" x2="275.5" y2="516.7" stroke="#000" stroke-width="1.8"/>
<line x1="306.1" y1="498.7" x2="306.1" y2="516.7" stroke="#000" stroke-width="1.8"/>
<line x1="336.7" y1="498.7" x2="336.7" y2="516.7" stroke="#000" stroke-width="1.8"/>
<line x1="367.3" y1="498.7" x2="367.3" y2="516.7" stroke="#000" stroke-width="1.8"/>
<line x1="397.9" y1="498.7" x2="397.9" y2="516.7" stroke="#000" stroke-width="1.8"/>
<text x="441.4" y="529.8" font-size="66.5" style="" fill="#000" >TExpNiOLi5</text>
<rect x="254" y="872.4" width="596" height="80.3" fill="#fff" stroke="#000" stroke-width="2"/>
<line x1="275.5" y1="906.4" x2="275.5" y2="924.4" stroke="#000" stroke-width="1.8"/>
<line x1="306.1" y1="906.4" x2="306.1" y2="924.4" stroke="#000" stroke-width="1.8"/>
<line x1="336.7" y1="906.4" x2="336.7" y2="924.4" stroke="#000" stroke-width="1.8"/>
<line x1="367.3" y1="906.4" x2="367.3" y2="924.4" stroke="#000" stroke-width="1.8"/>
<line x1="397.9" y1="906.4" x2="397.9" y2="924.4" stroke="#000" stroke-width="1.8"/>
<text x="441.4" y="937.5" font-size="66.5" style="" fill="#000" >TExpNiOLi10</text>
<rect x="254" y="1280.1" width="596" height="80.3" fill="#fff" stroke="#000" stroke-width="2"/>
<line x1="275.5" y1="1314.1" x2="275.5" y2="1332.1" stroke="#000" stroke-width="1.8"/>
<line x1="306.1" y1="1314.1" x2="306.1" y2="1332.1" stroke="#000" stroke-width="1.8"/>
<line x1="336.7" y1="1314.1" x2="336.7" y2="1332.1" stroke="#000" stroke-width="1.8"/>
<line x1="367.3" y1="1314.1" x2="367.3" y2="1332.1" stroke="#000" stroke-width="1.8"/>
<line x1="397.9" y1="1314.1" x2="397.9" y2="1332.1" stroke="#000" stroke-width="1.8"/>
<text x="441.4" y="1345.2" font-size="66.5" style="" fill="#000" >TExpNiOLi15</text>
<rect x="254" y="1684.1" width="596" height="81.7" fill="#fff" stroke="#000" stroke-width="2"/>
<line x1="275.5" y1="1718.1" x2="275.5" y2="1736.1" stroke="#000" stroke-width="1.8"/>
<line x1="306.1" y1="1718.1" x2="306.1" y2="1736.1" stroke="#000" stroke-width="1.8"/>
<line x1="336.7" y1="1718.1" x2="336.7" y2="1736.1" stroke="#000" stroke-width="1.8"/>
<line x1="367.3" y1="1718.1" x2="367.3" y2="1736.1" stroke="#000" stroke-width="1.8"/>
<line x1="397.9" y1="1718.1" x2="397.9" y2="1736.1" stroke="#000" stroke-width="1.8"/>
<text x="441.4" y="1749.2" font-size="66.5" style="" fill="#000" >TExpNiOLi20</text>
<rect x="695" y="363.5" width="83.0" height="6.5" fill="#ff0000"/>
<text x="776.5" y="355.0" font-size="72.5" style="" fill="#ff0000" >TModel</text>
<text x="752.0" y="438.7" font-size="66" style="font-style:italic;" fill="#000" >MSE=3.7</text>
<rect x="683" y="750" width="83.5" height="6.0" fill="#ff0000"/>
<text x="766.2" y="741.4" font-size="72.5" style="" fill="#ff0000" >TModel</text>
<text x="734.3" y="825.0" font-size="66" style="font-style:italic;" fill="#000" >MSE=4.4</text>
<rect x="680" y="1141.8" width="83.6" height="6.1" fill="#ff0000"/>
<text x="762.5" y="1133.0" font-size="72.5" style="" fill="#ff0000" >TModel</text>
<text x="730.6" y="1217.9" font-size="66" style="font-style:italic;" fill="#000" >MSE=0.6</text>
<rect x="683" y="1574.4" width="83.5" height="6.1" fill="#ff0000"/>
<text x="766.2" y="1566.4" font-size="72.5" style="" fill="#ff0000" >TModel</text>
<text x="737.4" y="1645.9" font-size="66" style="font-style:italic;" fill="#000" >MSE=1.9</text>
<rect x="686" y="1950.7" width="84.2" height="6.3" fill="#ff0000"/>
<text x="768.7" y="1942.5" font-size="72.5" style="" fill="#ff0000" >TModel</text>
<text x="746.4" y="2033.8" font-size="66" style="font-style:italic;" fill="#000" >MSE=1.6</text>
<text x="1294.6" y="312.6" font-size="66.5" style="font-style:italic;" fill="#000" >d</text>
<text x="1350.7" y="312.6" font-size="66.5" style="font-style:italic;" fill="#000" >=</text>
<text x="1408.6" y="312.6" font-size="66.5" style="font-style:italic;" fill="#000" >487</text>
<text x="1537.0" y="312.6" font-size="66.5" style="font-style:italic;" fill="#000" >nm</text>
<text x="1289.3" y="407.0" font-size="66.5" style="font-style:italic;" fill="#000" >E</text>
<text x="1333.0" y="425.0" font-size="44" style="font-style:italic;" fill="#000" >g</text>
<text x="1358.0" y="407.0" font-size="66.5" style="font-style:italic;" fill="#000" >=</text>
<text x="1415.7" y="407.0" font-size="66.5" style="font-style:italic;" fill="#000" >3.3</text>
<text x="1526.6" y="407.0" font-size="66.5" style="font-style:italic;" fill="#000" >eV</text>
<text x="1288.3" y="730.2" font-size="66.5" style="font-style:italic;" fill="#000" >d</text>
<text x="1344.4" y="730.2" font-size="66.5" style="font-style:italic;" fill="#000" >=</text>
<text x="1403.3" y="730.2" font-size="66.5" style="font-style:italic;" fill="#000" >282</text>
<text x="1532.0" y="730.2" font-size="66.5" style="font-style:italic;" fill="#000" >nm</text>
<text x="1283.4" y="817.4" font-size="66.5" style="font-style:italic;" fill="#000" >E</text>
<text x="1327.3" y="835.4" font-size="44" style="font-style:italic;" fill="#000" >g</text>
<text x="1352.9" y="817.4" font-size="66.5" style="font-style:italic;" fill="#000" >=</text>
<text x="1409.3" y="817.4" font-size="66.5" style="font-style:italic;" fill="#000" >3.7</text>
<text x="1522.0" y="817.4" font-size="66.5" style="font-style:italic;" fill="#000" >eV</text>
<text x="1273.8" y="1109.8" font-size="66.5" style="font-style:italic;" fill="#000" >d</text>
<text x="1330.4" y="1109.8" font-size="66.5" style="font-style:italic;" fill="#000" >=</text>
<text x="1389.2" y="1109.8" font-size="66.5" style="font-style:italic;" fill="#000" >194</text>
<text x="1517.0" y="1109.8" font-size="66.5" style="font-style:italic;" fill="#000" >nm</text>
<text x="1265.4" y="1203.0" font-size="66.5" style="font-style:italic;" fill="#000" >E</text>
<text x="1309.0" y="1221.0" font-size="44" style="font-style:italic;" fill="#000" >g</text>
<text x="1335.3" y="1203.0" font-size="66.5" style="font-style:italic;" fill="#000" >=</text>
<text x="1391.8" y="1203.0" font-size="66.5" style="font-style:italic;" fill="#000" >3.7</text>
<text x="1504.3" y="1203.0" font-size="66.5" style="font-style:italic;" fill="#000" >eV</text>
<text x="1267.8" y="1525.9" font-size="66.5" style="font-style:italic;" fill="#000" >d</text>
<text x="1324.4" y="1525.9" font-size="66.5" style="font-style:italic;" fill="#000" >=</text>
<text x="1383.2" y="1525.9" font-size="66.5" style="font-style:italic;" fill="#000" >170</text>
<text x="1511.4" y="1525.9" font-size="66.5" style="font-style:italic;" fill="#000" >nm</text>
<text x="1262.2" y="1619.8" font-size="66.5" style="font-style:italic;" fill="#000" >E</text>
<text x="1305.9" y="1637.8" font-size="44" style="font-style:italic;" fill="#000" >g</text>
<text x="1331.6" y="1619.8" font-size="66.5" style="font-style:italic;" fill="#000" >=</text>
<text x="1388.0" y="1619.8" font-size="66.5" style="font-style:italic;" fill="#000" >3.6</text>
<text x="1499.5" y="1619.8" font-size="66.5" style="font-style:italic;" fill="#000" >eV</text>
<text x="1276.3" y="1935.0" font-size="66.5" style="font-style:italic;" fill="#000" >d</text>
<text x="1334.0" y="1935.0" font-size="66.5" style="font-style:italic;" fill="#000" >=</text>
<text x="1392.9" y="1935.0" font-size="66.5" style="font-style:italic;" fill="#000" >140</text>
<text x="1519.9" y="1935.0" font-size="66.5" style="font-style:italic;" fill="#000" >nm</text>
<text x="1275.0" y="2030.7" font-size="66.5" style="font-style:italic;" fill="#000" >E</text>
<text x="1320.0" y="2048.7" font-size="44" style="font-style:italic;" fill="#000" >g</text>
<text x="1345.4" y="2030.7" font-size="66.5" style="font-style:italic;" fill="#000" >=</text>
<text x="1401.4" y="2030.7" font-size="66.5" style="font-style:italic;" fill="#000" >3.7</text>
<text x="1514.0" y="2030.7" font-size="66.5" style="font-style:italic;" fill="#000" >eV</text>
<text x="129.6" y="78.5" font-size="55" style="" fill="#000" >100</text>
<text x="159.6" y="180.4" font-size="55" style="" fill="#000" >75</text>
<text x="159.6" y="282.4" font-size="55" style="" fill="#000" >50</text>
<text x="159.6" y="384.3" font-size="55" style="" fill="#000" >25</text>
<text x="129.6" y="486.2" font-size="55" style="" fill="#000" >100</text>
<text x="159.6" y="588.1" font-size="55" style="" fill="#000" >75</text>
<text x="159.6" y="690.0" font-size="55" style="" fill="#000" >50</text>
<text x="159.6" y="792.0" font-size="55" style="" fill="#000" >25</text>
<text x="129.6" y="893.9" font-size="55" style="" fill="#000" >100</text>
<text x="159.6" y="995.8" font-size="55" style="" fill="#000" >75</text>
<text x="159.6" y="1097.8" font-size="55" style="" fill="#000" >50</text>
<text x="159.6" y="1199.7" font-size="55" style="" fill="#000" >25</text>
<text x="129.6" y="1301.6" font-size="55" style="" fill="#000" >100</text>
<text x="159.6" y="1403.5" font-size="55" style="" fill="#000" >75</text>
<text x="159.6" y="1505.4" font-size="55" style="" fill="#000" >50</text>
<text x="159.6" y="1607.4" font-size="55" style="" fill="#000" >25</text>
<text x="129.6" y="1709.3" font-size="55" style="" fill="#000" >100</text>
<text x="159.6" y="1811.2" font-size="55" style="" fill="#000" >75</text>
<text x="159.6" y="1913.1" font-size="55" style="" fill="#000" >50</text>
<text x="159.6" y="2015.1" font-size="55" style="" fill="#000" >25</text>
<text x="190.6" y="2117.0" font-size="55" style="" fill="#000" >0</text>
<text x="176.5" y="2196.0" font-size="86" style="" fill="#000" >200</text>
<text x="500.6" y="2196.0" font-size="86" style="" fill="#000" >400</text>
<text x="822.7" y="2196.0" font-size="86" style="" fill="#000" >600</text>
<text x="1145.8" y="2196.0" font-size="86" style="" fill="#000" >800</text>
<text x="1444.2" y="2196.0" font-size="86" style="" fill="#000" >1000</text>
<text x="622.0" y="2289.8" font-size="84.5" style="" fill="#000" >Wavelength (nm)</text>
<text x="0" y="0" font-size="85" transform="translate(117.4,1358.8) rotate(-90)">Transmittance (%)</text>
</svg></body></html>
